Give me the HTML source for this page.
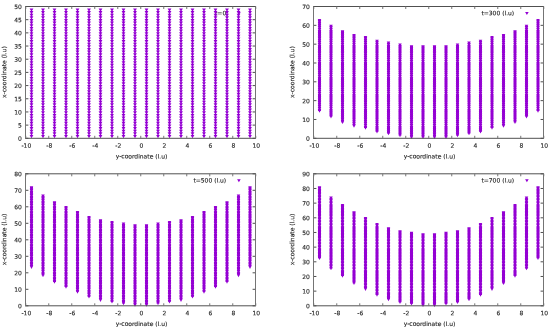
<!DOCTYPE html>
<html lang="en"><head><meta charset="utf-8"><title>Lattice profile plots</title>
<style>html,body{margin:0;padding:0;background:#fff;overflow:hidden}svg{display:block;will-change:transform}text{font-family:"DejaVu Sans", "Liberation Sans", sans-serif;font-size:6px;fill:#222;stroke:#222;stroke-width:0.12px}.lh{stroke:#505050;stroke-width:1;fill:none}.lv{stroke:#747474;stroke-width:1;fill:none}.pt{fill:#9400d3;stroke:none}</style></head><body>
<svg width="550" height="330" viewBox="0 0 550 330">
<rect width="550" height="330" fill="#fff"/>
<g>
<text transform="translate(226.2,15.2) rotate(0.1)" text-anchor="end">t=0</text>
<path class="pt" d="M29.6,134.96h3.8l-1.9,3.4zM29.6,132.33h3.8l-1.9,3.4zM29.6,129.69h3.8l-1.9,3.4zM29.6,127.06h3.8l-1.9,3.4zM29.6,124.42h3.8l-1.9,3.4zM29.6,121.78h3.8l-1.9,3.4zM29.6,119.15h3.8l-1.9,3.4zM29.6,116.51h3.8l-1.9,3.4zM29.6,113.88h3.8l-1.9,3.4zM29.6,111.24h3.8l-1.9,3.4zM29.6,108.6h3.8l-1.9,3.4zM29.6,105.97h3.8l-1.9,3.4zM29.6,103.33h3.8l-1.9,3.4zM29.6,100.7h3.8l-1.9,3.4zM29.6,98.06h3.8l-1.9,3.4zM29.6,95.42h3.8l-1.9,3.4zM29.6,92.79h3.8l-1.9,3.4zM29.6,90.15h3.8l-1.9,3.4zM29.6,87.52h3.8l-1.9,3.4zM29.6,84.88h3.8l-1.9,3.4zM29.6,82.24h3.8l-1.9,3.4zM29.6,79.61h3.8l-1.9,3.4zM29.6,76.97h3.8l-1.9,3.4zM29.6,74.34h3.8l-1.9,3.4zM29.6,71.7h3.8l-1.9,3.4zM29.6,69.06h3.8l-1.9,3.4zM29.6,66.43h3.8l-1.9,3.4zM29.6,63.79h3.8l-1.9,3.4zM29.6,61.16h3.8l-1.9,3.4zM29.6,58.52h3.8l-1.9,3.4zM29.6,55.88h3.8l-1.9,3.4zM29.6,53.25h3.8l-1.9,3.4zM29.6,50.61h3.8l-1.9,3.4zM29.6,47.98h3.8l-1.9,3.4zM29.6,45.34h3.8l-1.9,3.4zM29.6,42.7h3.8l-1.9,3.4zM29.6,40.07h3.8l-1.9,3.4zM29.6,37.43h3.8l-1.9,3.4zM29.6,34.8h3.8l-1.9,3.4zM29.6,32.16h3.8l-1.9,3.4zM29.6,29.52h3.8l-1.9,3.4zM29.6,26.89h3.8l-1.9,3.4zM29.6,24.25h3.8l-1.9,3.4zM29.6,21.62h3.8l-1.9,3.4zM29.6,18.98h3.8l-1.9,3.4zM29.6,16.34h3.8l-1.9,3.4zM29.6,13.71h3.8l-1.9,3.4zM29.6,11.07h3.8l-1.9,3.4zM29.6,8.44h3.8l-1.9,3.4zM41.1,134.96h3.8l-1.9,3.4zM41.1,132.33h3.8l-1.9,3.4zM41.1,129.69h3.8l-1.9,3.4zM41.1,127.06h3.8l-1.9,3.4zM41.1,124.42h3.8l-1.9,3.4zM41.1,121.78h3.8l-1.9,3.4zM41.1,119.15h3.8l-1.9,3.4zM41.1,116.51h3.8l-1.9,3.4zM41.1,113.88h3.8l-1.9,3.4zM41.1,111.24h3.8l-1.9,3.4zM41.1,108.6h3.8l-1.9,3.4zM41.1,105.97h3.8l-1.9,3.4zM41.1,103.33h3.8l-1.9,3.4zM41.1,100.7h3.8l-1.9,3.4zM41.1,98.06h3.8l-1.9,3.4zM41.1,95.42h3.8l-1.9,3.4zM41.1,92.79h3.8l-1.9,3.4zM41.1,90.15h3.8l-1.9,3.4zM41.1,87.52h3.8l-1.9,3.4zM41.1,84.88h3.8l-1.9,3.4zM41.1,82.24h3.8l-1.9,3.4zM41.1,79.61h3.8l-1.9,3.4zM41.1,76.97h3.8l-1.9,3.4zM41.1,74.34h3.8l-1.9,3.4zM41.1,71.7h3.8l-1.9,3.4zM41.1,69.06h3.8l-1.9,3.4zM41.1,66.43h3.8l-1.9,3.4zM41.1,63.79h3.8l-1.9,3.4zM41.1,61.16h3.8l-1.9,3.4zM41.1,58.52h3.8l-1.9,3.4zM41.1,55.88h3.8l-1.9,3.4zM41.1,53.25h3.8l-1.9,3.4zM41.1,50.61h3.8l-1.9,3.4zM41.1,47.98h3.8l-1.9,3.4zM41.1,45.34h3.8l-1.9,3.4zM41.1,42.7h3.8l-1.9,3.4zM41.1,40.07h3.8l-1.9,3.4zM41.1,37.43h3.8l-1.9,3.4zM41.1,34.8h3.8l-1.9,3.4zM41.1,32.16h3.8l-1.9,3.4zM41.1,29.52h3.8l-1.9,3.4zM41.1,26.89h3.8l-1.9,3.4zM41.1,24.25h3.8l-1.9,3.4zM41.1,21.62h3.8l-1.9,3.4zM41.1,18.98h3.8l-1.9,3.4zM41.1,16.34h3.8l-1.9,3.4zM41.1,13.71h3.8l-1.9,3.4zM41.1,11.07h3.8l-1.9,3.4zM41.1,8.44h3.8l-1.9,3.4zM52.6,134.96h3.8l-1.9,3.4zM52.6,132.33h3.8l-1.9,3.4zM52.6,129.69h3.8l-1.9,3.4zM52.6,127.06h3.8l-1.9,3.4zM52.6,124.42h3.8l-1.9,3.4zM52.6,121.78h3.8l-1.9,3.4zM52.6,119.15h3.8l-1.9,3.4zM52.6,116.51h3.8l-1.9,3.4zM52.6,113.88h3.8l-1.9,3.4zM52.6,111.24h3.8l-1.9,3.4zM52.6,108.6h3.8l-1.9,3.4zM52.6,105.97h3.8l-1.9,3.4zM52.6,103.33h3.8l-1.9,3.4zM52.6,100.7h3.8l-1.9,3.4zM52.6,98.06h3.8l-1.9,3.4zM52.6,95.42h3.8l-1.9,3.4zM52.6,92.79h3.8l-1.9,3.4zM52.6,90.15h3.8l-1.9,3.4zM52.6,87.52h3.8l-1.9,3.4zM52.6,84.88h3.8l-1.9,3.4zM52.6,82.24h3.8l-1.9,3.4zM52.6,79.61h3.8l-1.9,3.4zM52.6,76.97h3.8l-1.9,3.4zM52.6,74.34h3.8l-1.9,3.4zM52.6,71.7h3.8l-1.9,3.4zM52.6,69.06h3.8l-1.9,3.4zM52.6,66.43h3.8l-1.9,3.4zM52.6,63.79h3.8l-1.9,3.4zM52.6,61.16h3.8l-1.9,3.4zM52.6,58.52h3.8l-1.9,3.4zM52.6,55.88h3.8l-1.9,3.4zM52.6,53.25h3.8l-1.9,3.4zM52.6,50.61h3.8l-1.9,3.4zM52.6,47.98h3.8l-1.9,3.4zM52.6,45.34h3.8l-1.9,3.4zM52.6,42.7h3.8l-1.9,3.4zM52.6,40.07h3.8l-1.9,3.4zM52.6,37.43h3.8l-1.9,3.4zM52.6,34.8h3.8l-1.9,3.4zM52.6,32.16h3.8l-1.9,3.4zM52.6,29.52h3.8l-1.9,3.4zM52.6,26.89h3.8l-1.9,3.4zM52.6,24.25h3.8l-1.9,3.4zM52.6,21.62h3.8l-1.9,3.4zM52.6,18.98h3.8l-1.9,3.4zM52.6,16.34h3.8l-1.9,3.4zM52.6,13.71h3.8l-1.9,3.4zM52.6,11.07h3.8l-1.9,3.4zM52.6,8.44h3.8l-1.9,3.4zM64.1,134.96h3.8l-1.9,3.4zM64.1,132.33h3.8l-1.9,3.4zM64.1,129.69h3.8l-1.9,3.4zM64.1,127.06h3.8l-1.9,3.4zM64.1,124.42h3.8l-1.9,3.4zM64.1,121.78h3.8l-1.9,3.4zM64.1,119.15h3.8l-1.9,3.4zM64.1,116.51h3.8l-1.9,3.4zM64.1,113.88h3.8l-1.9,3.4zM64.1,111.24h3.8l-1.9,3.4zM64.1,108.6h3.8l-1.9,3.4zM64.1,105.97h3.8l-1.9,3.4zM64.1,103.33h3.8l-1.9,3.4zM64.1,100.7h3.8l-1.9,3.4zM64.1,98.06h3.8l-1.9,3.4zM64.1,95.42h3.8l-1.9,3.4zM64.1,92.79h3.8l-1.9,3.4zM64.1,90.15h3.8l-1.9,3.4zM64.1,87.52h3.8l-1.9,3.4zM64.1,84.88h3.8l-1.9,3.4zM64.1,82.24h3.8l-1.9,3.4zM64.1,79.61h3.8l-1.9,3.4zM64.1,76.97h3.8l-1.9,3.4zM64.1,74.34h3.8l-1.9,3.4zM64.1,71.7h3.8l-1.9,3.4zM64.1,69.06h3.8l-1.9,3.4zM64.1,66.43h3.8l-1.9,3.4zM64.1,63.79h3.8l-1.9,3.4zM64.1,61.16h3.8l-1.9,3.4zM64.1,58.52h3.8l-1.9,3.4zM64.1,55.88h3.8l-1.9,3.4zM64.1,53.25h3.8l-1.9,3.4zM64.1,50.61h3.8l-1.9,3.4zM64.1,47.98h3.8l-1.9,3.4zM64.1,45.34h3.8l-1.9,3.4zM64.1,42.7h3.8l-1.9,3.4zM64.1,40.07h3.8l-1.9,3.4zM64.1,37.43h3.8l-1.9,3.4zM64.1,34.8h3.8l-1.9,3.4zM64.1,32.16h3.8l-1.9,3.4zM64.1,29.52h3.8l-1.9,3.4zM64.1,26.89h3.8l-1.9,3.4zM64.1,24.25h3.8l-1.9,3.4zM64.1,21.62h3.8l-1.9,3.4zM64.1,18.98h3.8l-1.9,3.4zM64.1,16.34h3.8l-1.9,3.4zM64.1,13.71h3.8l-1.9,3.4zM64.1,11.07h3.8l-1.9,3.4zM64.1,8.44h3.8l-1.9,3.4zM75.6,134.96h3.8l-1.9,3.4zM75.6,132.33h3.8l-1.9,3.4zM75.6,129.69h3.8l-1.9,3.4zM75.6,127.06h3.8l-1.9,3.4zM75.6,124.42h3.8l-1.9,3.4zM75.6,121.78h3.8l-1.9,3.4zM75.6,119.15h3.8l-1.9,3.4zM75.6,116.51h3.8l-1.9,3.4zM75.6,113.88h3.8l-1.9,3.4zM75.6,111.24h3.8l-1.9,3.4zM75.6,108.6h3.8l-1.9,3.4zM75.6,105.97h3.8l-1.9,3.4zM75.6,103.33h3.8l-1.9,3.4zM75.6,100.7h3.8l-1.9,3.4zM75.6,98.06h3.8l-1.9,3.4zM75.6,95.42h3.8l-1.9,3.4zM75.6,92.79h3.8l-1.9,3.4zM75.6,90.15h3.8l-1.9,3.4zM75.6,87.52h3.8l-1.9,3.4zM75.6,84.88h3.8l-1.9,3.4zM75.6,82.24h3.8l-1.9,3.4zM75.6,79.61h3.8l-1.9,3.4zM75.6,76.97h3.8l-1.9,3.4zM75.6,74.34h3.8l-1.9,3.4zM75.6,71.7h3.8l-1.9,3.4zM75.6,69.06h3.8l-1.9,3.4zM75.6,66.43h3.8l-1.9,3.4zM75.6,63.79h3.8l-1.9,3.4zM75.6,61.16h3.8l-1.9,3.4zM75.6,58.52h3.8l-1.9,3.4zM75.6,55.88h3.8l-1.9,3.4zM75.6,53.25h3.8l-1.9,3.4zM75.6,50.61h3.8l-1.9,3.4zM75.6,47.98h3.8l-1.9,3.4zM75.6,45.34h3.8l-1.9,3.4zM75.6,42.7h3.8l-1.9,3.4zM75.6,40.07h3.8l-1.9,3.4zM75.6,37.43h3.8l-1.9,3.4zM75.6,34.8h3.8l-1.9,3.4zM75.6,32.16h3.8l-1.9,3.4zM75.6,29.52h3.8l-1.9,3.4zM75.6,26.89h3.8l-1.9,3.4zM75.6,24.25h3.8l-1.9,3.4zM75.6,21.62h3.8l-1.9,3.4zM75.6,18.98h3.8l-1.9,3.4zM75.6,16.34h3.8l-1.9,3.4zM75.6,13.71h3.8l-1.9,3.4zM75.6,11.07h3.8l-1.9,3.4zM75.6,8.44h3.8l-1.9,3.4zM87.1,134.96h3.8l-1.9,3.4zM87.1,132.33h3.8l-1.9,3.4zM87.1,129.69h3.8l-1.9,3.4zM87.1,127.06h3.8l-1.9,3.4zM87.1,124.42h3.8l-1.9,3.4zM87.1,121.78h3.8l-1.9,3.4zM87.1,119.15h3.8l-1.9,3.4zM87.1,116.51h3.8l-1.9,3.4zM87.1,113.88h3.8l-1.9,3.4zM87.1,111.24h3.8l-1.9,3.4zM87.1,108.6h3.8l-1.9,3.4zM87.1,105.97h3.8l-1.9,3.4zM87.1,103.33h3.8l-1.9,3.4zM87.1,100.7h3.8l-1.9,3.4zM87.1,98.06h3.8l-1.9,3.4zM87.1,95.42h3.8l-1.9,3.4zM87.1,92.79h3.8l-1.9,3.4zM87.1,90.15h3.8l-1.9,3.4zM87.1,87.52h3.8l-1.9,3.4zM87.1,84.88h3.8l-1.9,3.4zM87.1,82.24h3.8l-1.9,3.4zM87.1,79.61h3.8l-1.9,3.4zM87.1,76.97h3.8l-1.9,3.4zM87.1,74.34h3.8l-1.9,3.4zM87.1,71.7h3.8l-1.9,3.4zM87.1,69.06h3.8l-1.9,3.4zM87.1,66.43h3.8l-1.9,3.4zM87.1,63.79h3.8l-1.9,3.4zM87.1,61.16h3.8l-1.9,3.4zM87.1,58.52h3.8l-1.9,3.4zM87.1,55.88h3.8l-1.9,3.4zM87.1,53.25h3.8l-1.9,3.4zM87.1,50.61h3.8l-1.9,3.4zM87.1,47.98h3.8l-1.9,3.4zM87.1,45.34h3.8l-1.9,3.4zM87.1,42.7h3.8l-1.9,3.4zM87.1,40.07h3.8l-1.9,3.4zM87.1,37.43h3.8l-1.9,3.4zM87.1,34.8h3.8l-1.9,3.4zM87.1,32.16h3.8l-1.9,3.4zM87.1,29.52h3.8l-1.9,3.4zM87.1,26.89h3.8l-1.9,3.4zM87.1,24.25h3.8l-1.9,3.4zM87.1,21.62h3.8l-1.9,3.4zM87.1,18.98h3.8l-1.9,3.4zM87.1,16.34h3.8l-1.9,3.4zM87.1,13.71h3.8l-1.9,3.4zM87.1,11.07h3.8l-1.9,3.4zM87.1,8.44h3.8l-1.9,3.4zM98.6,134.96h3.8l-1.9,3.4zM98.6,132.33h3.8l-1.9,3.4zM98.6,129.69h3.8l-1.9,3.4zM98.6,127.06h3.8l-1.9,3.4zM98.6,124.42h3.8l-1.9,3.4zM98.6,121.78h3.8l-1.9,3.4zM98.6,119.15h3.8l-1.9,3.4zM98.6,116.51h3.8l-1.9,3.4zM98.6,113.88h3.8l-1.9,3.4zM98.6,111.24h3.8l-1.9,3.4zM98.6,108.6h3.8l-1.9,3.4zM98.6,105.97h3.8l-1.9,3.4zM98.6,103.33h3.8l-1.9,3.4zM98.6,100.7h3.8l-1.9,3.4zM98.6,98.06h3.8l-1.9,3.4zM98.6,95.42h3.8l-1.9,3.4zM98.6,92.79h3.8l-1.9,3.4zM98.6,90.15h3.8l-1.9,3.4zM98.6,87.52h3.8l-1.9,3.4zM98.6,84.88h3.8l-1.9,3.4zM98.6,82.24h3.8l-1.9,3.4zM98.6,79.61h3.8l-1.9,3.4zM98.6,76.97h3.8l-1.9,3.4zM98.6,74.34h3.8l-1.9,3.4zM98.6,71.7h3.8l-1.9,3.4zM98.6,69.06h3.8l-1.9,3.4zM98.6,66.43h3.8l-1.9,3.4zM98.6,63.79h3.8l-1.9,3.4zM98.6,61.16h3.8l-1.9,3.4zM98.6,58.52h3.8l-1.9,3.4zM98.6,55.88h3.8l-1.9,3.4zM98.6,53.25h3.8l-1.9,3.4zM98.6,50.61h3.8l-1.9,3.4zM98.6,47.98h3.8l-1.9,3.4zM98.6,45.34h3.8l-1.9,3.4zM98.6,42.7h3.8l-1.9,3.4zM98.6,40.07h3.8l-1.9,3.4zM98.6,37.43h3.8l-1.9,3.4zM98.6,34.8h3.8l-1.9,3.4zM98.6,32.16h3.8l-1.9,3.4zM98.6,29.52h3.8l-1.9,3.4zM98.6,26.89h3.8l-1.9,3.4zM98.6,24.25h3.8l-1.9,3.4zM98.6,21.62h3.8l-1.9,3.4zM98.6,18.98h3.8l-1.9,3.4zM98.6,16.34h3.8l-1.9,3.4zM98.6,13.71h3.8l-1.9,3.4zM98.6,11.07h3.8l-1.9,3.4zM98.6,8.44h3.8l-1.9,3.4zM110.1,134.96h3.8l-1.9,3.4zM110.1,132.33h3.8l-1.9,3.4zM110.1,129.69h3.8l-1.9,3.4zM110.1,127.06h3.8l-1.9,3.4zM110.1,124.42h3.8l-1.9,3.4zM110.1,121.78h3.8l-1.9,3.4zM110.1,119.15h3.8l-1.9,3.4zM110.1,116.51h3.8l-1.9,3.4zM110.1,113.88h3.8l-1.9,3.4zM110.1,111.24h3.8l-1.9,3.4zM110.1,108.6h3.8l-1.9,3.4zM110.1,105.97h3.8l-1.9,3.4zM110.1,103.33h3.8l-1.9,3.4zM110.1,100.7h3.8l-1.9,3.4zM110.1,98.06h3.8l-1.9,3.4zM110.1,95.42h3.8l-1.9,3.4zM110.1,92.79h3.8l-1.9,3.4zM110.1,90.15h3.8l-1.9,3.4zM110.1,87.52h3.8l-1.9,3.4zM110.1,84.88h3.8l-1.9,3.4zM110.1,82.24h3.8l-1.9,3.4zM110.1,79.61h3.8l-1.9,3.4zM110.1,76.97h3.8l-1.9,3.4zM110.1,74.34h3.8l-1.9,3.4zM110.1,71.7h3.8l-1.9,3.4zM110.1,69.06h3.8l-1.9,3.4zM110.1,66.43h3.8l-1.9,3.4zM110.1,63.79h3.8l-1.9,3.4zM110.1,61.16h3.8l-1.9,3.4zM110.1,58.52h3.8l-1.9,3.4zM110.1,55.88h3.8l-1.9,3.4zM110.1,53.25h3.8l-1.9,3.4zM110.1,50.61h3.8l-1.9,3.4zM110.1,47.98h3.8l-1.9,3.4zM110.1,45.34h3.8l-1.9,3.4zM110.1,42.7h3.8l-1.9,3.4zM110.1,40.07h3.8l-1.9,3.4zM110.1,37.43h3.8l-1.9,3.4zM110.1,34.8h3.8l-1.9,3.4zM110.1,32.16h3.8l-1.9,3.4zM110.1,29.52h3.8l-1.9,3.4zM110.1,26.89h3.8l-1.9,3.4zM110.1,24.25h3.8l-1.9,3.4zM110.1,21.62h3.8l-1.9,3.4zM110.1,18.98h3.8l-1.9,3.4zM110.1,16.34h3.8l-1.9,3.4zM110.1,13.71h3.8l-1.9,3.4zM110.1,11.07h3.8l-1.9,3.4zM110.1,8.44h3.8l-1.9,3.4zM121.6,134.96h3.8l-1.9,3.4zM121.6,132.33h3.8l-1.9,3.4zM121.6,129.69h3.8l-1.9,3.4zM121.6,127.06h3.8l-1.9,3.4zM121.6,124.42h3.8l-1.9,3.4zM121.6,121.78h3.8l-1.9,3.4zM121.6,119.15h3.8l-1.9,3.4zM121.6,116.51h3.8l-1.9,3.4zM121.6,113.88h3.8l-1.9,3.4zM121.6,111.24h3.8l-1.9,3.4zM121.6,108.6h3.8l-1.9,3.4zM121.6,105.97h3.8l-1.9,3.4zM121.6,103.33h3.8l-1.9,3.4zM121.6,100.7h3.8l-1.9,3.4zM121.6,98.06h3.8l-1.9,3.4zM121.6,95.42h3.8l-1.9,3.4zM121.6,92.79h3.8l-1.9,3.4zM121.6,90.15h3.8l-1.9,3.4zM121.6,87.52h3.8l-1.9,3.4zM121.6,84.88h3.8l-1.9,3.4zM121.6,82.24h3.8l-1.9,3.4zM121.6,79.61h3.8l-1.9,3.4zM121.6,76.97h3.8l-1.9,3.4zM121.6,74.34h3.8l-1.9,3.4zM121.6,71.7h3.8l-1.9,3.4zM121.6,69.06h3.8l-1.9,3.4zM121.6,66.43h3.8l-1.9,3.4zM121.6,63.79h3.8l-1.9,3.4zM121.6,61.16h3.8l-1.9,3.4zM121.6,58.52h3.8l-1.9,3.4zM121.6,55.88h3.8l-1.9,3.4zM121.6,53.25h3.8l-1.9,3.4zM121.6,50.61h3.8l-1.9,3.4zM121.6,47.98h3.8l-1.9,3.4zM121.6,45.34h3.8l-1.9,3.4zM121.6,42.7h3.8l-1.9,3.4zM121.6,40.07h3.8l-1.9,3.4zM121.6,37.43h3.8l-1.9,3.4zM121.6,34.8h3.8l-1.9,3.4zM121.6,32.16h3.8l-1.9,3.4zM121.6,29.52h3.8l-1.9,3.4zM121.6,26.89h3.8l-1.9,3.4zM121.6,24.25h3.8l-1.9,3.4zM121.6,21.62h3.8l-1.9,3.4zM121.6,18.98h3.8l-1.9,3.4zM121.6,16.34h3.8l-1.9,3.4zM121.6,13.71h3.8l-1.9,3.4zM121.6,11.07h3.8l-1.9,3.4zM121.6,8.44h3.8l-1.9,3.4zM133.1,134.96h3.8l-1.9,3.4zM133.1,132.33h3.8l-1.9,3.4zM133.1,129.69h3.8l-1.9,3.4zM133.1,127.06h3.8l-1.9,3.4zM133.1,124.42h3.8l-1.9,3.4zM133.1,121.78h3.8l-1.9,3.4zM133.1,119.15h3.8l-1.9,3.4zM133.1,116.51h3.8l-1.9,3.4zM133.1,113.88h3.8l-1.9,3.4zM133.1,111.24h3.8l-1.9,3.4zM133.1,108.6h3.8l-1.9,3.4zM133.1,105.97h3.8l-1.9,3.4zM133.1,103.33h3.8l-1.9,3.4zM133.1,100.7h3.8l-1.9,3.4zM133.1,98.06h3.8l-1.9,3.4zM133.1,95.42h3.8l-1.9,3.4zM133.1,92.79h3.8l-1.9,3.4zM133.1,90.15h3.8l-1.9,3.4zM133.1,87.52h3.8l-1.9,3.4zM133.1,84.88h3.8l-1.9,3.4zM133.1,82.24h3.8l-1.9,3.4zM133.1,79.61h3.8l-1.9,3.4zM133.1,76.97h3.8l-1.9,3.4zM133.1,74.34h3.8l-1.9,3.4zM133.1,71.7h3.8l-1.9,3.4zM133.1,69.06h3.8l-1.9,3.4zM133.1,66.43h3.8l-1.9,3.4zM133.1,63.79h3.8l-1.9,3.4zM133.1,61.16h3.8l-1.9,3.4zM133.1,58.52h3.8l-1.9,3.4zM133.1,55.88h3.8l-1.9,3.4zM133.1,53.25h3.8l-1.9,3.4zM133.1,50.61h3.8l-1.9,3.4zM133.1,47.98h3.8l-1.9,3.4zM133.1,45.34h3.8l-1.9,3.4zM133.1,42.7h3.8l-1.9,3.4zM133.1,40.07h3.8l-1.9,3.4zM133.1,37.43h3.8l-1.9,3.4zM133.1,34.8h3.8l-1.9,3.4zM133.1,32.16h3.8l-1.9,3.4zM133.1,29.52h3.8l-1.9,3.4zM133.1,26.89h3.8l-1.9,3.4zM133.1,24.25h3.8l-1.9,3.4zM133.1,21.62h3.8l-1.9,3.4zM133.1,18.98h3.8l-1.9,3.4zM133.1,16.34h3.8l-1.9,3.4zM133.1,13.71h3.8l-1.9,3.4zM133.1,11.07h3.8l-1.9,3.4zM133.1,8.44h3.8l-1.9,3.4zM144.6,134.96h3.8l-1.9,3.4zM144.6,132.33h3.8l-1.9,3.4zM144.6,129.69h3.8l-1.9,3.4zM144.6,127.06h3.8l-1.9,3.4zM144.6,124.42h3.8l-1.9,3.4zM144.6,121.78h3.8l-1.9,3.4zM144.6,119.15h3.8l-1.9,3.4zM144.6,116.51h3.8l-1.9,3.4zM144.6,113.88h3.8l-1.9,3.4zM144.6,111.24h3.8l-1.9,3.4zM144.6,108.6h3.8l-1.9,3.4zM144.6,105.97h3.8l-1.9,3.4zM144.6,103.33h3.8l-1.9,3.4zM144.6,100.7h3.8l-1.9,3.4zM144.6,98.06h3.8l-1.9,3.4zM144.6,95.42h3.8l-1.9,3.4zM144.6,92.79h3.8l-1.9,3.4zM144.6,90.15h3.8l-1.9,3.4zM144.6,87.52h3.8l-1.9,3.4zM144.6,84.88h3.8l-1.9,3.4zM144.6,82.24h3.8l-1.9,3.4zM144.6,79.61h3.8l-1.9,3.4zM144.6,76.97h3.8l-1.9,3.4zM144.6,74.34h3.8l-1.9,3.4zM144.6,71.7h3.8l-1.9,3.4zM144.6,69.06h3.8l-1.9,3.4zM144.6,66.43h3.8l-1.9,3.4zM144.6,63.79h3.8l-1.9,3.4zM144.6,61.16h3.8l-1.9,3.4zM144.6,58.52h3.8l-1.9,3.4zM144.6,55.88h3.8l-1.9,3.4zM144.6,53.25h3.8l-1.9,3.4zM144.6,50.61h3.8l-1.9,3.4zM144.6,47.98h3.8l-1.9,3.4zM144.6,45.34h3.8l-1.9,3.4zM144.6,42.7h3.8l-1.9,3.4zM144.6,40.07h3.8l-1.9,3.4zM144.6,37.43h3.8l-1.9,3.4zM144.6,34.8h3.8l-1.9,3.4zM144.6,32.16h3.8l-1.9,3.4zM144.6,29.52h3.8l-1.9,3.4zM144.6,26.89h3.8l-1.9,3.4zM144.6,24.25h3.8l-1.9,3.4zM144.6,21.62h3.8l-1.9,3.4zM144.6,18.98h3.8l-1.9,3.4zM144.6,16.34h3.8l-1.9,3.4zM144.6,13.71h3.8l-1.9,3.4zM144.6,11.07h3.8l-1.9,3.4zM144.6,8.44h3.8l-1.9,3.4zM156.1,134.96h3.8l-1.9,3.4zM156.1,132.33h3.8l-1.9,3.4zM156.1,129.69h3.8l-1.9,3.4zM156.1,127.06h3.8l-1.9,3.4zM156.1,124.42h3.8l-1.9,3.4zM156.1,121.78h3.8l-1.9,3.4zM156.1,119.15h3.8l-1.9,3.4zM156.1,116.51h3.8l-1.9,3.4zM156.1,113.88h3.8l-1.9,3.4zM156.1,111.24h3.8l-1.9,3.4zM156.1,108.6h3.8l-1.9,3.4zM156.1,105.97h3.8l-1.9,3.4zM156.1,103.33h3.8l-1.9,3.4zM156.1,100.7h3.8l-1.9,3.4zM156.1,98.06h3.8l-1.9,3.4zM156.1,95.42h3.8l-1.9,3.4zM156.1,92.79h3.8l-1.9,3.4zM156.1,90.15h3.8l-1.9,3.4zM156.1,87.52h3.8l-1.9,3.4zM156.1,84.88h3.8l-1.9,3.4zM156.1,82.24h3.8l-1.9,3.4zM156.1,79.61h3.8l-1.9,3.4zM156.1,76.97h3.8l-1.9,3.4zM156.1,74.34h3.8l-1.9,3.4zM156.1,71.7h3.8l-1.9,3.4zM156.1,69.06h3.8l-1.9,3.4zM156.1,66.43h3.8l-1.9,3.4zM156.1,63.79h3.8l-1.9,3.4zM156.1,61.16h3.8l-1.9,3.4zM156.1,58.52h3.8l-1.9,3.4zM156.1,55.88h3.8l-1.9,3.4zM156.1,53.25h3.8l-1.9,3.4zM156.1,50.61h3.8l-1.9,3.4zM156.1,47.98h3.8l-1.9,3.4zM156.1,45.34h3.8l-1.9,3.4zM156.1,42.7h3.8l-1.9,3.4zM156.1,40.07h3.8l-1.9,3.4zM156.1,37.43h3.8l-1.9,3.4zM156.1,34.8h3.8l-1.9,3.4zM156.1,32.16h3.8l-1.9,3.4zM156.1,29.52h3.8l-1.9,3.4zM156.1,26.89h3.8l-1.9,3.4zM156.1,24.25h3.8l-1.9,3.4zM156.1,21.62h3.8l-1.9,3.4zM156.1,18.98h3.8l-1.9,3.4zM156.1,16.34h3.8l-1.9,3.4zM156.1,13.71h3.8l-1.9,3.4zM156.1,11.07h3.8l-1.9,3.4zM156.1,8.44h3.8l-1.9,3.4zM167.6,134.96h3.8l-1.9,3.4zM167.6,132.33h3.8l-1.9,3.4zM167.6,129.69h3.8l-1.9,3.4zM167.6,127.06h3.8l-1.9,3.4zM167.6,124.42h3.8l-1.9,3.4zM167.6,121.78h3.8l-1.9,3.4zM167.6,119.15h3.8l-1.9,3.4zM167.6,116.51h3.8l-1.9,3.4zM167.6,113.88h3.8l-1.9,3.4zM167.6,111.24h3.8l-1.9,3.4zM167.6,108.6h3.8l-1.9,3.4zM167.6,105.97h3.8l-1.9,3.4zM167.6,103.33h3.8l-1.9,3.4zM167.6,100.7h3.8l-1.9,3.4zM167.6,98.06h3.8l-1.9,3.4zM167.6,95.42h3.8l-1.9,3.4zM167.6,92.79h3.8l-1.9,3.4zM167.6,90.15h3.8l-1.9,3.4zM167.6,87.52h3.8l-1.9,3.4zM167.6,84.88h3.8l-1.9,3.4zM167.6,82.24h3.8l-1.9,3.4zM167.6,79.61h3.8l-1.9,3.4zM167.6,76.97h3.8l-1.9,3.4zM167.6,74.34h3.8l-1.9,3.4zM167.6,71.7h3.8l-1.9,3.4zM167.6,69.06h3.8l-1.9,3.4zM167.6,66.43h3.8l-1.9,3.4zM167.6,63.79h3.8l-1.9,3.4zM167.6,61.16h3.8l-1.9,3.4zM167.6,58.52h3.8l-1.9,3.4zM167.6,55.88h3.8l-1.9,3.4zM167.6,53.25h3.8l-1.9,3.4zM167.6,50.61h3.8l-1.9,3.4zM167.6,47.98h3.8l-1.9,3.4zM167.6,45.34h3.8l-1.9,3.4zM167.6,42.7h3.8l-1.9,3.4zM167.6,40.07h3.8l-1.9,3.4zM167.6,37.43h3.8l-1.9,3.4zM167.6,34.8h3.8l-1.9,3.4zM167.6,32.16h3.8l-1.9,3.4zM167.6,29.52h3.8l-1.9,3.4zM167.6,26.89h3.8l-1.9,3.4zM167.6,24.25h3.8l-1.9,3.4zM167.6,21.62h3.8l-1.9,3.4zM167.6,18.98h3.8l-1.9,3.4zM167.6,16.34h3.8l-1.9,3.4zM167.6,13.71h3.8l-1.9,3.4zM167.6,11.07h3.8l-1.9,3.4zM167.6,8.44h3.8l-1.9,3.4zM179.1,134.96h3.8l-1.9,3.4zM179.1,132.33h3.8l-1.9,3.4zM179.1,129.69h3.8l-1.9,3.4zM179.1,127.06h3.8l-1.9,3.4zM179.1,124.42h3.8l-1.9,3.4zM179.1,121.78h3.8l-1.9,3.4zM179.1,119.15h3.8l-1.9,3.4zM179.1,116.51h3.8l-1.9,3.4zM179.1,113.88h3.8l-1.9,3.4zM179.1,111.24h3.8l-1.9,3.4zM179.1,108.6h3.8l-1.9,3.4zM179.1,105.97h3.8l-1.9,3.4zM179.1,103.33h3.8l-1.9,3.4zM179.1,100.7h3.8l-1.9,3.4zM179.1,98.06h3.8l-1.9,3.4zM179.1,95.42h3.8l-1.9,3.4zM179.1,92.79h3.8l-1.9,3.4zM179.1,90.15h3.8l-1.9,3.4zM179.1,87.52h3.8l-1.9,3.4zM179.1,84.88h3.8l-1.9,3.4zM179.1,82.24h3.8l-1.9,3.4zM179.1,79.61h3.8l-1.9,3.4zM179.1,76.97h3.8l-1.9,3.4zM179.1,74.34h3.8l-1.9,3.4zM179.1,71.7h3.8l-1.9,3.4zM179.1,69.06h3.8l-1.9,3.4zM179.1,66.43h3.8l-1.9,3.4zM179.1,63.79h3.8l-1.9,3.4zM179.1,61.16h3.8l-1.9,3.4zM179.1,58.52h3.8l-1.9,3.4zM179.1,55.88h3.8l-1.9,3.4zM179.1,53.25h3.8l-1.9,3.4zM179.1,50.61h3.8l-1.9,3.4zM179.1,47.98h3.8l-1.9,3.4zM179.1,45.34h3.8l-1.9,3.4zM179.1,42.7h3.8l-1.9,3.4zM179.1,40.07h3.8l-1.9,3.4zM179.1,37.43h3.8l-1.9,3.4zM179.1,34.8h3.8l-1.9,3.4zM179.1,32.16h3.8l-1.9,3.4zM179.1,29.52h3.8l-1.9,3.4zM179.1,26.89h3.8l-1.9,3.4zM179.1,24.25h3.8l-1.9,3.4zM179.1,21.62h3.8l-1.9,3.4zM179.1,18.98h3.8l-1.9,3.4zM179.1,16.34h3.8l-1.9,3.4zM179.1,13.71h3.8l-1.9,3.4zM179.1,11.07h3.8l-1.9,3.4zM179.1,8.44h3.8l-1.9,3.4zM190.6,134.96h3.8l-1.9,3.4zM190.6,132.33h3.8l-1.9,3.4zM190.6,129.69h3.8l-1.9,3.4zM190.6,127.06h3.8l-1.9,3.4zM190.6,124.42h3.8l-1.9,3.4zM190.6,121.78h3.8l-1.9,3.4zM190.6,119.15h3.8l-1.9,3.4zM190.6,116.51h3.8l-1.9,3.4zM190.6,113.88h3.8l-1.9,3.4zM190.6,111.24h3.8l-1.9,3.4zM190.6,108.6h3.8l-1.9,3.4zM190.6,105.97h3.8l-1.9,3.4zM190.6,103.33h3.8l-1.9,3.4zM190.6,100.7h3.8l-1.9,3.4zM190.6,98.06h3.8l-1.9,3.4zM190.6,95.42h3.8l-1.9,3.4zM190.6,92.79h3.8l-1.9,3.4zM190.6,90.15h3.8l-1.9,3.4zM190.6,87.52h3.8l-1.9,3.4zM190.6,84.88h3.8l-1.9,3.4zM190.6,82.24h3.8l-1.9,3.4zM190.6,79.61h3.8l-1.9,3.4zM190.6,76.97h3.8l-1.9,3.4zM190.6,74.34h3.8l-1.9,3.4zM190.6,71.7h3.8l-1.9,3.4zM190.6,69.06h3.8l-1.9,3.4zM190.6,66.43h3.8l-1.9,3.4zM190.6,63.79h3.8l-1.9,3.4zM190.6,61.16h3.8l-1.9,3.4zM190.6,58.52h3.8l-1.9,3.4zM190.6,55.88h3.8l-1.9,3.4zM190.6,53.25h3.8l-1.9,3.4zM190.6,50.61h3.8l-1.9,3.4zM190.6,47.98h3.8l-1.9,3.4zM190.6,45.34h3.8l-1.9,3.4zM190.6,42.7h3.8l-1.9,3.4zM190.6,40.07h3.8l-1.9,3.4zM190.6,37.43h3.8l-1.9,3.4zM190.6,34.8h3.8l-1.9,3.4zM190.6,32.16h3.8l-1.9,3.4zM190.6,29.52h3.8l-1.9,3.4zM190.6,26.89h3.8l-1.9,3.4zM190.6,24.25h3.8l-1.9,3.4zM190.6,21.62h3.8l-1.9,3.4zM190.6,18.98h3.8l-1.9,3.4zM190.6,16.34h3.8l-1.9,3.4zM190.6,13.71h3.8l-1.9,3.4zM190.6,11.07h3.8l-1.9,3.4zM190.6,8.44h3.8l-1.9,3.4zM202.1,134.96h3.8l-1.9,3.4zM202.1,132.33h3.8l-1.9,3.4zM202.1,129.69h3.8l-1.9,3.4zM202.1,127.06h3.8l-1.9,3.4zM202.1,124.42h3.8l-1.9,3.4zM202.1,121.78h3.8l-1.9,3.4zM202.1,119.15h3.8l-1.9,3.4zM202.1,116.51h3.8l-1.9,3.4zM202.1,113.88h3.8l-1.9,3.4zM202.1,111.24h3.8l-1.9,3.4zM202.1,108.6h3.8l-1.9,3.4zM202.1,105.97h3.8l-1.9,3.4zM202.1,103.33h3.8l-1.9,3.4zM202.1,100.7h3.8l-1.9,3.4zM202.1,98.06h3.8l-1.9,3.4zM202.1,95.42h3.8l-1.9,3.4zM202.1,92.79h3.8l-1.9,3.4zM202.1,90.15h3.8l-1.9,3.4zM202.1,87.52h3.8l-1.9,3.4zM202.1,84.88h3.8l-1.9,3.4zM202.1,82.24h3.8l-1.9,3.4zM202.1,79.61h3.8l-1.9,3.4zM202.1,76.97h3.8l-1.9,3.4zM202.1,74.34h3.8l-1.9,3.4zM202.1,71.7h3.8l-1.9,3.4zM202.1,69.06h3.8l-1.9,3.4zM202.1,66.43h3.8l-1.9,3.4zM202.1,63.79h3.8l-1.9,3.4zM202.1,61.16h3.8l-1.9,3.4zM202.1,58.52h3.8l-1.9,3.4zM202.1,55.88h3.8l-1.9,3.4zM202.1,53.25h3.8l-1.9,3.4zM202.1,50.61h3.8l-1.9,3.4zM202.1,47.98h3.8l-1.9,3.4zM202.1,45.34h3.8l-1.9,3.4zM202.1,42.7h3.8l-1.9,3.4zM202.1,40.07h3.8l-1.9,3.4zM202.1,37.43h3.8l-1.9,3.4zM202.1,34.8h3.8l-1.9,3.4zM202.1,32.16h3.8l-1.9,3.4zM202.1,29.52h3.8l-1.9,3.4zM202.1,26.89h3.8l-1.9,3.4zM202.1,24.25h3.8l-1.9,3.4zM202.1,21.62h3.8l-1.9,3.4zM202.1,18.98h3.8l-1.9,3.4zM202.1,16.34h3.8l-1.9,3.4zM202.1,13.71h3.8l-1.9,3.4zM202.1,11.07h3.8l-1.9,3.4zM202.1,8.44h3.8l-1.9,3.4zM213.6,134.96h3.8l-1.9,3.4zM213.6,132.33h3.8l-1.9,3.4zM213.6,129.69h3.8l-1.9,3.4zM213.6,127.06h3.8l-1.9,3.4zM213.6,124.42h3.8l-1.9,3.4zM213.6,121.78h3.8l-1.9,3.4zM213.6,119.15h3.8l-1.9,3.4zM213.6,116.51h3.8l-1.9,3.4zM213.6,113.88h3.8l-1.9,3.4zM213.6,111.24h3.8l-1.9,3.4zM213.6,108.6h3.8l-1.9,3.4zM213.6,105.97h3.8l-1.9,3.4zM213.6,103.33h3.8l-1.9,3.4zM213.6,100.7h3.8l-1.9,3.4zM213.6,98.06h3.8l-1.9,3.4zM213.6,95.42h3.8l-1.9,3.4zM213.6,92.79h3.8l-1.9,3.4zM213.6,90.15h3.8l-1.9,3.4zM213.6,87.52h3.8l-1.9,3.4zM213.6,84.88h3.8l-1.9,3.4zM213.6,82.24h3.8l-1.9,3.4zM213.6,79.61h3.8l-1.9,3.4zM213.6,76.97h3.8l-1.9,3.4zM213.6,74.34h3.8l-1.9,3.4zM213.6,71.7h3.8l-1.9,3.4zM213.6,69.06h3.8l-1.9,3.4zM213.6,66.43h3.8l-1.9,3.4zM213.6,63.79h3.8l-1.9,3.4zM213.6,61.16h3.8l-1.9,3.4zM213.6,58.52h3.8l-1.9,3.4zM213.6,55.88h3.8l-1.9,3.4zM213.6,53.25h3.8l-1.9,3.4zM213.6,50.61h3.8l-1.9,3.4zM213.6,47.98h3.8l-1.9,3.4zM213.6,45.34h3.8l-1.9,3.4zM213.6,42.7h3.8l-1.9,3.4zM213.6,40.07h3.8l-1.9,3.4zM213.6,37.43h3.8l-1.9,3.4zM213.6,34.8h3.8l-1.9,3.4zM213.6,32.16h3.8l-1.9,3.4zM213.6,29.52h3.8l-1.9,3.4zM213.6,26.89h3.8l-1.9,3.4zM213.6,24.25h3.8l-1.9,3.4zM213.6,21.62h3.8l-1.9,3.4zM213.6,18.98h3.8l-1.9,3.4zM213.6,16.34h3.8l-1.9,3.4zM213.6,13.71h3.8l-1.9,3.4zM213.6,11.07h3.8l-1.9,3.4zM213.6,8.44h3.8l-1.9,3.4zM225.1,134.96h3.8l-1.9,3.4zM225.1,132.33h3.8l-1.9,3.4zM225.1,129.69h3.8l-1.9,3.4zM225.1,127.06h3.8l-1.9,3.4zM225.1,124.42h3.8l-1.9,3.4zM225.1,121.78h3.8l-1.9,3.4zM225.1,119.15h3.8l-1.9,3.4zM225.1,116.51h3.8l-1.9,3.4zM225.1,113.88h3.8l-1.9,3.4zM225.1,111.24h3.8l-1.9,3.4zM225.1,108.6h3.8l-1.9,3.4zM225.1,105.97h3.8l-1.9,3.4zM225.1,103.33h3.8l-1.9,3.4zM225.1,100.7h3.8l-1.9,3.4zM225.1,98.06h3.8l-1.9,3.4zM225.1,95.42h3.8l-1.9,3.4zM225.1,92.79h3.8l-1.9,3.4zM225.1,90.15h3.8l-1.9,3.4zM225.1,87.52h3.8l-1.9,3.4zM225.1,84.88h3.8l-1.9,3.4zM225.1,82.24h3.8l-1.9,3.4zM225.1,79.61h3.8l-1.9,3.4zM225.1,76.97h3.8l-1.9,3.4zM225.1,74.34h3.8l-1.9,3.4zM225.1,71.7h3.8l-1.9,3.4zM225.1,69.06h3.8l-1.9,3.4zM225.1,66.43h3.8l-1.9,3.4zM225.1,63.79h3.8l-1.9,3.4zM225.1,61.16h3.8l-1.9,3.4zM225.1,58.52h3.8l-1.9,3.4zM225.1,55.88h3.8l-1.9,3.4zM225.1,53.25h3.8l-1.9,3.4zM225.1,50.61h3.8l-1.9,3.4zM225.1,47.98h3.8l-1.9,3.4zM225.1,45.34h3.8l-1.9,3.4zM225.1,42.7h3.8l-1.9,3.4zM225.1,40.07h3.8l-1.9,3.4zM225.1,37.43h3.8l-1.9,3.4zM225.1,34.8h3.8l-1.9,3.4zM225.1,32.16h3.8l-1.9,3.4zM225.1,29.52h3.8l-1.9,3.4zM225.1,26.89h3.8l-1.9,3.4zM225.1,24.25h3.8l-1.9,3.4zM225.1,21.62h3.8l-1.9,3.4zM225.1,18.98h3.8l-1.9,3.4zM225.1,16.34h3.8l-1.9,3.4zM225.1,13.71h3.8l-1.9,3.4zM225.1,11.07h3.8l-1.9,3.4zM225.1,8.44h3.8l-1.9,3.4zM236.6,134.96h3.8l-1.9,3.4zM236.6,132.33h3.8l-1.9,3.4zM236.6,129.69h3.8l-1.9,3.4zM236.6,127.06h3.8l-1.9,3.4zM236.6,124.42h3.8l-1.9,3.4zM236.6,121.78h3.8l-1.9,3.4zM236.6,119.15h3.8l-1.9,3.4zM236.6,116.51h3.8l-1.9,3.4zM236.6,113.88h3.8l-1.9,3.4zM236.6,111.24h3.8l-1.9,3.4zM236.6,108.6h3.8l-1.9,3.4zM236.6,105.97h3.8l-1.9,3.4zM236.6,103.33h3.8l-1.9,3.4zM236.6,100.7h3.8l-1.9,3.4zM236.6,98.06h3.8l-1.9,3.4zM236.6,95.42h3.8l-1.9,3.4zM236.6,92.79h3.8l-1.9,3.4zM236.6,90.15h3.8l-1.9,3.4zM236.6,87.52h3.8l-1.9,3.4zM236.6,84.88h3.8l-1.9,3.4zM236.6,82.24h3.8l-1.9,3.4zM236.6,79.61h3.8l-1.9,3.4zM236.6,76.97h3.8l-1.9,3.4zM236.6,74.34h3.8l-1.9,3.4zM236.6,71.7h3.8l-1.9,3.4zM236.6,69.06h3.8l-1.9,3.4zM236.6,66.43h3.8l-1.9,3.4zM236.6,63.79h3.8l-1.9,3.4zM236.6,61.16h3.8l-1.9,3.4zM236.6,58.52h3.8l-1.9,3.4zM236.6,55.88h3.8l-1.9,3.4zM236.6,53.25h3.8l-1.9,3.4zM236.6,50.61h3.8l-1.9,3.4zM236.6,47.98h3.8l-1.9,3.4zM236.6,45.34h3.8l-1.9,3.4zM236.6,42.7h3.8l-1.9,3.4zM236.6,40.07h3.8l-1.9,3.4zM236.6,37.43h3.8l-1.9,3.4zM236.6,34.8h3.8l-1.9,3.4zM236.6,32.16h3.8l-1.9,3.4zM236.6,29.52h3.8l-1.9,3.4zM236.6,26.89h3.8l-1.9,3.4zM236.6,24.25h3.8l-1.9,3.4zM236.6,21.62h3.8l-1.9,3.4zM236.6,18.98h3.8l-1.9,3.4zM236.6,16.34h3.8l-1.9,3.4zM236.6,13.71h3.8l-1.9,3.4zM236.6,11.07h3.8l-1.9,3.4zM236.6,8.44h3.8l-1.9,3.4zM248.1,134.96h3.8l-1.9,3.4zM248.1,132.33h3.8l-1.9,3.4zM248.1,129.69h3.8l-1.9,3.4zM248.1,127.06h3.8l-1.9,3.4zM248.1,124.42h3.8l-1.9,3.4zM248.1,121.78h3.8l-1.9,3.4zM248.1,119.15h3.8l-1.9,3.4zM248.1,116.51h3.8l-1.9,3.4zM248.1,113.88h3.8l-1.9,3.4zM248.1,111.24h3.8l-1.9,3.4zM248.1,108.6h3.8l-1.9,3.4zM248.1,105.97h3.8l-1.9,3.4zM248.1,103.33h3.8l-1.9,3.4zM248.1,100.7h3.8l-1.9,3.4zM248.1,98.06h3.8l-1.9,3.4zM248.1,95.42h3.8l-1.9,3.4zM248.1,92.79h3.8l-1.9,3.4zM248.1,90.15h3.8l-1.9,3.4zM248.1,87.52h3.8l-1.9,3.4zM248.1,84.88h3.8l-1.9,3.4zM248.1,82.24h3.8l-1.9,3.4zM248.1,79.61h3.8l-1.9,3.4zM248.1,76.97h3.8l-1.9,3.4zM248.1,74.34h3.8l-1.9,3.4zM248.1,71.7h3.8l-1.9,3.4zM248.1,69.06h3.8l-1.9,3.4zM248.1,66.43h3.8l-1.9,3.4zM248.1,63.79h3.8l-1.9,3.4zM248.1,61.16h3.8l-1.9,3.4zM248.1,58.52h3.8l-1.9,3.4zM248.1,55.88h3.8l-1.9,3.4zM248.1,53.25h3.8l-1.9,3.4zM248.1,50.61h3.8l-1.9,3.4zM248.1,47.98h3.8l-1.9,3.4zM248.1,45.34h3.8l-1.9,3.4zM248.1,42.7h3.8l-1.9,3.4zM248.1,40.07h3.8l-1.9,3.4zM248.1,37.43h3.8l-1.9,3.4zM248.1,34.8h3.8l-1.9,3.4zM248.1,32.16h3.8l-1.9,3.4zM248.1,29.52h3.8l-1.9,3.4zM248.1,26.89h3.8l-1.9,3.4zM248.1,24.25h3.8l-1.9,3.4zM248.1,21.62h3.8l-1.9,3.4zM248.1,18.98h3.8l-1.9,3.4zM248.1,16.34h3.8l-1.9,3.4zM248.1,13.71h3.8l-1.9,3.4zM248.1,11.07h3.8l-1.9,3.4zM248.1,8.44h3.8l-1.9,3.4zM237.1,11.95h3.6l-1.8,3z"/>
<path class="lh" d="M25,6.5H256M25,138.3H256M25.5,138.3h2.9M255.5,138.3h-2.9M25.5,125.12h2.9M255.5,125.12h-2.9M25.5,111.94h2.9M255.5,111.94h-2.9M25.5,98.76h2.9M255.5,98.76h-2.9M25.5,85.58h2.9M255.5,85.58h-2.9M25.5,72.4h2.9M255.5,72.4h-2.9M25.5,59.22h2.9M255.5,59.22h-2.9M25.5,46.04h2.9M255.5,46.04h-2.9M25.5,32.86h2.9M255.5,32.86h-2.9M25.5,19.68h2.9M255.5,19.68h-2.9M25.5,6.5h2.9M255.5,6.5h-2.9"/>
<path class="lv" d="M25.5,6.5V138.3M255.5,6.5V138.3M25.75,138.3v-2.5M25.75,6.5v2.5M48.75,138.3v-2.5M48.75,6.5v2.5M71.75,138.3v-2.5M71.75,6.5v2.5M94.75,138.3v-2.5M94.75,6.5v2.5M117.75,138.3v-2.5M117.75,6.5v2.5M140.75,138.3v-2.5M140.75,6.5v2.5M163.75,138.3v-2.5M163.75,6.5v2.5M186.75,138.3v-2.5M186.75,6.5v2.5M209.75,138.3v-2.5M209.75,6.5v2.5M232.75,138.3v-2.5M232.75,6.5v2.5M255.75,138.3v-2.5M255.75,6.5v2.5"/>
<text transform="translate(26.3,147.8) rotate(0.1)" text-anchor="middle">-10</text>
<text transform="translate(49.3,147.8) rotate(0.1)" text-anchor="middle">-8</text>
<text transform="translate(72.3,147.8) rotate(0.1)" text-anchor="middle">-6</text>
<text transform="translate(95.3,147.8) rotate(0.1)" text-anchor="middle">-4</text>
<text transform="translate(118.3,147.8) rotate(0.1)" text-anchor="middle">-2</text>
<text transform="translate(141.3,147.8) rotate(0.1)" text-anchor="middle">0</text>
<text transform="translate(164.3,147.8) rotate(0.1)" text-anchor="middle">2</text>
<text transform="translate(187.3,147.8) rotate(0.1)" text-anchor="middle">4</text>
<text transform="translate(210.3,147.8) rotate(0.1)" text-anchor="middle">6</text>
<text transform="translate(233.3,147.8) rotate(0.1)" text-anchor="middle">8</text>
<text transform="translate(256.3,147.8) rotate(0.1)" text-anchor="middle">10</text>
<text transform="translate(21.9,140.8) rotate(0.1)" text-anchor="end">0</text>
<text transform="translate(21.9,127.62) rotate(0.1)" text-anchor="end">5</text>
<text transform="translate(21.9,114.44) rotate(0.1)" text-anchor="end">10</text>
<text transform="translate(21.9,101.26) rotate(0.1)" text-anchor="end">15</text>
<text transform="translate(21.9,88.08) rotate(0.1)" text-anchor="end">20</text>
<text transform="translate(21.9,74.9) rotate(0.1)" text-anchor="end">25</text>
<text transform="translate(21.9,61.72) rotate(0.1)" text-anchor="end">30</text>
<text transform="translate(21.9,48.54) rotate(0.1)" text-anchor="end">35</text>
<text transform="translate(21.9,35.36) rotate(0.1)" text-anchor="end">40</text>
<text transform="translate(21.9,22.18) rotate(0.1)" text-anchor="end">45</text>
<text transform="translate(21.9,9) rotate(0.1)" text-anchor="end">50</text>
<text transform="translate(141.5,158.4) rotate(0.1)" text-anchor="middle">y-coordinate (l.u)</text>
<text transform="translate(6.2,72.1) rotate(-89.9)" text-anchor="middle">x-coordinate (l.u)</text>
</g>
<g>
<text transform="translate(514.2,15.2) rotate(0.1)" text-anchor="end">t=300 (l.u)</text>
<path class="pt" d="M317.72,109.36h3.56l-1.78,3.4zM317.72,107.47h3.56l-1.78,3.4zM317.72,105.59h3.56l-1.78,3.4zM317.72,103.71h3.56l-1.78,3.4zM317.72,101.83h3.56l-1.78,3.4zM317.72,99.94h3.56l-1.78,3.4zM317.72,98.06h3.56l-1.78,3.4zM317.72,96.18h3.56l-1.78,3.4zM317.72,94.29h3.56l-1.78,3.4zM317.72,92.41h3.56l-1.78,3.4zM317.72,90.53h3.56l-1.78,3.4zM317.72,88.65h3.56l-1.78,3.4zM317.72,86.76h3.56l-1.78,3.4zM317.72,84.88h3.56l-1.78,3.4zM317.72,83h3.56l-1.78,3.4zM317.72,81.11h3.56l-1.78,3.4zM317.72,79.23h3.56l-1.78,3.4zM317.72,77.35h3.56l-1.78,3.4zM317.72,75.47h3.56l-1.78,3.4zM317.72,73.58h3.56l-1.78,3.4zM317.72,71.7h3.56l-1.78,3.4zM317.72,69.82h3.56l-1.78,3.4zM317.72,67.93h3.56l-1.78,3.4zM317.72,66.05h3.56l-1.78,3.4zM317.72,64.17h3.56l-1.78,3.4zM317.72,62.29h3.56l-1.78,3.4zM317.72,60.4h3.56l-1.78,3.4zM317.72,58.52h3.56l-1.78,3.4zM317.72,56.64h3.56l-1.78,3.4zM317.72,54.75h3.56l-1.78,3.4zM317.72,52.87h3.56l-1.78,3.4zM317.72,50.99h3.56l-1.78,3.4zM317.72,49.11h3.56l-1.78,3.4zM317.72,47.22h3.56l-1.78,3.4zM317.72,45.34h3.56l-1.78,3.4zM317.72,43.46h3.56l-1.78,3.4zM317.72,41.57h3.56l-1.78,3.4zM317.72,39.69h3.56l-1.78,3.4zM317.72,37.81h3.56l-1.78,3.4zM317.72,35.93h3.56l-1.78,3.4zM317.72,34.04h3.56l-1.78,3.4zM317.72,32.16h3.56l-1.78,3.4zM317.72,30.28h3.56l-1.78,3.4zM317.72,28.39h3.56l-1.78,3.4zM317.72,26.51h3.56l-1.78,3.4zM317.72,24.63h3.56l-1.78,3.4zM317.72,22.75h3.56l-1.78,3.4zM317.72,20.86h3.56l-1.78,3.4zM317.72,18.98h3.56l-1.78,3.4zM329.22,115.01h3.56l-1.78,3.4zM329.22,113.12h3.56l-1.78,3.4zM329.22,111.24h3.56l-1.78,3.4zM329.22,109.36h3.56l-1.78,3.4zM329.22,107.47h3.56l-1.78,3.4zM329.22,105.59h3.56l-1.78,3.4zM329.22,103.71h3.56l-1.78,3.4zM329.22,101.83h3.56l-1.78,3.4zM329.22,99.94h3.56l-1.78,3.4zM329.22,98.06h3.56l-1.78,3.4zM329.22,96.18h3.56l-1.78,3.4zM329.22,94.29h3.56l-1.78,3.4zM329.22,92.41h3.56l-1.78,3.4zM329.22,90.53h3.56l-1.78,3.4zM329.22,88.65h3.56l-1.78,3.4zM329.22,86.76h3.56l-1.78,3.4zM329.22,84.88h3.56l-1.78,3.4zM329.22,83h3.56l-1.78,3.4zM329.22,81.11h3.56l-1.78,3.4zM329.22,79.23h3.56l-1.78,3.4zM329.22,77.35h3.56l-1.78,3.4zM329.22,75.47h3.56l-1.78,3.4zM329.22,73.58h3.56l-1.78,3.4zM329.22,71.7h3.56l-1.78,3.4zM329.22,69.82h3.56l-1.78,3.4zM329.22,67.93h3.56l-1.78,3.4zM329.22,66.05h3.56l-1.78,3.4zM329.22,64.17h3.56l-1.78,3.4zM329.22,62.29h3.56l-1.78,3.4zM329.22,60.4h3.56l-1.78,3.4zM329.22,58.52h3.56l-1.78,3.4zM329.22,56.64h3.56l-1.78,3.4zM329.22,54.75h3.56l-1.78,3.4zM329.22,52.87h3.56l-1.78,3.4zM329.22,50.99h3.56l-1.78,3.4zM329.22,49.11h3.56l-1.78,3.4zM329.22,47.22h3.56l-1.78,3.4zM329.22,45.34h3.56l-1.78,3.4zM329.22,43.46h3.56l-1.78,3.4zM329.22,41.57h3.56l-1.78,3.4zM329.22,39.69h3.56l-1.78,3.4zM329.22,37.81h3.56l-1.78,3.4zM329.22,35.93h3.56l-1.78,3.4zM329.22,34.04h3.56l-1.78,3.4zM329.22,32.16h3.56l-1.78,3.4zM329.22,30.28h3.56l-1.78,3.4zM329.22,28.39h3.56l-1.78,3.4zM329.22,26.51h3.56l-1.78,3.4zM329.22,24.63h3.56l-1.78,3.4zM340.72,120.65h3.56l-1.78,3.4zM340.72,118.77h3.56l-1.78,3.4zM340.72,116.89h3.56l-1.78,3.4zM340.72,115.01h3.56l-1.78,3.4zM340.72,113.12h3.56l-1.78,3.4zM340.72,111.24h3.56l-1.78,3.4zM340.72,109.36h3.56l-1.78,3.4zM340.72,107.47h3.56l-1.78,3.4zM340.72,105.59h3.56l-1.78,3.4zM340.72,103.71h3.56l-1.78,3.4zM340.72,101.83h3.56l-1.78,3.4zM340.72,99.94h3.56l-1.78,3.4zM340.72,98.06h3.56l-1.78,3.4zM340.72,96.18h3.56l-1.78,3.4zM340.72,94.29h3.56l-1.78,3.4zM340.72,92.41h3.56l-1.78,3.4zM340.72,90.53h3.56l-1.78,3.4zM340.72,88.65h3.56l-1.78,3.4zM340.72,86.76h3.56l-1.78,3.4zM340.72,84.88h3.56l-1.78,3.4zM340.72,83h3.56l-1.78,3.4zM340.72,81.11h3.56l-1.78,3.4zM340.72,79.23h3.56l-1.78,3.4zM340.72,77.35h3.56l-1.78,3.4zM340.72,75.47h3.56l-1.78,3.4zM340.72,73.58h3.56l-1.78,3.4zM340.72,71.7h3.56l-1.78,3.4zM340.72,69.82h3.56l-1.78,3.4zM340.72,67.93h3.56l-1.78,3.4zM340.72,66.05h3.56l-1.78,3.4zM340.72,64.17h3.56l-1.78,3.4zM340.72,62.29h3.56l-1.78,3.4zM340.72,60.4h3.56l-1.78,3.4zM340.72,58.52h3.56l-1.78,3.4zM340.72,56.64h3.56l-1.78,3.4zM340.72,54.75h3.56l-1.78,3.4zM340.72,52.87h3.56l-1.78,3.4zM340.72,50.99h3.56l-1.78,3.4zM340.72,49.11h3.56l-1.78,3.4zM340.72,47.22h3.56l-1.78,3.4zM340.72,45.34h3.56l-1.78,3.4zM340.72,43.46h3.56l-1.78,3.4zM340.72,41.57h3.56l-1.78,3.4zM340.72,39.69h3.56l-1.78,3.4zM340.72,37.81h3.56l-1.78,3.4zM340.72,35.93h3.56l-1.78,3.4zM340.72,34.04h3.56l-1.78,3.4zM340.72,32.16h3.56l-1.78,3.4zM340.72,30.28h3.56l-1.78,3.4zM352.22,124.42h3.56l-1.78,3.4zM352.22,122.54h3.56l-1.78,3.4zM352.22,120.65h3.56l-1.78,3.4zM352.22,118.77h3.56l-1.78,3.4zM352.22,116.89h3.56l-1.78,3.4zM352.22,115.01h3.56l-1.78,3.4zM352.22,113.12h3.56l-1.78,3.4zM352.22,111.24h3.56l-1.78,3.4zM352.22,109.36h3.56l-1.78,3.4zM352.22,107.47h3.56l-1.78,3.4zM352.22,105.59h3.56l-1.78,3.4zM352.22,103.71h3.56l-1.78,3.4zM352.22,101.83h3.56l-1.78,3.4zM352.22,99.94h3.56l-1.78,3.4zM352.22,98.06h3.56l-1.78,3.4zM352.22,96.18h3.56l-1.78,3.4zM352.22,94.29h3.56l-1.78,3.4zM352.22,92.41h3.56l-1.78,3.4zM352.22,90.53h3.56l-1.78,3.4zM352.22,88.65h3.56l-1.78,3.4zM352.22,86.76h3.56l-1.78,3.4zM352.22,84.88h3.56l-1.78,3.4zM352.22,83h3.56l-1.78,3.4zM352.22,81.11h3.56l-1.78,3.4zM352.22,79.23h3.56l-1.78,3.4zM352.22,77.35h3.56l-1.78,3.4zM352.22,75.47h3.56l-1.78,3.4zM352.22,73.58h3.56l-1.78,3.4zM352.22,71.7h3.56l-1.78,3.4zM352.22,69.82h3.56l-1.78,3.4zM352.22,67.93h3.56l-1.78,3.4zM352.22,66.05h3.56l-1.78,3.4zM352.22,64.17h3.56l-1.78,3.4zM352.22,62.29h3.56l-1.78,3.4zM352.22,60.4h3.56l-1.78,3.4zM352.22,58.52h3.56l-1.78,3.4zM352.22,56.64h3.56l-1.78,3.4zM352.22,54.75h3.56l-1.78,3.4zM352.22,52.87h3.56l-1.78,3.4zM352.22,50.99h3.56l-1.78,3.4zM352.22,49.11h3.56l-1.78,3.4zM352.22,47.22h3.56l-1.78,3.4zM352.22,45.34h3.56l-1.78,3.4zM352.22,43.46h3.56l-1.78,3.4zM352.22,41.57h3.56l-1.78,3.4zM352.22,39.69h3.56l-1.78,3.4zM352.22,37.81h3.56l-1.78,3.4zM352.22,35.93h3.56l-1.78,3.4zM352.22,34.04h3.56l-1.78,3.4zM363.72,126.3h3.56l-1.78,3.4zM363.72,124.42h3.56l-1.78,3.4zM363.72,122.54h3.56l-1.78,3.4zM363.72,120.65h3.56l-1.78,3.4zM363.72,118.77h3.56l-1.78,3.4zM363.72,116.89h3.56l-1.78,3.4zM363.72,115.01h3.56l-1.78,3.4zM363.72,113.12h3.56l-1.78,3.4zM363.72,111.24h3.56l-1.78,3.4zM363.72,109.36h3.56l-1.78,3.4zM363.72,107.47h3.56l-1.78,3.4zM363.72,105.59h3.56l-1.78,3.4zM363.72,103.71h3.56l-1.78,3.4zM363.72,101.83h3.56l-1.78,3.4zM363.72,99.94h3.56l-1.78,3.4zM363.72,98.06h3.56l-1.78,3.4zM363.72,96.18h3.56l-1.78,3.4zM363.72,94.29h3.56l-1.78,3.4zM363.72,92.41h3.56l-1.78,3.4zM363.72,90.53h3.56l-1.78,3.4zM363.72,88.65h3.56l-1.78,3.4zM363.72,86.76h3.56l-1.78,3.4zM363.72,84.88h3.56l-1.78,3.4zM363.72,83h3.56l-1.78,3.4zM363.72,81.11h3.56l-1.78,3.4zM363.72,79.23h3.56l-1.78,3.4zM363.72,77.35h3.56l-1.78,3.4zM363.72,75.47h3.56l-1.78,3.4zM363.72,73.58h3.56l-1.78,3.4zM363.72,71.7h3.56l-1.78,3.4zM363.72,69.82h3.56l-1.78,3.4zM363.72,67.93h3.56l-1.78,3.4zM363.72,66.05h3.56l-1.78,3.4zM363.72,64.17h3.56l-1.78,3.4zM363.72,62.29h3.56l-1.78,3.4zM363.72,60.4h3.56l-1.78,3.4zM363.72,58.52h3.56l-1.78,3.4zM363.72,56.64h3.56l-1.78,3.4zM363.72,54.75h3.56l-1.78,3.4zM363.72,52.87h3.56l-1.78,3.4zM363.72,50.99h3.56l-1.78,3.4zM363.72,49.11h3.56l-1.78,3.4zM363.72,47.22h3.56l-1.78,3.4zM363.72,45.34h3.56l-1.78,3.4zM363.72,43.46h3.56l-1.78,3.4zM363.72,41.57h3.56l-1.78,3.4zM363.72,39.69h3.56l-1.78,3.4zM363.72,37.81h3.56l-1.78,3.4zM363.72,35.93h3.56l-1.78,3.4zM375.22,130.07h3.56l-1.78,3.4zM375.22,128.19h3.56l-1.78,3.4zM375.22,126.3h3.56l-1.78,3.4zM375.22,124.42h3.56l-1.78,3.4zM375.22,122.54h3.56l-1.78,3.4zM375.22,120.65h3.56l-1.78,3.4zM375.22,118.77h3.56l-1.78,3.4zM375.22,116.89h3.56l-1.78,3.4zM375.22,115.01h3.56l-1.78,3.4zM375.22,113.12h3.56l-1.78,3.4zM375.22,111.24h3.56l-1.78,3.4zM375.22,109.36h3.56l-1.78,3.4zM375.22,107.47h3.56l-1.78,3.4zM375.22,105.59h3.56l-1.78,3.4zM375.22,103.71h3.56l-1.78,3.4zM375.22,101.83h3.56l-1.78,3.4zM375.22,99.94h3.56l-1.78,3.4zM375.22,98.06h3.56l-1.78,3.4zM375.22,96.18h3.56l-1.78,3.4zM375.22,94.29h3.56l-1.78,3.4zM375.22,92.41h3.56l-1.78,3.4zM375.22,90.53h3.56l-1.78,3.4zM375.22,88.65h3.56l-1.78,3.4zM375.22,86.76h3.56l-1.78,3.4zM375.22,84.88h3.56l-1.78,3.4zM375.22,83h3.56l-1.78,3.4zM375.22,81.11h3.56l-1.78,3.4zM375.22,79.23h3.56l-1.78,3.4zM375.22,77.35h3.56l-1.78,3.4zM375.22,75.47h3.56l-1.78,3.4zM375.22,73.58h3.56l-1.78,3.4zM375.22,71.7h3.56l-1.78,3.4zM375.22,69.82h3.56l-1.78,3.4zM375.22,67.93h3.56l-1.78,3.4zM375.22,66.05h3.56l-1.78,3.4zM375.22,64.17h3.56l-1.78,3.4zM375.22,62.29h3.56l-1.78,3.4zM375.22,60.4h3.56l-1.78,3.4zM375.22,58.52h3.56l-1.78,3.4zM375.22,56.64h3.56l-1.78,3.4zM375.22,54.75h3.56l-1.78,3.4zM375.22,52.87h3.56l-1.78,3.4zM375.22,50.99h3.56l-1.78,3.4zM375.22,49.11h3.56l-1.78,3.4zM375.22,47.22h3.56l-1.78,3.4zM375.22,45.34h3.56l-1.78,3.4zM375.22,43.46h3.56l-1.78,3.4zM375.22,41.57h3.56l-1.78,3.4zM375.22,39.69h3.56l-1.78,3.4zM386.72,131.95h3.56l-1.78,3.4zM386.72,130.07h3.56l-1.78,3.4zM386.72,128.19h3.56l-1.78,3.4zM386.72,126.3h3.56l-1.78,3.4zM386.72,124.42h3.56l-1.78,3.4zM386.72,122.54h3.56l-1.78,3.4zM386.72,120.65h3.56l-1.78,3.4zM386.72,118.77h3.56l-1.78,3.4zM386.72,116.89h3.56l-1.78,3.4zM386.72,115.01h3.56l-1.78,3.4zM386.72,113.12h3.56l-1.78,3.4zM386.72,111.24h3.56l-1.78,3.4zM386.72,109.36h3.56l-1.78,3.4zM386.72,107.47h3.56l-1.78,3.4zM386.72,105.59h3.56l-1.78,3.4zM386.72,103.71h3.56l-1.78,3.4zM386.72,101.83h3.56l-1.78,3.4zM386.72,99.94h3.56l-1.78,3.4zM386.72,98.06h3.56l-1.78,3.4zM386.72,96.18h3.56l-1.78,3.4zM386.72,94.29h3.56l-1.78,3.4zM386.72,92.41h3.56l-1.78,3.4zM386.72,90.53h3.56l-1.78,3.4zM386.72,88.65h3.56l-1.78,3.4zM386.72,86.76h3.56l-1.78,3.4zM386.72,84.88h3.56l-1.78,3.4zM386.72,83h3.56l-1.78,3.4zM386.72,81.11h3.56l-1.78,3.4zM386.72,79.23h3.56l-1.78,3.4zM386.72,77.35h3.56l-1.78,3.4zM386.72,75.47h3.56l-1.78,3.4zM386.72,73.58h3.56l-1.78,3.4zM386.72,71.7h3.56l-1.78,3.4zM386.72,69.82h3.56l-1.78,3.4zM386.72,67.93h3.56l-1.78,3.4zM386.72,66.05h3.56l-1.78,3.4zM386.72,64.17h3.56l-1.78,3.4zM386.72,62.29h3.56l-1.78,3.4zM386.72,60.4h3.56l-1.78,3.4zM386.72,58.52h3.56l-1.78,3.4zM386.72,56.64h3.56l-1.78,3.4zM386.72,54.75h3.56l-1.78,3.4zM386.72,52.87h3.56l-1.78,3.4zM386.72,50.99h3.56l-1.78,3.4zM386.72,49.11h3.56l-1.78,3.4zM386.72,47.22h3.56l-1.78,3.4zM386.72,45.34h3.56l-1.78,3.4zM386.72,43.46h3.56l-1.78,3.4zM386.72,41.57h3.56l-1.78,3.4zM398.22,133.83h3.56l-1.78,3.4zM398.22,131.95h3.56l-1.78,3.4zM398.22,130.07h3.56l-1.78,3.4zM398.22,128.19h3.56l-1.78,3.4zM398.22,126.3h3.56l-1.78,3.4zM398.22,124.42h3.56l-1.78,3.4zM398.22,122.54h3.56l-1.78,3.4zM398.22,120.65h3.56l-1.78,3.4zM398.22,118.77h3.56l-1.78,3.4zM398.22,116.89h3.56l-1.78,3.4zM398.22,115.01h3.56l-1.78,3.4zM398.22,113.12h3.56l-1.78,3.4zM398.22,111.24h3.56l-1.78,3.4zM398.22,109.36h3.56l-1.78,3.4zM398.22,107.47h3.56l-1.78,3.4zM398.22,105.59h3.56l-1.78,3.4zM398.22,103.71h3.56l-1.78,3.4zM398.22,101.83h3.56l-1.78,3.4zM398.22,99.94h3.56l-1.78,3.4zM398.22,98.06h3.56l-1.78,3.4zM398.22,96.18h3.56l-1.78,3.4zM398.22,94.29h3.56l-1.78,3.4zM398.22,92.41h3.56l-1.78,3.4zM398.22,90.53h3.56l-1.78,3.4zM398.22,88.65h3.56l-1.78,3.4zM398.22,86.76h3.56l-1.78,3.4zM398.22,84.88h3.56l-1.78,3.4zM398.22,83h3.56l-1.78,3.4zM398.22,81.11h3.56l-1.78,3.4zM398.22,79.23h3.56l-1.78,3.4zM398.22,77.35h3.56l-1.78,3.4zM398.22,75.47h3.56l-1.78,3.4zM398.22,73.58h3.56l-1.78,3.4zM398.22,71.7h3.56l-1.78,3.4zM398.22,69.82h3.56l-1.78,3.4zM398.22,67.93h3.56l-1.78,3.4zM398.22,66.05h3.56l-1.78,3.4zM398.22,64.17h3.56l-1.78,3.4zM398.22,62.29h3.56l-1.78,3.4zM398.22,60.4h3.56l-1.78,3.4zM398.22,58.52h3.56l-1.78,3.4zM398.22,56.64h3.56l-1.78,3.4zM398.22,54.75h3.56l-1.78,3.4zM398.22,52.87h3.56l-1.78,3.4zM398.22,50.99h3.56l-1.78,3.4zM398.22,49.11h3.56l-1.78,3.4zM398.22,47.22h3.56l-1.78,3.4zM398.22,45.34h3.56l-1.78,3.4zM398.22,43.46h3.56l-1.78,3.4zM409.72,135.72h3.56l-1.78,3.4zM409.72,133.83h3.56l-1.78,3.4zM409.72,131.95h3.56l-1.78,3.4zM409.72,130.07h3.56l-1.78,3.4zM409.72,128.19h3.56l-1.78,3.4zM409.72,126.3h3.56l-1.78,3.4zM409.72,124.42h3.56l-1.78,3.4zM409.72,122.54h3.56l-1.78,3.4zM409.72,120.65h3.56l-1.78,3.4zM409.72,118.77h3.56l-1.78,3.4zM409.72,116.89h3.56l-1.78,3.4zM409.72,115.01h3.56l-1.78,3.4zM409.72,113.12h3.56l-1.78,3.4zM409.72,111.24h3.56l-1.78,3.4zM409.72,109.36h3.56l-1.78,3.4zM409.72,107.47h3.56l-1.78,3.4zM409.72,105.59h3.56l-1.78,3.4zM409.72,103.71h3.56l-1.78,3.4zM409.72,101.83h3.56l-1.78,3.4zM409.72,99.94h3.56l-1.78,3.4zM409.72,98.06h3.56l-1.78,3.4zM409.72,96.18h3.56l-1.78,3.4zM409.72,94.29h3.56l-1.78,3.4zM409.72,92.41h3.56l-1.78,3.4zM409.72,90.53h3.56l-1.78,3.4zM409.72,88.65h3.56l-1.78,3.4zM409.72,86.76h3.56l-1.78,3.4zM409.72,84.88h3.56l-1.78,3.4zM409.72,83h3.56l-1.78,3.4zM409.72,81.11h3.56l-1.78,3.4zM409.72,79.23h3.56l-1.78,3.4zM409.72,77.35h3.56l-1.78,3.4zM409.72,75.47h3.56l-1.78,3.4zM409.72,73.58h3.56l-1.78,3.4zM409.72,71.7h3.56l-1.78,3.4zM409.72,69.82h3.56l-1.78,3.4zM409.72,67.93h3.56l-1.78,3.4zM409.72,66.05h3.56l-1.78,3.4zM409.72,64.17h3.56l-1.78,3.4zM409.72,62.29h3.56l-1.78,3.4zM409.72,60.4h3.56l-1.78,3.4zM409.72,58.52h3.56l-1.78,3.4zM409.72,56.64h3.56l-1.78,3.4zM409.72,54.75h3.56l-1.78,3.4zM409.72,52.87h3.56l-1.78,3.4zM409.72,50.99h3.56l-1.78,3.4zM409.72,49.11h3.56l-1.78,3.4zM409.72,47.22h3.56l-1.78,3.4zM409.72,45.34h3.56l-1.78,3.4zM421.22,135.72h3.56l-1.78,3.4zM421.22,133.83h3.56l-1.78,3.4zM421.22,131.95h3.56l-1.78,3.4zM421.22,130.07h3.56l-1.78,3.4zM421.22,128.19h3.56l-1.78,3.4zM421.22,126.3h3.56l-1.78,3.4zM421.22,124.42h3.56l-1.78,3.4zM421.22,122.54h3.56l-1.78,3.4zM421.22,120.65h3.56l-1.78,3.4zM421.22,118.77h3.56l-1.78,3.4zM421.22,116.89h3.56l-1.78,3.4zM421.22,115.01h3.56l-1.78,3.4zM421.22,113.12h3.56l-1.78,3.4zM421.22,111.24h3.56l-1.78,3.4zM421.22,109.36h3.56l-1.78,3.4zM421.22,107.47h3.56l-1.78,3.4zM421.22,105.59h3.56l-1.78,3.4zM421.22,103.71h3.56l-1.78,3.4zM421.22,101.83h3.56l-1.78,3.4zM421.22,99.94h3.56l-1.78,3.4zM421.22,98.06h3.56l-1.78,3.4zM421.22,96.18h3.56l-1.78,3.4zM421.22,94.29h3.56l-1.78,3.4zM421.22,92.41h3.56l-1.78,3.4zM421.22,90.53h3.56l-1.78,3.4zM421.22,88.65h3.56l-1.78,3.4zM421.22,86.76h3.56l-1.78,3.4zM421.22,84.88h3.56l-1.78,3.4zM421.22,83h3.56l-1.78,3.4zM421.22,81.11h3.56l-1.78,3.4zM421.22,79.23h3.56l-1.78,3.4zM421.22,77.35h3.56l-1.78,3.4zM421.22,75.47h3.56l-1.78,3.4zM421.22,73.58h3.56l-1.78,3.4zM421.22,71.7h3.56l-1.78,3.4zM421.22,69.82h3.56l-1.78,3.4zM421.22,67.93h3.56l-1.78,3.4zM421.22,66.05h3.56l-1.78,3.4zM421.22,64.17h3.56l-1.78,3.4zM421.22,62.29h3.56l-1.78,3.4zM421.22,60.4h3.56l-1.78,3.4zM421.22,58.52h3.56l-1.78,3.4zM421.22,56.64h3.56l-1.78,3.4zM421.22,54.75h3.56l-1.78,3.4zM421.22,52.87h3.56l-1.78,3.4zM421.22,50.99h3.56l-1.78,3.4zM421.22,49.11h3.56l-1.78,3.4zM421.22,47.22h3.56l-1.78,3.4zM421.22,45.34h3.56l-1.78,3.4zM432.72,135.72h3.56l-1.78,3.4zM432.72,133.83h3.56l-1.78,3.4zM432.72,131.95h3.56l-1.78,3.4zM432.72,130.07h3.56l-1.78,3.4zM432.72,128.19h3.56l-1.78,3.4zM432.72,126.3h3.56l-1.78,3.4zM432.72,124.42h3.56l-1.78,3.4zM432.72,122.54h3.56l-1.78,3.4zM432.72,120.65h3.56l-1.78,3.4zM432.72,118.77h3.56l-1.78,3.4zM432.72,116.89h3.56l-1.78,3.4zM432.72,115.01h3.56l-1.78,3.4zM432.72,113.12h3.56l-1.78,3.4zM432.72,111.24h3.56l-1.78,3.4zM432.72,109.36h3.56l-1.78,3.4zM432.72,107.47h3.56l-1.78,3.4zM432.72,105.59h3.56l-1.78,3.4zM432.72,103.71h3.56l-1.78,3.4zM432.72,101.83h3.56l-1.78,3.4zM432.72,99.94h3.56l-1.78,3.4zM432.72,98.06h3.56l-1.78,3.4zM432.72,96.18h3.56l-1.78,3.4zM432.72,94.29h3.56l-1.78,3.4zM432.72,92.41h3.56l-1.78,3.4zM432.72,90.53h3.56l-1.78,3.4zM432.72,88.65h3.56l-1.78,3.4zM432.72,86.76h3.56l-1.78,3.4zM432.72,84.88h3.56l-1.78,3.4zM432.72,83h3.56l-1.78,3.4zM432.72,81.11h3.56l-1.78,3.4zM432.72,79.23h3.56l-1.78,3.4zM432.72,77.35h3.56l-1.78,3.4zM432.72,75.47h3.56l-1.78,3.4zM432.72,73.58h3.56l-1.78,3.4zM432.72,71.7h3.56l-1.78,3.4zM432.72,69.82h3.56l-1.78,3.4zM432.72,67.93h3.56l-1.78,3.4zM432.72,66.05h3.56l-1.78,3.4zM432.72,64.17h3.56l-1.78,3.4zM432.72,62.29h3.56l-1.78,3.4zM432.72,60.4h3.56l-1.78,3.4zM432.72,58.52h3.56l-1.78,3.4zM432.72,56.64h3.56l-1.78,3.4zM432.72,54.75h3.56l-1.78,3.4zM432.72,52.87h3.56l-1.78,3.4zM432.72,50.99h3.56l-1.78,3.4zM432.72,49.11h3.56l-1.78,3.4zM432.72,47.22h3.56l-1.78,3.4zM432.72,45.34h3.56l-1.78,3.4zM444.22,135.72h3.56l-1.78,3.4zM444.22,133.83h3.56l-1.78,3.4zM444.22,131.95h3.56l-1.78,3.4zM444.22,130.07h3.56l-1.78,3.4zM444.22,128.19h3.56l-1.78,3.4zM444.22,126.3h3.56l-1.78,3.4zM444.22,124.42h3.56l-1.78,3.4zM444.22,122.54h3.56l-1.78,3.4zM444.22,120.65h3.56l-1.78,3.4zM444.22,118.77h3.56l-1.78,3.4zM444.22,116.89h3.56l-1.78,3.4zM444.22,115.01h3.56l-1.78,3.4zM444.22,113.12h3.56l-1.78,3.4zM444.22,111.24h3.56l-1.78,3.4zM444.22,109.36h3.56l-1.78,3.4zM444.22,107.47h3.56l-1.78,3.4zM444.22,105.59h3.56l-1.78,3.4zM444.22,103.71h3.56l-1.78,3.4zM444.22,101.83h3.56l-1.78,3.4zM444.22,99.94h3.56l-1.78,3.4zM444.22,98.06h3.56l-1.78,3.4zM444.22,96.18h3.56l-1.78,3.4zM444.22,94.29h3.56l-1.78,3.4zM444.22,92.41h3.56l-1.78,3.4zM444.22,90.53h3.56l-1.78,3.4zM444.22,88.65h3.56l-1.78,3.4zM444.22,86.76h3.56l-1.78,3.4zM444.22,84.88h3.56l-1.78,3.4zM444.22,83h3.56l-1.78,3.4zM444.22,81.11h3.56l-1.78,3.4zM444.22,79.23h3.56l-1.78,3.4zM444.22,77.35h3.56l-1.78,3.4zM444.22,75.47h3.56l-1.78,3.4zM444.22,73.58h3.56l-1.78,3.4zM444.22,71.7h3.56l-1.78,3.4zM444.22,69.82h3.56l-1.78,3.4zM444.22,67.93h3.56l-1.78,3.4zM444.22,66.05h3.56l-1.78,3.4zM444.22,64.17h3.56l-1.78,3.4zM444.22,62.29h3.56l-1.78,3.4zM444.22,60.4h3.56l-1.78,3.4zM444.22,58.52h3.56l-1.78,3.4zM444.22,56.64h3.56l-1.78,3.4zM444.22,54.75h3.56l-1.78,3.4zM444.22,52.87h3.56l-1.78,3.4zM444.22,50.99h3.56l-1.78,3.4zM444.22,49.11h3.56l-1.78,3.4zM444.22,47.22h3.56l-1.78,3.4zM444.22,45.34h3.56l-1.78,3.4zM455.72,133.83h3.56l-1.78,3.4zM455.72,131.95h3.56l-1.78,3.4zM455.72,130.07h3.56l-1.78,3.4zM455.72,128.19h3.56l-1.78,3.4zM455.72,126.3h3.56l-1.78,3.4zM455.72,124.42h3.56l-1.78,3.4zM455.72,122.54h3.56l-1.78,3.4zM455.72,120.65h3.56l-1.78,3.4zM455.72,118.77h3.56l-1.78,3.4zM455.72,116.89h3.56l-1.78,3.4zM455.72,115.01h3.56l-1.78,3.4zM455.72,113.12h3.56l-1.78,3.4zM455.72,111.24h3.56l-1.78,3.4zM455.72,109.36h3.56l-1.78,3.4zM455.72,107.47h3.56l-1.78,3.4zM455.72,105.59h3.56l-1.78,3.4zM455.72,103.71h3.56l-1.78,3.4zM455.72,101.83h3.56l-1.78,3.4zM455.72,99.94h3.56l-1.78,3.4zM455.72,98.06h3.56l-1.78,3.4zM455.72,96.18h3.56l-1.78,3.4zM455.72,94.29h3.56l-1.78,3.4zM455.72,92.41h3.56l-1.78,3.4zM455.72,90.53h3.56l-1.78,3.4zM455.72,88.65h3.56l-1.78,3.4zM455.72,86.76h3.56l-1.78,3.4zM455.72,84.88h3.56l-1.78,3.4zM455.72,83h3.56l-1.78,3.4zM455.72,81.11h3.56l-1.78,3.4zM455.72,79.23h3.56l-1.78,3.4zM455.72,77.35h3.56l-1.78,3.4zM455.72,75.47h3.56l-1.78,3.4zM455.72,73.58h3.56l-1.78,3.4zM455.72,71.7h3.56l-1.78,3.4zM455.72,69.82h3.56l-1.78,3.4zM455.72,67.93h3.56l-1.78,3.4zM455.72,66.05h3.56l-1.78,3.4zM455.72,64.17h3.56l-1.78,3.4zM455.72,62.29h3.56l-1.78,3.4zM455.72,60.4h3.56l-1.78,3.4zM455.72,58.52h3.56l-1.78,3.4zM455.72,56.64h3.56l-1.78,3.4zM455.72,54.75h3.56l-1.78,3.4zM455.72,52.87h3.56l-1.78,3.4zM455.72,50.99h3.56l-1.78,3.4zM455.72,49.11h3.56l-1.78,3.4zM455.72,47.22h3.56l-1.78,3.4zM455.72,45.34h3.56l-1.78,3.4zM455.72,43.46h3.56l-1.78,3.4zM467.22,131.95h3.56l-1.78,3.4zM467.22,130.07h3.56l-1.78,3.4zM467.22,128.19h3.56l-1.78,3.4zM467.22,126.3h3.56l-1.78,3.4zM467.22,124.42h3.56l-1.78,3.4zM467.22,122.54h3.56l-1.78,3.4zM467.22,120.65h3.56l-1.78,3.4zM467.22,118.77h3.56l-1.78,3.4zM467.22,116.89h3.56l-1.78,3.4zM467.22,115.01h3.56l-1.78,3.4zM467.22,113.12h3.56l-1.78,3.4zM467.22,111.24h3.56l-1.78,3.4zM467.22,109.36h3.56l-1.78,3.4zM467.22,107.47h3.56l-1.78,3.4zM467.22,105.59h3.56l-1.78,3.4zM467.22,103.71h3.56l-1.78,3.4zM467.22,101.83h3.56l-1.78,3.4zM467.22,99.94h3.56l-1.78,3.4zM467.22,98.06h3.56l-1.78,3.4zM467.22,96.18h3.56l-1.78,3.4zM467.22,94.29h3.56l-1.78,3.4zM467.22,92.41h3.56l-1.78,3.4zM467.22,90.53h3.56l-1.78,3.4zM467.22,88.65h3.56l-1.78,3.4zM467.22,86.76h3.56l-1.78,3.4zM467.22,84.88h3.56l-1.78,3.4zM467.22,83h3.56l-1.78,3.4zM467.22,81.11h3.56l-1.78,3.4zM467.22,79.23h3.56l-1.78,3.4zM467.22,77.35h3.56l-1.78,3.4zM467.22,75.47h3.56l-1.78,3.4zM467.22,73.58h3.56l-1.78,3.4zM467.22,71.7h3.56l-1.78,3.4zM467.22,69.82h3.56l-1.78,3.4zM467.22,67.93h3.56l-1.78,3.4zM467.22,66.05h3.56l-1.78,3.4zM467.22,64.17h3.56l-1.78,3.4zM467.22,62.29h3.56l-1.78,3.4zM467.22,60.4h3.56l-1.78,3.4zM467.22,58.52h3.56l-1.78,3.4zM467.22,56.64h3.56l-1.78,3.4zM467.22,54.75h3.56l-1.78,3.4zM467.22,52.87h3.56l-1.78,3.4zM467.22,50.99h3.56l-1.78,3.4zM467.22,49.11h3.56l-1.78,3.4zM467.22,47.22h3.56l-1.78,3.4zM467.22,45.34h3.56l-1.78,3.4zM467.22,43.46h3.56l-1.78,3.4zM467.22,41.57h3.56l-1.78,3.4zM478.72,130.07h3.56l-1.78,3.4zM478.72,128.19h3.56l-1.78,3.4zM478.72,126.3h3.56l-1.78,3.4zM478.72,124.42h3.56l-1.78,3.4zM478.72,122.54h3.56l-1.78,3.4zM478.72,120.65h3.56l-1.78,3.4zM478.72,118.77h3.56l-1.78,3.4zM478.72,116.89h3.56l-1.78,3.4zM478.72,115.01h3.56l-1.78,3.4zM478.72,113.12h3.56l-1.78,3.4zM478.72,111.24h3.56l-1.78,3.4zM478.72,109.36h3.56l-1.78,3.4zM478.72,107.47h3.56l-1.78,3.4zM478.72,105.59h3.56l-1.78,3.4zM478.72,103.71h3.56l-1.78,3.4zM478.72,101.83h3.56l-1.78,3.4zM478.72,99.94h3.56l-1.78,3.4zM478.72,98.06h3.56l-1.78,3.4zM478.72,96.18h3.56l-1.78,3.4zM478.72,94.29h3.56l-1.78,3.4zM478.72,92.41h3.56l-1.78,3.4zM478.72,90.53h3.56l-1.78,3.4zM478.72,88.65h3.56l-1.78,3.4zM478.72,86.76h3.56l-1.78,3.4zM478.72,84.88h3.56l-1.78,3.4zM478.72,83h3.56l-1.78,3.4zM478.72,81.11h3.56l-1.78,3.4zM478.72,79.23h3.56l-1.78,3.4zM478.72,77.35h3.56l-1.78,3.4zM478.72,75.47h3.56l-1.78,3.4zM478.72,73.58h3.56l-1.78,3.4zM478.72,71.7h3.56l-1.78,3.4zM478.72,69.82h3.56l-1.78,3.4zM478.72,67.93h3.56l-1.78,3.4zM478.72,66.05h3.56l-1.78,3.4zM478.72,64.17h3.56l-1.78,3.4zM478.72,62.29h3.56l-1.78,3.4zM478.72,60.4h3.56l-1.78,3.4zM478.72,58.52h3.56l-1.78,3.4zM478.72,56.64h3.56l-1.78,3.4zM478.72,54.75h3.56l-1.78,3.4zM478.72,52.87h3.56l-1.78,3.4zM478.72,50.99h3.56l-1.78,3.4zM478.72,49.11h3.56l-1.78,3.4zM478.72,47.22h3.56l-1.78,3.4zM478.72,45.34h3.56l-1.78,3.4zM478.72,43.46h3.56l-1.78,3.4zM478.72,41.57h3.56l-1.78,3.4zM478.72,39.69h3.56l-1.78,3.4zM490.22,126.3h3.56l-1.78,3.4zM490.22,124.42h3.56l-1.78,3.4zM490.22,122.54h3.56l-1.78,3.4zM490.22,120.65h3.56l-1.78,3.4zM490.22,118.77h3.56l-1.78,3.4zM490.22,116.89h3.56l-1.78,3.4zM490.22,115.01h3.56l-1.78,3.4zM490.22,113.12h3.56l-1.78,3.4zM490.22,111.24h3.56l-1.78,3.4zM490.22,109.36h3.56l-1.78,3.4zM490.22,107.47h3.56l-1.78,3.4zM490.22,105.59h3.56l-1.78,3.4zM490.22,103.71h3.56l-1.78,3.4zM490.22,101.83h3.56l-1.78,3.4zM490.22,99.94h3.56l-1.78,3.4zM490.22,98.06h3.56l-1.78,3.4zM490.22,96.18h3.56l-1.78,3.4zM490.22,94.29h3.56l-1.78,3.4zM490.22,92.41h3.56l-1.78,3.4zM490.22,90.53h3.56l-1.78,3.4zM490.22,88.65h3.56l-1.78,3.4zM490.22,86.76h3.56l-1.78,3.4zM490.22,84.88h3.56l-1.78,3.4zM490.22,83h3.56l-1.78,3.4zM490.22,81.11h3.56l-1.78,3.4zM490.22,79.23h3.56l-1.78,3.4zM490.22,77.35h3.56l-1.78,3.4zM490.22,75.47h3.56l-1.78,3.4zM490.22,73.58h3.56l-1.78,3.4zM490.22,71.7h3.56l-1.78,3.4zM490.22,69.82h3.56l-1.78,3.4zM490.22,67.93h3.56l-1.78,3.4zM490.22,66.05h3.56l-1.78,3.4zM490.22,64.17h3.56l-1.78,3.4zM490.22,62.29h3.56l-1.78,3.4zM490.22,60.4h3.56l-1.78,3.4zM490.22,58.52h3.56l-1.78,3.4zM490.22,56.64h3.56l-1.78,3.4zM490.22,54.75h3.56l-1.78,3.4zM490.22,52.87h3.56l-1.78,3.4zM490.22,50.99h3.56l-1.78,3.4zM490.22,49.11h3.56l-1.78,3.4zM490.22,47.22h3.56l-1.78,3.4zM490.22,45.34h3.56l-1.78,3.4zM490.22,43.46h3.56l-1.78,3.4zM490.22,41.57h3.56l-1.78,3.4zM490.22,39.69h3.56l-1.78,3.4zM490.22,37.81h3.56l-1.78,3.4zM490.22,35.93h3.56l-1.78,3.4zM501.72,124.42h3.56l-1.78,3.4zM501.72,122.54h3.56l-1.78,3.4zM501.72,120.65h3.56l-1.78,3.4zM501.72,118.77h3.56l-1.78,3.4zM501.72,116.89h3.56l-1.78,3.4zM501.72,115.01h3.56l-1.78,3.4zM501.72,113.12h3.56l-1.78,3.4zM501.72,111.24h3.56l-1.78,3.4zM501.72,109.36h3.56l-1.78,3.4zM501.72,107.47h3.56l-1.78,3.4zM501.72,105.59h3.56l-1.78,3.4zM501.72,103.71h3.56l-1.78,3.4zM501.72,101.83h3.56l-1.78,3.4zM501.72,99.94h3.56l-1.78,3.4zM501.72,98.06h3.56l-1.78,3.4zM501.72,96.18h3.56l-1.78,3.4zM501.72,94.29h3.56l-1.78,3.4zM501.72,92.41h3.56l-1.78,3.4zM501.72,90.53h3.56l-1.78,3.4zM501.72,88.65h3.56l-1.78,3.4zM501.72,86.76h3.56l-1.78,3.4zM501.72,84.88h3.56l-1.78,3.4zM501.72,83h3.56l-1.78,3.4zM501.72,81.11h3.56l-1.78,3.4zM501.72,79.23h3.56l-1.78,3.4zM501.72,77.35h3.56l-1.78,3.4zM501.72,75.47h3.56l-1.78,3.4zM501.72,73.58h3.56l-1.78,3.4zM501.72,71.7h3.56l-1.78,3.4zM501.72,69.82h3.56l-1.78,3.4zM501.72,67.93h3.56l-1.78,3.4zM501.72,66.05h3.56l-1.78,3.4zM501.72,64.17h3.56l-1.78,3.4zM501.72,62.29h3.56l-1.78,3.4zM501.72,60.4h3.56l-1.78,3.4zM501.72,58.52h3.56l-1.78,3.4zM501.72,56.64h3.56l-1.78,3.4zM501.72,54.75h3.56l-1.78,3.4zM501.72,52.87h3.56l-1.78,3.4zM501.72,50.99h3.56l-1.78,3.4zM501.72,49.11h3.56l-1.78,3.4zM501.72,47.22h3.56l-1.78,3.4zM501.72,45.34h3.56l-1.78,3.4zM501.72,43.46h3.56l-1.78,3.4zM501.72,41.57h3.56l-1.78,3.4zM501.72,39.69h3.56l-1.78,3.4zM501.72,37.81h3.56l-1.78,3.4zM501.72,35.93h3.56l-1.78,3.4zM501.72,34.04h3.56l-1.78,3.4zM513.22,120.65h3.56l-1.78,3.4zM513.22,118.77h3.56l-1.78,3.4zM513.22,116.89h3.56l-1.78,3.4zM513.22,115.01h3.56l-1.78,3.4zM513.22,113.12h3.56l-1.78,3.4zM513.22,111.24h3.56l-1.78,3.4zM513.22,109.36h3.56l-1.78,3.4zM513.22,107.47h3.56l-1.78,3.4zM513.22,105.59h3.56l-1.78,3.4zM513.22,103.71h3.56l-1.78,3.4zM513.22,101.83h3.56l-1.78,3.4zM513.22,99.94h3.56l-1.78,3.4zM513.22,98.06h3.56l-1.78,3.4zM513.22,96.18h3.56l-1.78,3.4zM513.22,94.29h3.56l-1.78,3.4zM513.22,92.41h3.56l-1.78,3.4zM513.22,90.53h3.56l-1.78,3.4zM513.22,88.65h3.56l-1.78,3.4zM513.22,86.76h3.56l-1.78,3.4zM513.22,84.88h3.56l-1.78,3.4zM513.22,83h3.56l-1.78,3.4zM513.22,81.11h3.56l-1.78,3.4zM513.22,79.23h3.56l-1.78,3.4zM513.22,77.35h3.56l-1.78,3.4zM513.22,75.47h3.56l-1.78,3.4zM513.22,73.58h3.56l-1.78,3.4zM513.22,71.7h3.56l-1.78,3.4zM513.22,69.82h3.56l-1.78,3.4zM513.22,67.93h3.56l-1.78,3.4zM513.22,66.05h3.56l-1.78,3.4zM513.22,64.17h3.56l-1.78,3.4zM513.22,62.29h3.56l-1.78,3.4zM513.22,60.4h3.56l-1.78,3.4zM513.22,58.52h3.56l-1.78,3.4zM513.22,56.64h3.56l-1.78,3.4zM513.22,54.75h3.56l-1.78,3.4zM513.22,52.87h3.56l-1.78,3.4zM513.22,50.99h3.56l-1.78,3.4zM513.22,49.11h3.56l-1.78,3.4zM513.22,47.22h3.56l-1.78,3.4zM513.22,45.34h3.56l-1.78,3.4zM513.22,43.46h3.56l-1.78,3.4zM513.22,41.57h3.56l-1.78,3.4zM513.22,39.69h3.56l-1.78,3.4zM513.22,37.81h3.56l-1.78,3.4zM513.22,35.93h3.56l-1.78,3.4zM513.22,34.04h3.56l-1.78,3.4zM513.22,32.16h3.56l-1.78,3.4zM513.22,30.28h3.56l-1.78,3.4zM524.72,115.01h3.56l-1.78,3.4zM524.72,113.12h3.56l-1.78,3.4zM524.72,111.24h3.56l-1.78,3.4zM524.72,109.36h3.56l-1.78,3.4zM524.72,107.47h3.56l-1.78,3.4zM524.72,105.59h3.56l-1.78,3.4zM524.72,103.71h3.56l-1.78,3.4zM524.72,101.83h3.56l-1.78,3.4zM524.72,99.94h3.56l-1.78,3.4zM524.72,98.06h3.56l-1.78,3.4zM524.72,96.18h3.56l-1.78,3.4zM524.72,94.29h3.56l-1.78,3.4zM524.72,92.41h3.56l-1.78,3.4zM524.72,90.53h3.56l-1.78,3.4zM524.72,88.65h3.56l-1.78,3.4zM524.72,86.76h3.56l-1.78,3.4zM524.72,84.88h3.56l-1.78,3.4zM524.72,83h3.56l-1.78,3.4zM524.72,81.11h3.56l-1.78,3.4zM524.72,79.23h3.56l-1.78,3.4zM524.72,77.35h3.56l-1.78,3.4zM524.72,75.47h3.56l-1.78,3.4zM524.72,73.58h3.56l-1.78,3.4zM524.72,71.7h3.56l-1.78,3.4zM524.72,69.82h3.56l-1.78,3.4zM524.72,67.93h3.56l-1.78,3.4zM524.72,66.05h3.56l-1.78,3.4zM524.72,64.17h3.56l-1.78,3.4zM524.72,62.29h3.56l-1.78,3.4zM524.72,60.4h3.56l-1.78,3.4zM524.72,58.52h3.56l-1.78,3.4zM524.72,56.64h3.56l-1.78,3.4zM524.72,54.75h3.56l-1.78,3.4zM524.72,52.87h3.56l-1.78,3.4zM524.72,50.99h3.56l-1.78,3.4zM524.72,49.11h3.56l-1.78,3.4zM524.72,47.22h3.56l-1.78,3.4zM524.72,45.34h3.56l-1.78,3.4zM524.72,43.46h3.56l-1.78,3.4zM524.72,41.57h3.56l-1.78,3.4zM524.72,39.69h3.56l-1.78,3.4zM524.72,37.81h3.56l-1.78,3.4zM524.72,35.93h3.56l-1.78,3.4zM524.72,34.04h3.56l-1.78,3.4zM524.72,32.16h3.56l-1.78,3.4zM524.72,30.28h3.56l-1.78,3.4zM524.72,28.39h3.56l-1.78,3.4zM524.72,26.51h3.56l-1.78,3.4zM524.72,24.63h3.56l-1.78,3.4zM536.22,109.36h3.56l-1.78,3.4zM536.22,107.47h3.56l-1.78,3.4zM536.22,105.59h3.56l-1.78,3.4zM536.22,103.71h3.56l-1.78,3.4zM536.22,101.83h3.56l-1.78,3.4zM536.22,99.94h3.56l-1.78,3.4zM536.22,98.06h3.56l-1.78,3.4zM536.22,96.18h3.56l-1.78,3.4zM536.22,94.29h3.56l-1.78,3.4zM536.22,92.41h3.56l-1.78,3.4zM536.22,90.53h3.56l-1.78,3.4zM536.22,88.65h3.56l-1.78,3.4zM536.22,86.76h3.56l-1.78,3.4zM536.22,84.88h3.56l-1.78,3.4zM536.22,83h3.56l-1.78,3.4zM536.22,81.11h3.56l-1.78,3.4zM536.22,79.23h3.56l-1.78,3.4zM536.22,77.35h3.56l-1.78,3.4zM536.22,75.47h3.56l-1.78,3.4zM536.22,73.58h3.56l-1.78,3.4zM536.22,71.7h3.56l-1.78,3.4zM536.22,69.82h3.56l-1.78,3.4zM536.22,67.93h3.56l-1.78,3.4zM536.22,66.05h3.56l-1.78,3.4zM536.22,64.17h3.56l-1.78,3.4zM536.22,62.29h3.56l-1.78,3.4zM536.22,60.4h3.56l-1.78,3.4zM536.22,58.52h3.56l-1.78,3.4zM536.22,56.64h3.56l-1.78,3.4zM536.22,54.75h3.56l-1.78,3.4zM536.22,52.87h3.56l-1.78,3.4zM536.22,50.99h3.56l-1.78,3.4zM536.22,49.11h3.56l-1.78,3.4zM536.22,47.22h3.56l-1.78,3.4zM536.22,45.34h3.56l-1.78,3.4zM536.22,43.46h3.56l-1.78,3.4zM536.22,41.57h3.56l-1.78,3.4zM536.22,39.69h3.56l-1.78,3.4zM536.22,37.81h3.56l-1.78,3.4zM536.22,35.93h3.56l-1.78,3.4zM536.22,34.04h3.56l-1.78,3.4zM536.22,32.16h3.56l-1.78,3.4zM536.22,30.28h3.56l-1.78,3.4zM536.22,28.39h3.56l-1.78,3.4zM536.22,26.51h3.56l-1.78,3.4zM536.22,24.63h3.56l-1.78,3.4zM536.22,22.75h3.56l-1.78,3.4zM536.22,20.86h3.56l-1.78,3.4zM536.22,18.98h3.56l-1.78,3.4zM318,18.98h3v91.98h-3zM329.5,24.63h3v91.98h-3zM341,30.28h3v91.98h-3zM352.5,34.04h3v91.98h-3zM364,35.93h3v91.98h-3zM375.5,39.69h3v91.98h-3zM387,41.57h3v91.98h-3zM398.5,43.46h3v91.98h-3zM410,45.34h3v91.98h-3zM421.5,45.34h3v91.98h-3zM433,45.34h3v91.98h-3zM444.5,45.34h3v91.98h-3zM456,43.46h3v91.98h-3zM467.5,41.57h3v91.98h-3zM479,39.69h3v91.98h-3zM490.5,35.93h3v91.98h-3zM502,34.04h3v91.98h-3zM513.5,30.28h3v91.98h-3zM525,24.63h3v91.98h-3zM536.5,18.98h3v91.98h-3zM525.1,11.95h3.6l-1.8,3z"/>
<path class="lh" d="M313,6.5H544M313,138.3H544M313.5,138.3h2.9M543.5,138.3h-2.9M313.5,119.47h2.9M543.5,119.47h-2.9M313.5,100.64h2.9M543.5,100.64h-2.9M313.5,81.81h2.9M543.5,81.81h-2.9M313.5,62.99h2.9M543.5,62.99h-2.9M313.5,44.16h2.9M543.5,44.16h-2.9M313.5,25.33h2.9M543.5,25.33h-2.9M313.5,6.5h2.9M543.5,6.5h-2.9"/>
<path class="lv" d="M313.5,6.5V138.3M543.5,6.5V138.3M313.75,138.3v-2.5M313.75,6.5v2.5M336.75,138.3v-2.5M336.75,6.5v2.5M359.75,138.3v-2.5M359.75,6.5v2.5M382.75,138.3v-2.5M382.75,6.5v2.5M405.75,138.3v-2.5M405.75,6.5v2.5M428.75,138.3v-2.5M428.75,6.5v2.5M451.75,138.3v-2.5M451.75,6.5v2.5M474.75,138.3v-2.5M474.75,6.5v2.5M497.75,138.3v-2.5M497.75,6.5v2.5M520.75,138.3v-2.5M520.75,6.5v2.5M543.75,138.3v-2.5M543.75,6.5v2.5"/>
<text transform="translate(314.3,147.8) rotate(0.1)" text-anchor="middle">-10</text>
<text transform="translate(337.3,147.8) rotate(0.1)" text-anchor="middle">-8</text>
<text transform="translate(360.3,147.8) rotate(0.1)" text-anchor="middle">-6</text>
<text transform="translate(383.3,147.8) rotate(0.1)" text-anchor="middle">-4</text>
<text transform="translate(406.3,147.8) rotate(0.1)" text-anchor="middle">-2</text>
<text transform="translate(429.3,147.8) rotate(0.1)" text-anchor="middle">0</text>
<text transform="translate(452.3,147.8) rotate(0.1)" text-anchor="middle">2</text>
<text transform="translate(475.3,147.8) rotate(0.1)" text-anchor="middle">4</text>
<text transform="translate(498.3,147.8) rotate(0.1)" text-anchor="middle">6</text>
<text transform="translate(521.3,147.8) rotate(0.1)" text-anchor="middle">8</text>
<text transform="translate(544.3,147.8) rotate(0.1)" text-anchor="middle">10</text>
<text transform="translate(309.9,140.8) rotate(0.1)" text-anchor="end">0</text>
<text transform="translate(309.9,121.97) rotate(0.1)" text-anchor="end">10</text>
<text transform="translate(309.9,103.14) rotate(0.1)" text-anchor="end">20</text>
<text transform="translate(309.9,84.31) rotate(0.1)" text-anchor="end">30</text>
<text transform="translate(309.9,65.49) rotate(0.1)" text-anchor="end">40</text>
<text transform="translate(309.9,46.66) rotate(0.1)" text-anchor="end">50</text>
<text transform="translate(309.9,27.83) rotate(0.1)" text-anchor="end">60</text>
<text transform="translate(309.9,9) rotate(0.1)" text-anchor="end">70</text>
<text transform="translate(429.5,158.4) rotate(0.1)" text-anchor="middle">y-coordinate (l.u)</text>
<text transform="translate(294.2,72.1) rotate(-89.9)" text-anchor="middle">x-coordinate (l.u)</text>
</g>
<g>
<text transform="translate(226.2,182.5) rotate(0.1)" text-anchor="end">t=500 (l.u)</text>
<path class="pt" d="M29.72,265.5h3.56l-1.78,3.4zM29.72,263.85h3.56l-1.78,3.4zM29.72,262.2h3.56l-1.78,3.4zM29.72,260.55h3.56l-1.78,3.4zM29.72,258.9h3.56l-1.78,3.4zM29.72,257.25h3.56l-1.78,3.4zM29.72,255.6h3.56l-1.78,3.4zM29.72,253.95h3.56l-1.78,3.4zM29.72,252.3h3.56l-1.78,3.4zM29.72,250.65h3.56l-1.78,3.4zM29.72,249h3.56l-1.78,3.4zM29.72,247.35h3.56l-1.78,3.4zM29.72,245.7h3.56l-1.78,3.4zM29.72,244.05h3.56l-1.78,3.4zM29.72,242.4h3.56l-1.78,3.4zM29.72,240.75h3.56l-1.78,3.4zM29.72,239.1h3.56l-1.78,3.4zM29.72,237.45h3.56l-1.78,3.4zM29.72,235.8h3.56l-1.78,3.4zM29.72,234.15h3.56l-1.78,3.4zM29.72,232.5h3.56l-1.78,3.4zM29.72,230.85h3.56l-1.78,3.4zM29.72,229.2h3.56l-1.78,3.4zM29.72,227.55h3.56l-1.78,3.4zM29.72,225.9h3.56l-1.78,3.4zM29.72,224.25h3.56l-1.78,3.4zM29.72,222.6h3.56l-1.78,3.4zM29.72,220.95h3.56l-1.78,3.4zM29.72,219.3h3.56l-1.78,3.4zM29.72,217.65h3.56l-1.78,3.4zM29.72,216h3.56l-1.78,3.4zM29.72,214.35h3.56l-1.78,3.4zM29.72,212.7h3.56l-1.78,3.4zM29.72,211.05h3.56l-1.78,3.4zM29.72,209.4h3.56l-1.78,3.4zM29.72,207.75h3.56l-1.78,3.4zM29.72,206.1h3.56l-1.78,3.4zM29.72,204.45h3.56l-1.78,3.4zM29.72,202.8h3.56l-1.78,3.4zM29.72,201.15h3.56l-1.78,3.4zM29.72,199.5h3.56l-1.78,3.4zM29.72,197.85h3.56l-1.78,3.4zM29.72,196.2h3.56l-1.78,3.4zM29.72,194.55h3.56l-1.78,3.4zM29.72,192.9h3.56l-1.78,3.4zM29.72,191.25h3.56l-1.78,3.4zM29.72,189.6h3.56l-1.78,3.4zM29.72,187.95h3.56l-1.78,3.4zM29.72,186.3h3.56l-1.78,3.4zM41.22,273.75h3.56l-1.78,3.4zM41.22,272.1h3.56l-1.78,3.4zM41.22,270.45h3.56l-1.78,3.4zM41.22,268.8h3.56l-1.78,3.4zM41.22,267.15h3.56l-1.78,3.4zM41.22,265.5h3.56l-1.78,3.4zM41.22,263.85h3.56l-1.78,3.4zM41.22,262.2h3.56l-1.78,3.4zM41.22,260.55h3.56l-1.78,3.4zM41.22,258.9h3.56l-1.78,3.4zM41.22,257.25h3.56l-1.78,3.4zM41.22,255.6h3.56l-1.78,3.4zM41.22,253.95h3.56l-1.78,3.4zM41.22,252.3h3.56l-1.78,3.4zM41.22,250.65h3.56l-1.78,3.4zM41.22,249h3.56l-1.78,3.4zM41.22,247.35h3.56l-1.78,3.4zM41.22,245.7h3.56l-1.78,3.4zM41.22,244.05h3.56l-1.78,3.4zM41.22,242.4h3.56l-1.78,3.4zM41.22,240.75h3.56l-1.78,3.4zM41.22,239.1h3.56l-1.78,3.4zM41.22,237.45h3.56l-1.78,3.4zM41.22,235.8h3.56l-1.78,3.4zM41.22,234.15h3.56l-1.78,3.4zM41.22,232.5h3.56l-1.78,3.4zM41.22,230.85h3.56l-1.78,3.4zM41.22,229.2h3.56l-1.78,3.4zM41.22,227.55h3.56l-1.78,3.4zM41.22,225.9h3.56l-1.78,3.4zM41.22,224.25h3.56l-1.78,3.4zM41.22,222.6h3.56l-1.78,3.4zM41.22,220.95h3.56l-1.78,3.4zM41.22,219.3h3.56l-1.78,3.4zM41.22,217.65h3.56l-1.78,3.4zM41.22,216h3.56l-1.78,3.4zM41.22,214.35h3.56l-1.78,3.4zM41.22,212.7h3.56l-1.78,3.4zM41.22,211.05h3.56l-1.78,3.4zM41.22,209.4h3.56l-1.78,3.4zM41.22,207.75h3.56l-1.78,3.4zM41.22,206.1h3.56l-1.78,3.4zM41.22,204.45h3.56l-1.78,3.4zM41.22,202.8h3.56l-1.78,3.4zM41.22,201.15h3.56l-1.78,3.4zM41.22,199.5h3.56l-1.78,3.4zM41.22,197.85h3.56l-1.78,3.4zM41.22,196.2h3.56l-1.78,3.4zM41.22,194.55h3.56l-1.78,3.4zM52.72,280.35h3.56l-1.78,3.4zM52.72,278.7h3.56l-1.78,3.4zM52.72,277.05h3.56l-1.78,3.4zM52.72,275.4h3.56l-1.78,3.4zM52.72,273.75h3.56l-1.78,3.4zM52.72,272.1h3.56l-1.78,3.4zM52.72,270.45h3.56l-1.78,3.4zM52.72,268.8h3.56l-1.78,3.4zM52.72,267.15h3.56l-1.78,3.4zM52.72,265.5h3.56l-1.78,3.4zM52.72,263.85h3.56l-1.78,3.4zM52.72,262.2h3.56l-1.78,3.4zM52.72,260.55h3.56l-1.78,3.4zM52.72,258.9h3.56l-1.78,3.4zM52.72,257.25h3.56l-1.78,3.4zM52.72,255.6h3.56l-1.78,3.4zM52.72,253.95h3.56l-1.78,3.4zM52.72,252.3h3.56l-1.78,3.4zM52.72,250.65h3.56l-1.78,3.4zM52.72,249h3.56l-1.78,3.4zM52.72,247.35h3.56l-1.78,3.4zM52.72,245.7h3.56l-1.78,3.4zM52.72,244.05h3.56l-1.78,3.4zM52.72,242.4h3.56l-1.78,3.4zM52.72,240.75h3.56l-1.78,3.4zM52.72,239.1h3.56l-1.78,3.4zM52.72,237.45h3.56l-1.78,3.4zM52.72,235.8h3.56l-1.78,3.4zM52.72,234.15h3.56l-1.78,3.4zM52.72,232.5h3.56l-1.78,3.4zM52.72,230.85h3.56l-1.78,3.4zM52.72,229.2h3.56l-1.78,3.4zM52.72,227.55h3.56l-1.78,3.4zM52.72,225.9h3.56l-1.78,3.4zM52.72,224.25h3.56l-1.78,3.4zM52.72,222.6h3.56l-1.78,3.4zM52.72,220.95h3.56l-1.78,3.4zM52.72,219.3h3.56l-1.78,3.4zM52.72,217.65h3.56l-1.78,3.4zM52.72,216h3.56l-1.78,3.4zM52.72,214.35h3.56l-1.78,3.4zM52.72,212.7h3.56l-1.78,3.4zM52.72,211.05h3.56l-1.78,3.4zM52.72,209.4h3.56l-1.78,3.4zM52.72,207.75h3.56l-1.78,3.4zM52.72,206.1h3.56l-1.78,3.4zM52.72,204.45h3.56l-1.78,3.4zM52.72,202.8h3.56l-1.78,3.4zM52.72,201.15h3.56l-1.78,3.4zM64.22,285.3h3.56l-1.78,3.4zM64.22,283.65h3.56l-1.78,3.4zM64.22,282h3.56l-1.78,3.4zM64.22,280.35h3.56l-1.78,3.4zM64.22,278.7h3.56l-1.78,3.4zM64.22,277.05h3.56l-1.78,3.4zM64.22,275.4h3.56l-1.78,3.4zM64.22,273.75h3.56l-1.78,3.4zM64.22,272.1h3.56l-1.78,3.4zM64.22,270.45h3.56l-1.78,3.4zM64.22,268.8h3.56l-1.78,3.4zM64.22,267.15h3.56l-1.78,3.4zM64.22,265.5h3.56l-1.78,3.4zM64.22,263.85h3.56l-1.78,3.4zM64.22,262.2h3.56l-1.78,3.4zM64.22,260.55h3.56l-1.78,3.4zM64.22,258.9h3.56l-1.78,3.4zM64.22,257.25h3.56l-1.78,3.4zM64.22,255.6h3.56l-1.78,3.4zM64.22,253.95h3.56l-1.78,3.4zM64.22,252.3h3.56l-1.78,3.4zM64.22,250.65h3.56l-1.78,3.4zM64.22,249h3.56l-1.78,3.4zM64.22,247.35h3.56l-1.78,3.4zM64.22,245.7h3.56l-1.78,3.4zM64.22,244.05h3.56l-1.78,3.4zM64.22,242.4h3.56l-1.78,3.4zM64.22,240.75h3.56l-1.78,3.4zM64.22,239.1h3.56l-1.78,3.4zM64.22,237.45h3.56l-1.78,3.4zM64.22,235.8h3.56l-1.78,3.4zM64.22,234.15h3.56l-1.78,3.4zM64.22,232.5h3.56l-1.78,3.4zM64.22,230.85h3.56l-1.78,3.4zM64.22,229.2h3.56l-1.78,3.4zM64.22,227.55h3.56l-1.78,3.4zM64.22,225.9h3.56l-1.78,3.4zM64.22,224.25h3.56l-1.78,3.4zM64.22,222.6h3.56l-1.78,3.4zM64.22,220.95h3.56l-1.78,3.4zM64.22,219.3h3.56l-1.78,3.4zM64.22,217.65h3.56l-1.78,3.4zM64.22,216h3.56l-1.78,3.4zM64.22,214.35h3.56l-1.78,3.4zM64.22,212.7h3.56l-1.78,3.4zM64.22,211.05h3.56l-1.78,3.4zM64.22,209.4h3.56l-1.78,3.4zM64.22,207.75h3.56l-1.78,3.4zM64.22,206.1h3.56l-1.78,3.4zM75.72,290.25h3.56l-1.78,3.4zM75.72,288.6h3.56l-1.78,3.4zM75.72,286.95h3.56l-1.78,3.4zM75.72,285.3h3.56l-1.78,3.4zM75.72,283.65h3.56l-1.78,3.4zM75.72,282h3.56l-1.78,3.4zM75.72,280.35h3.56l-1.78,3.4zM75.72,278.7h3.56l-1.78,3.4zM75.72,277.05h3.56l-1.78,3.4zM75.72,275.4h3.56l-1.78,3.4zM75.72,273.75h3.56l-1.78,3.4zM75.72,272.1h3.56l-1.78,3.4zM75.72,270.45h3.56l-1.78,3.4zM75.72,268.8h3.56l-1.78,3.4zM75.72,267.15h3.56l-1.78,3.4zM75.72,265.5h3.56l-1.78,3.4zM75.72,263.85h3.56l-1.78,3.4zM75.72,262.2h3.56l-1.78,3.4zM75.72,260.55h3.56l-1.78,3.4zM75.72,258.9h3.56l-1.78,3.4zM75.72,257.25h3.56l-1.78,3.4zM75.72,255.6h3.56l-1.78,3.4zM75.72,253.95h3.56l-1.78,3.4zM75.72,252.3h3.56l-1.78,3.4zM75.72,250.65h3.56l-1.78,3.4zM75.72,249h3.56l-1.78,3.4zM75.72,247.35h3.56l-1.78,3.4zM75.72,245.7h3.56l-1.78,3.4zM75.72,244.05h3.56l-1.78,3.4zM75.72,242.4h3.56l-1.78,3.4zM75.72,240.75h3.56l-1.78,3.4zM75.72,239.1h3.56l-1.78,3.4zM75.72,237.45h3.56l-1.78,3.4zM75.72,235.8h3.56l-1.78,3.4zM75.72,234.15h3.56l-1.78,3.4zM75.72,232.5h3.56l-1.78,3.4zM75.72,230.85h3.56l-1.78,3.4zM75.72,229.2h3.56l-1.78,3.4zM75.72,227.55h3.56l-1.78,3.4zM75.72,225.9h3.56l-1.78,3.4zM75.72,224.25h3.56l-1.78,3.4zM75.72,222.6h3.56l-1.78,3.4zM75.72,220.95h3.56l-1.78,3.4zM75.72,219.3h3.56l-1.78,3.4zM75.72,217.65h3.56l-1.78,3.4zM75.72,216h3.56l-1.78,3.4zM75.72,214.35h3.56l-1.78,3.4zM75.72,212.7h3.56l-1.78,3.4zM75.72,211.05h3.56l-1.78,3.4zM87.22,295.2h3.56l-1.78,3.4zM87.22,293.55h3.56l-1.78,3.4zM87.22,291.9h3.56l-1.78,3.4zM87.22,290.25h3.56l-1.78,3.4zM87.22,288.6h3.56l-1.78,3.4zM87.22,286.95h3.56l-1.78,3.4zM87.22,285.3h3.56l-1.78,3.4zM87.22,283.65h3.56l-1.78,3.4zM87.22,282h3.56l-1.78,3.4zM87.22,280.35h3.56l-1.78,3.4zM87.22,278.7h3.56l-1.78,3.4zM87.22,277.05h3.56l-1.78,3.4zM87.22,275.4h3.56l-1.78,3.4zM87.22,273.75h3.56l-1.78,3.4zM87.22,272.1h3.56l-1.78,3.4zM87.22,270.45h3.56l-1.78,3.4zM87.22,268.8h3.56l-1.78,3.4zM87.22,267.15h3.56l-1.78,3.4zM87.22,265.5h3.56l-1.78,3.4zM87.22,263.85h3.56l-1.78,3.4zM87.22,262.2h3.56l-1.78,3.4zM87.22,260.55h3.56l-1.78,3.4zM87.22,258.9h3.56l-1.78,3.4zM87.22,257.25h3.56l-1.78,3.4zM87.22,255.6h3.56l-1.78,3.4zM87.22,253.95h3.56l-1.78,3.4zM87.22,252.3h3.56l-1.78,3.4zM87.22,250.65h3.56l-1.78,3.4zM87.22,249h3.56l-1.78,3.4zM87.22,247.35h3.56l-1.78,3.4zM87.22,245.7h3.56l-1.78,3.4zM87.22,244.05h3.56l-1.78,3.4zM87.22,242.4h3.56l-1.78,3.4zM87.22,240.75h3.56l-1.78,3.4zM87.22,239.1h3.56l-1.78,3.4zM87.22,237.45h3.56l-1.78,3.4zM87.22,235.8h3.56l-1.78,3.4zM87.22,234.15h3.56l-1.78,3.4zM87.22,232.5h3.56l-1.78,3.4zM87.22,230.85h3.56l-1.78,3.4zM87.22,229.2h3.56l-1.78,3.4zM87.22,227.55h3.56l-1.78,3.4zM87.22,225.9h3.56l-1.78,3.4zM87.22,224.25h3.56l-1.78,3.4zM87.22,222.6h3.56l-1.78,3.4zM87.22,220.95h3.56l-1.78,3.4zM87.22,219.3h3.56l-1.78,3.4zM87.22,217.65h3.56l-1.78,3.4zM87.22,216h3.56l-1.78,3.4zM98.72,298.5h3.56l-1.78,3.4zM98.72,296.85h3.56l-1.78,3.4zM98.72,295.2h3.56l-1.78,3.4zM98.72,293.55h3.56l-1.78,3.4zM98.72,291.9h3.56l-1.78,3.4zM98.72,290.25h3.56l-1.78,3.4zM98.72,288.6h3.56l-1.78,3.4zM98.72,286.95h3.56l-1.78,3.4zM98.72,285.3h3.56l-1.78,3.4zM98.72,283.65h3.56l-1.78,3.4zM98.72,282h3.56l-1.78,3.4zM98.72,280.35h3.56l-1.78,3.4zM98.72,278.7h3.56l-1.78,3.4zM98.72,277.05h3.56l-1.78,3.4zM98.72,275.4h3.56l-1.78,3.4zM98.72,273.75h3.56l-1.78,3.4zM98.72,272.1h3.56l-1.78,3.4zM98.72,270.45h3.56l-1.78,3.4zM98.72,268.8h3.56l-1.78,3.4zM98.72,267.15h3.56l-1.78,3.4zM98.72,265.5h3.56l-1.78,3.4zM98.72,263.85h3.56l-1.78,3.4zM98.72,262.2h3.56l-1.78,3.4zM98.72,260.55h3.56l-1.78,3.4zM98.72,258.9h3.56l-1.78,3.4zM98.72,257.25h3.56l-1.78,3.4zM98.72,255.6h3.56l-1.78,3.4zM98.72,253.95h3.56l-1.78,3.4zM98.72,252.3h3.56l-1.78,3.4zM98.72,250.65h3.56l-1.78,3.4zM98.72,249h3.56l-1.78,3.4zM98.72,247.35h3.56l-1.78,3.4zM98.72,245.7h3.56l-1.78,3.4zM98.72,244.05h3.56l-1.78,3.4zM98.72,242.4h3.56l-1.78,3.4zM98.72,240.75h3.56l-1.78,3.4zM98.72,239.1h3.56l-1.78,3.4zM98.72,237.45h3.56l-1.78,3.4zM98.72,235.8h3.56l-1.78,3.4zM98.72,234.15h3.56l-1.78,3.4zM98.72,232.5h3.56l-1.78,3.4zM98.72,230.85h3.56l-1.78,3.4zM98.72,229.2h3.56l-1.78,3.4zM98.72,227.55h3.56l-1.78,3.4zM98.72,225.9h3.56l-1.78,3.4zM98.72,224.25h3.56l-1.78,3.4zM98.72,222.6h3.56l-1.78,3.4zM98.72,220.95h3.56l-1.78,3.4zM98.72,219.3h3.56l-1.78,3.4zM110.22,300.15h3.56l-1.78,3.4zM110.22,298.5h3.56l-1.78,3.4zM110.22,296.85h3.56l-1.78,3.4zM110.22,295.2h3.56l-1.78,3.4zM110.22,293.55h3.56l-1.78,3.4zM110.22,291.9h3.56l-1.78,3.4zM110.22,290.25h3.56l-1.78,3.4zM110.22,288.6h3.56l-1.78,3.4zM110.22,286.95h3.56l-1.78,3.4zM110.22,285.3h3.56l-1.78,3.4zM110.22,283.65h3.56l-1.78,3.4zM110.22,282h3.56l-1.78,3.4zM110.22,280.35h3.56l-1.78,3.4zM110.22,278.7h3.56l-1.78,3.4zM110.22,277.05h3.56l-1.78,3.4zM110.22,275.4h3.56l-1.78,3.4zM110.22,273.75h3.56l-1.78,3.4zM110.22,272.1h3.56l-1.78,3.4zM110.22,270.45h3.56l-1.78,3.4zM110.22,268.8h3.56l-1.78,3.4zM110.22,267.15h3.56l-1.78,3.4zM110.22,265.5h3.56l-1.78,3.4zM110.22,263.85h3.56l-1.78,3.4zM110.22,262.2h3.56l-1.78,3.4zM110.22,260.55h3.56l-1.78,3.4zM110.22,258.9h3.56l-1.78,3.4zM110.22,257.25h3.56l-1.78,3.4zM110.22,255.6h3.56l-1.78,3.4zM110.22,253.95h3.56l-1.78,3.4zM110.22,252.3h3.56l-1.78,3.4zM110.22,250.65h3.56l-1.78,3.4zM110.22,249h3.56l-1.78,3.4zM110.22,247.35h3.56l-1.78,3.4zM110.22,245.7h3.56l-1.78,3.4zM110.22,244.05h3.56l-1.78,3.4zM110.22,242.4h3.56l-1.78,3.4zM110.22,240.75h3.56l-1.78,3.4zM110.22,239.1h3.56l-1.78,3.4zM110.22,237.45h3.56l-1.78,3.4zM110.22,235.8h3.56l-1.78,3.4zM110.22,234.15h3.56l-1.78,3.4zM110.22,232.5h3.56l-1.78,3.4zM110.22,230.85h3.56l-1.78,3.4zM110.22,229.2h3.56l-1.78,3.4zM110.22,227.55h3.56l-1.78,3.4zM110.22,225.9h3.56l-1.78,3.4zM110.22,224.25h3.56l-1.78,3.4zM110.22,222.6h3.56l-1.78,3.4zM110.22,220.95h3.56l-1.78,3.4zM121.72,301.8h3.56l-1.78,3.4zM121.72,300.15h3.56l-1.78,3.4zM121.72,298.5h3.56l-1.78,3.4zM121.72,296.85h3.56l-1.78,3.4zM121.72,295.2h3.56l-1.78,3.4zM121.72,293.55h3.56l-1.78,3.4zM121.72,291.9h3.56l-1.78,3.4zM121.72,290.25h3.56l-1.78,3.4zM121.72,288.6h3.56l-1.78,3.4zM121.72,286.95h3.56l-1.78,3.4zM121.72,285.3h3.56l-1.78,3.4zM121.72,283.65h3.56l-1.78,3.4zM121.72,282h3.56l-1.78,3.4zM121.72,280.35h3.56l-1.78,3.4zM121.72,278.7h3.56l-1.78,3.4zM121.72,277.05h3.56l-1.78,3.4zM121.72,275.4h3.56l-1.78,3.4zM121.72,273.75h3.56l-1.78,3.4zM121.72,272.1h3.56l-1.78,3.4zM121.72,270.45h3.56l-1.78,3.4zM121.72,268.8h3.56l-1.78,3.4zM121.72,267.15h3.56l-1.78,3.4zM121.72,265.5h3.56l-1.78,3.4zM121.72,263.85h3.56l-1.78,3.4zM121.72,262.2h3.56l-1.78,3.4zM121.72,260.55h3.56l-1.78,3.4zM121.72,258.9h3.56l-1.78,3.4zM121.72,257.25h3.56l-1.78,3.4zM121.72,255.6h3.56l-1.78,3.4zM121.72,253.95h3.56l-1.78,3.4zM121.72,252.3h3.56l-1.78,3.4zM121.72,250.65h3.56l-1.78,3.4zM121.72,249h3.56l-1.78,3.4zM121.72,247.35h3.56l-1.78,3.4zM121.72,245.7h3.56l-1.78,3.4zM121.72,244.05h3.56l-1.78,3.4zM121.72,242.4h3.56l-1.78,3.4zM121.72,240.75h3.56l-1.78,3.4zM121.72,239.1h3.56l-1.78,3.4zM121.72,237.45h3.56l-1.78,3.4zM121.72,235.8h3.56l-1.78,3.4zM121.72,234.15h3.56l-1.78,3.4zM121.72,232.5h3.56l-1.78,3.4zM121.72,230.85h3.56l-1.78,3.4zM121.72,229.2h3.56l-1.78,3.4zM121.72,227.55h3.56l-1.78,3.4zM121.72,225.9h3.56l-1.78,3.4zM121.72,224.25h3.56l-1.78,3.4zM121.72,222.6h3.56l-1.78,3.4zM133.22,303.45h3.56l-1.78,3.4zM133.22,301.8h3.56l-1.78,3.4zM133.22,300.15h3.56l-1.78,3.4zM133.22,298.5h3.56l-1.78,3.4zM133.22,296.85h3.56l-1.78,3.4zM133.22,295.2h3.56l-1.78,3.4zM133.22,293.55h3.56l-1.78,3.4zM133.22,291.9h3.56l-1.78,3.4zM133.22,290.25h3.56l-1.78,3.4zM133.22,288.6h3.56l-1.78,3.4zM133.22,286.95h3.56l-1.78,3.4zM133.22,285.3h3.56l-1.78,3.4zM133.22,283.65h3.56l-1.78,3.4zM133.22,282h3.56l-1.78,3.4zM133.22,280.35h3.56l-1.78,3.4zM133.22,278.7h3.56l-1.78,3.4zM133.22,277.05h3.56l-1.78,3.4zM133.22,275.4h3.56l-1.78,3.4zM133.22,273.75h3.56l-1.78,3.4zM133.22,272.1h3.56l-1.78,3.4zM133.22,270.45h3.56l-1.78,3.4zM133.22,268.8h3.56l-1.78,3.4zM133.22,267.15h3.56l-1.78,3.4zM133.22,265.5h3.56l-1.78,3.4zM133.22,263.85h3.56l-1.78,3.4zM133.22,262.2h3.56l-1.78,3.4zM133.22,260.55h3.56l-1.78,3.4zM133.22,258.9h3.56l-1.78,3.4zM133.22,257.25h3.56l-1.78,3.4zM133.22,255.6h3.56l-1.78,3.4zM133.22,253.95h3.56l-1.78,3.4zM133.22,252.3h3.56l-1.78,3.4zM133.22,250.65h3.56l-1.78,3.4zM133.22,249h3.56l-1.78,3.4zM133.22,247.35h3.56l-1.78,3.4zM133.22,245.7h3.56l-1.78,3.4zM133.22,244.05h3.56l-1.78,3.4zM133.22,242.4h3.56l-1.78,3.4zM133.22,240.75h3.56l-1.78,3.4zM133.22,239.1h3.56l-1.78,3.4zM133.22,237.45h3.56l-1.78,3.4zM133.22,235.8h3.56l-1.78,3.4zM133.22,234.15h3.56l-1.78,3.4zM133.22,232.5h3.56l-1.78,3.4zM133.22,230.85h3.56l-1.78,3.4zM133.22,229.2h3.56l-1.78,3.4zM133.22,227.55h3.56l-1.78,3.4zM133.22,225.9h3.56l-1.78,3.4zM133.22,224.25h3.56l-1.78,3.4zM144.72,303.45h3.56l-1.78,3.4zM144.72,301.8h3.56l-1.78,3.4zM144.72,300.15h3.56l-1.78,3.4zM144.72,298.5h3.56l-1.78,3.4zM144.72,296.85h3.56l-1.78,3.4zM144.72,295.2h3.56l-1.78,3.4zM144.72,293.55h3.56l-1.78,3.4zM144.72,291.9h3.56l-1.78,3.4zM144.72,290.25h3.56l-1.78,3.4zM144.72,288.6h3.56l-1.78,3.4zM144.72,286.95h3.56l-1.78,3.4zM144.72,285.3h3.56l-1.78,3.4zM144.72,283.65h3.56l-1.78,3.4zM144.72,282h3.56l-1.78,3.4zM144.72,280.35h3.56l-1.78,3.4zM144.72,278.7h3.56l-1.78,3.4zM144.72,277.05h3.56l-1.78,3.4zM144.72,275.4h3.56l-1.78,3.4zM144.72,273.75h3.56l-1.78,3.4zM144.72,272.1h3.56l-1.78,3.4zM144.72,270.45h3.56l-1.78,3.4zM144.72,268.8h3.56l-1.78,3.4zM144.72,267.15h3.56l-1.78,3.4zM144.72,265.5h3.56l-1.78,3.4zM144.72,263.85h3.56l-1.78,3.4zM144.72,262.2h3.56l-1.78,3.4zM144.72,260.55h3.56l-1.78,3.4zM144.72,258.9h3.56l-1.78,3.4zM144.72,257.25h3.56l-1.78,3.4zM144.72,255.6h3.56l-1.78,3.4zM144.72,253.95h3.56l-1.78,3.4zM144.72,252.3h3.56l-1.78,3.4zM144.72,250.65h3.56l-1.78,3.4zM144.72,249h3.56l-1.78,3.4zM144.72,247.35h3.56l-1.78,3.4zM144.72,245.7h3.56l-1.78,3.4zM144.72,244.05h3.56l-1.78,3.4zM144.72,242.4h3.56l-1.78,3.4zM144.72,240.75h3.56l-1.78,3.4zM144.72,239.1h3.56l-1.78,3.4zM144.72,237.45h3.56l-1.78,3.4zM144.72,235.8h3.56l-1.78,3.4zM144.72,234.15h3.56l-1.78,3.4zM144.72,232.5h3.56l-1.78,3.4zM144.72,230.85h3.56l-1.78,3.4zM144.72,229.2h3.56l-1.78,3.4zM144.72,227.55h3.56l-1.78,3.4zM144.72,225.9h3.56l-1.78,3.4zM144.72,224.25h3.56l-1.78,3.4zM156.22,301.8h3.56l-1.78,3.4zM156.22,300.15h3.56l-1.78,3.4zM156.22,298.5h3.56l-1.78,3.4zM156.22,296.85h3.56l-1.78,3.4zM156.22,295.2h3.56l-1.78,3.4zM156.22,293.55h3.56l-1.78,3.4zM156.22,291.9h3.56l-1.78,3.4zM156.22,290.25h3.56l-1.78,3.4zM156.22,288.6h3.56l-1.78,3.4zM156.22,286.95h3.56l-1.78,3.4zM156.22,285.3h3.56l-1.78,3.4zM156.22,283.65h3.56l-1.78,3.4zM156.22,282h3.56l-1.78,3.4zM156.22,280.35h3.56l-1.78,3.4zM156.22,278.7h3.56l-1.78,3.4zM156.22,277.05h3.56l-1.78,3.4zM156.22,275.4h3.56l-1.78,3.4zM156.22,273.75h3.56l-1.78,3.4zM156.22,272.1h3.56l-1.78,3.4zM156.22,270.45h3.56l-1.78,3.4zM156.22,268.8h3.56l-1.78,3.4zM156.22,267.15h3.56l-1.78,3.4zM156.22,265.5h3.56l-1.78,3.4zM156.22,263.85h3.56l-1.78,3.4zM156.22,262.2h3.56l-1.78,3.4zM156.22,260.55h3.56l-1.78,3.4zM156.22,258.9h3.56l-1.78,3.4zM156.22,257.25h3.56l-1.78,3.4zM156.22,255.6h3.56l-1.78,3.4zM156.22,253.95h3.56l-1.78,3.4zM156.22,252.3h3.56l-1.78,3.4zM156.22,250.65h3.56l-1.78,3.4zM156.22,249h3.56l-1.78,3.4zM156.22,247.35h3.56l-1.78,3.4zM156.22,245.7h3.56l-1.78,3.4zM156.22,244.05h3.56l-1.78,3.4zM156.22,242.4h3.56l-1.78,3.4zM156.22,240.75h3.56l-1.78,3.4zM156.22,239.1h3.56l-1.78,3.4zM156.22,237.45h3.56l-1.78,3.4zM156.22,235.8h3.56l-1.78,3.4zM156.22,234.15h3.56l-1.78,3.4zM156.22,232.5h3.56l-1.78,3.4zM156.22,230.85h3.56l-1.78,3.4zM156.22,229.2h3.56l-1.78,3.4zM156.22,227.55h3.56l-1.78,3.4zM156.22,225.9h3.56l-1.78,3.4zM156.22,224.25h3.56l-1.78,3.4zM156.22,222.6h3.56l-1.78,3.4zM167.72,300.15h3.56l-1.78,3.4zM167.72,298.5h3.56l-1.78,3.4zM167.72,296.85h3.56l-1.78,3.4zM167.72,295.2h3.56l-1.78,3.4zM167.72,293.55h3.56l-1.78,3.4zM167.72,291.9h3.56l-1.78,3.4zM167.72,290.25h3.56l-1.78,3.4zM167.72,288.6h3.56l-1.78,3.4zM167.72,286.95h3.56l-1.78,3.4zM167.72,285.3h3.56l-1.78,3.4zM167.72,283.65h3.56l-1.78,3.4zM167.72,282h3.56l-1.78,3.4zM167.72,280.35h3.56l-1.78,3.4zM167.72,278.7h3.56l-1.78,3.4zM167.72,277.05h3.56l-1.78,3.4zM167.72,275.4h3.56l-1.78,3.4zM167.72,273.75h3.56l-1.78,3.4zM167.72,272.1h3.56l-1.78,3.4zM167.72,270.45h3.56l-1.78,3.4zM167.72,268.8h3.56l-1.78,3.4zM167.72,267.15h3.56l-1.78,3.4zM167.72,265.5h3.56l-1.78,3.4zM167.72,263.85h3.56l-1.78,3.4zM167.72,262.2h3.56l-1.78,3.4zM167.72,260.55h3.56l-1.78,3.4zM167.72,258.9h3.56l-1.78,3.4zM167.72,257.25h3.56l-1.78,3.4zM167.72,255.6h3.56l-1.78,3.4zM167.72,253.95h3.56l-1.78,3.4zM167.72,252.3h3.56l-1.78,3.4zM167.72,250.65h3.56l-1.78,3.4zM167.72,249h3.56l-1.78,3.4zM167.72,247.35h3.56l-1.78,3.4zM167.72,245.7h3.56l-1.78,3.4zM167.72,244.05h3.56l-1.78,3.4zM167.72,242.4h3.56l-1.78,3.4zM167.72,240.75h3.56l-1.78,3.4zM167.72,239.1h3.56l-1.78,3.4zM167.72,237.45h3.56l-1.78,3.4zM167.72,235.8h3.56l-1.78,3.4zM167.72,234.15h3.56l-1.78,3.4zM167.72,232.5h3.56l-1.78,3.4zM167.72,230.85h3.56l-1.78,3.4zM167.72,229.2h3.56l-1.78,3.4zM167.72,227.55h3.56l-1.78,3.4zM167.72,225.9h3.56l-1.78,3.4zM167.72,224.25h3.56l-1.78,3.4zM167.72,222.6h3.56l-1.78,3.4zM167.72,220.95h3.56l-1.78,3.4zM179.22,298.5h3.56l-1.78,3.4zM179.22,296.85h3.56l-1.78,3.4zM179.22,295.2h3.56l-1.78,3.4zM179.22,293.55h3.56l-1.78,3.4zM179.22,291.9h3.56l-1.78,3.4zM179.22,290.25h3.56l-1.78,3.4zM179.22,288.6h3.56l-1.78,3.4zM179.22,286.95h3.56l-1.78,3.4zM179.22,285.3h3.56l-1.78,3.4zM179.22,283.65h3.56l-1.78,3.4zM179.22,282h3.56l-1.78,3.4zM179.22,280.35h3.56l-1.78,3.4zM179.22,278.7h3.56l-1.78,3.4zM179.22,277.05h3.56l-1.78,3.4zM179.22,275.4h3.56l-1.78,3.4zM179.22,273.75h3.56l-1.78,3.4zM179.22,272.1h3.56l-1.78,3.4zM179.22,270.45h3.56l-1.78,3.4zM179.22,268.8h3.56l-1.78,3.4zM179.22,267.15h3.56l-1.78,3.4zM179.22,265.5h3.56l-1.78,3.4zM179.22,263.85h3.56l-1.78,3.4zM179.22,262.2h3.56l-1.78,3.4zM179.22,260.55h3.56l-1.78,3.4zM179.22,258.9h3.56l-1.78,3.4zM179.22,257.25h3.56l-1.78,3.4zM179.22,255.6h3.56l-1.78,3.4zM179.22,253.95h3.56l-1.78,3.4zM179.22,252.3h3.56l-1.78,3.4zM179.22,250.65h3.56l-1.78,3.4zM179.22,249h3.56l-1.78,3.4zM179.22,247.35h3.56l-1.78,3.4zM179.22,245.7h3.56l-1.78,3.4zM179.22,244.05h3.56l-1.78,3.4zM179.22,242.4h3.56l-1.78,3.4zM179.22,240.75h3.56l-1.78,3.4zM179.22,239.1h3.56l-1.78,3.4zM179.22,237.45h3.56l-1.78,3.4zM179.22,235.8h3.56l-1.78,3.4zM179.22,234.15h3.56l-1.78,3.4zM179.22,232.5h3.56l-1.78,3.4zM179.22,230.85h3.56l-1.78,3.4zM179.22,229.2h3.56l-1.78,3.4zM179.22,227.55h3.56l-1.78,3.4zM179.22,225.9h3.56l-1.78,3.4zM179.22,224.25h3.56l-1.78,3.4zM179.22,222.6h3.56l-1.78,3.4zM179.22,220.95h3.56l-1.78,3.4zM179.22,219.3h3.56l-1.78,3.4zM190.72,295.2h3.56l-1.78,3.4zM190.72,293.55h3.56l-1.78,3.4zM190.72,291.9h3.56l-1.78,3.4zM190.72,290.25h3.56l-1.78,3.4zM190.72,288.6h3.56l-1.78,3.4zM190.72,286.95h3.56l-1.78,3.4zM190.72,285.3h3.56l-1.78,3.4zM190.72,283.65h3.56l-1.78,3.4zM190.72,282h3.56l-1.78,3.4zM190.72,280.35h3.56l-1.78,3.4zM190.72,278.7h3.56l-1.78,3.4zM190.72,277.05h3.56l-1.78,3.4zM190.72,275.4h3.56l-1.78,3.4zM190.72,273.75h3.56l-1.78,3.4zM190.72,272.1h3.56l-1.78,3.4zM190.72,270.45h3.56l-1.78,3.4zM190.72,268.8h3.56l-1.78,3.4zM190.72,267.15h3.56l-1.78,3.4zM190.72,265.5h3.56l-1.78,3.4zM190.72,263.85h3.56l-1.78,3.4zM190.72,262.2h3.56l-1.78,3.4zM190.72,260.55h3.56l-1.78,3.4zM190.72,258.9h3.56l-1.78,3.4zM190.72,257.25h3.56l-1.78,3.4zM190.72,255.6h3.56l-1.78,3.4zM190.72,253.95h3.56l-1.78,3.4zM190.72,252.3h3.56l-1.78,3.4zM190.72,250.65h3.56l-1.78,3.4zM190.72,249h3.56l-1.78,3.4zM190.72,247.35h3.56l-1.78,3.4zM190.72,245.7h3.56l-1.78,3.4zM190.72,244.05h3.56l-1.78,3.4zM190.72,242.4h3.56l-1.78,3.4zM190.72,240.75h3.56l-1.78,3.4zM190.72,239.1h3.56l-1.78,3.4zM190.72,237.45h3.56l-1.78,3.4zM190.72,235.8h3.56l-1.78,3.4zM190.72,234.15h3.56l-1.78,3.4zM190.72,232.5h3.56l-1.78,3.4zM190.72,230.85h3.56l-1.78,3.4zM190.72,229.2h3.56l-1.78,3.4zM190.72,227.55h3.56l-1.78,3.4zM190.72,225.9h3.56l-1.78,3.4zM190.72,224.25h3.56l-1.78,3.4zM190.72,222.6h3.56l-1.78,3.4zM190.72,220.95h3.56l-1.78,3.4zM190.72,219.3h3.56l-1.78,3.4zM190.72,217.65h3.56l-1.78,3.4zM190.72,216h3.56l-1.78,3.4zM202.22,290.25h3.56l-1.78,3.4zM202.22,288.6h3.56l-1.78,3.4zM202.22,286.95h3.56l-1.78,3.4zM202.22,285.3h3.56l-1.78,3.4zM202.22,283.65h3.56l-1.78,3.4zM202.22,282h3.56l-1.78,3.4zM202.22,280.35h3.56l-1.78,3.4zM202.22,278.7h3.56l-1.78,3.4zM202.22,277.05h3.56l-1.78,3.4zM202.22,275.4h3.56l-1.78,3.4zM202.22,273.75h3.56l-1.78,3.4zM202.22,272.1h3.56l-1.78,3.4zM202.22,270.45h3.56l-1.78,3.4zM202.22,268.8h3.56l-1.78,3.4zM202.22,267.15h3.56l-1.78,3.4zM202.22,265.5h3.56l-1.78,3.4zM202.22,263.85h3.56l-1.78,3.4zM202.22,262.2h3.56l-1.78,3.4zM202.22,260.55h3.56l-1.78,3.4zM202.22,258.9h3.56l-1.78,3.4zM202.22,257.25h3.56l-1.78,3.4zM202.22,255.6h3.56l-1.78,3.4zM202.22,253.95h3.56l-1.78,3.4zM202.22,252.3h3.56l-1.78,3.4zM202.22,250.65h3.56l-1.78,3.4zM202.22,249h3.56l-1.78,3.4zM202.22,247.35h3.56l-1.78,3.4zM202.22,245.7h3.56l-1.78,3.4zM202.22,244.05h3.56l-1.78,3.4zM202.22,242.4h3.56l-1.78,3.4zM202.22,240.75h3.56l-1.78,3.4zM202.22,239.1h3.56l-1.78,3.4zM202.22,237.45h3.56l-1.78,3.4zM202.22,235.8h3.56l-1.78,3.4zM202.22,234.15h3.56l-1.78,3.4zM202.22,232.5h3.56l-1.78,3.4zM202.22,230.85h3.56l-1.78,3.4zM202.22,229.2h3.56l-1.78,3.4zM202.22,227.55h3.56l-1.78,3.4zM202.22,225.9h3.56l-1.78,3.4zM202.22,224.25h3.56l-1.78,3.4zM202.22,222.6h3.56l-1.78,3.4zM202.22,220.95h3.56l-1.78,3.4zM202.22,219.3h3.56l-1.78,3.4zM202.22,217.65h3.56l-1.78,3.4zM202.22,216h3.56l-1.78,3.4zM202.22,214.35h3.56l-1.78,3.4zM202.22,212.7h3.56l-1.78,3.4zM202.22,211.05h3.56l-1.78,3.4zM213.72,285.3h3.56l-1.78,3.4zM213.72,283.65h3.56l-1.78,3.4zM213.72,282h3.56l-1.78,3.4zM213.72,280.35h3.56l-1.78,3.4zM213.72,278.7h3.56l-1.78,3.4zM213.72,277.05h3.56l-1.78,3.4zM213.72,275.4h3.56l-1.78,3.4zM213.72,273.75h3.56l-1.78,3.4zM213.72,272.1h3.56l-1.78,3.4zM213.72,270.45h3.56l-1.78,3.4zM213.72,268.8h3.56l-1.78,3.4zM213.72,267.15h3.56l-1.78,3.4zM213.72,265.5h3.56l-1.78,3.4zM213.72,263.85h3.56l-1.78,3.4zM213.72,262.2h3.56l-1.78,3.4zM213.72,260.55h3.56l-1.78,3.4zM213.72,258.9h3.56l-1.78,3.4zM213.72,257.25h3.56l-1.78,3.4zM213.72,255.6h3.56l-1.78,3.4zM213.72,253.95h3.56l-1.78,3.4zM213.72,252.3h3.56l-1.78,3.4zM213.72,250.65h3.56l-1.78,3.4zM213.72,249h3.56l-1.78,3.4zM213.72,247.35h3.56l-1.78,3.4zM213.72,245.7h3.56l-1.78,3.4zM213.72,244.05h3.56l-1.78,3.4zM213.72,242.4h3.56l-1.78,3.4zM213.72,240.75h3.56l-1.78,3.4zM213.72,239.1h3.56l-1.78,3.4zM213.72,237.45h3.56l-1.78,3.4zM213.72,235.8h3.56l-1.78,3.4zM213.72,234.15h3.56l-1.78,3.4zM213.72,232.5h3.56l-1.78,3.4zM213.72,230.85h3.56l-1.78,3.4zM213.72,229.2h3.56l-1.78,3.4zM213.72,227.55h3.56l-1.78,3.4zM213.72,225.9h3.56l-1.78,3.4zM213.72,224.25h3.56l-1.78,3.4zM213.72,222.6h3.56l-1.78,3.4zM213.72,220.95h3.56l-1.78,3.4zM213.72,219.3h3.56l-1.78,3.4zM213.72,217.65h3.56l-1.78,3.4zM213.72,216h3.56l-1.78,3.4zM213.72,214.35h3.56l-1.78,3.4zM213.72,212.7h3.56l-1.78,3.4zM213.72,211.05h3.56l-1.78,3.4zM213.72,209.4h3.56l-1.78,3.4zM213.72,207.75h3.56l-1.78,3.4zM213.72,206.1h3.56l-1.78,3.4zM225.22,280.35h3.56l-1.78,3.4zM225.22,278.7h3.56l-1.78,3.4zM225.22,277.05h3.56l-1.78,3.4zM225.22,275.4h3.56l-1.78,3.4zM225.22,273.75h3.56l-1.78,3.4zM225.22,272.1h3.56l-1.78,3.4zM225.22,270.45h3.56l-1.78,3.4zM225.22,268.8h3.56l-1.78,3.4zM225.22,267.15h3.56l-1.78,3.4zM225.22,265.5h3.56l-1.78,3.4zM225.22,263.85h3.56l-1.78,3.4zM225.22,262.2h3.56l-1.78,3.4zM225.22,260.55h3.56l-1.78,3.4zM225.22,258.9h3.56l-1.78,3.4zM225.22,257.25h3.56l-1.78,3.4zM225.22,255.6h3.56l-1.78,3.4zM225.22,253.95h3.56l-1.78,3.4zM225.22,252.3h3.56l-1.78,3.4zM225.22,250.65h3.56l-1.78,3.4zM225.22,249h3.56l-1.78,3.4zM225.22,247.35h3.56l-1.78,3.4zM225.22,245.7h3.56l-1.78,3.4zM225.22,244.05h3.56l-1.78,3.4zM225.22,242.4h3.56l-1.78,3.4zM225.22,240.75h3.56l-1.78,3.4zM225.22,239.1h3.56l-1.78,3.4zM225.22,237.45h3.56l-1.78,3.4zM225.22,235.8h3.56l-1.78,3.4zM225.22,234.15h3.56l-1.78,3.4zM225.22,232.5h3.56l-1.78,3.4zM225.22,230.85h3.56l-1.78,3.4zM225.22,229.2h3.56l-1.78,3.4zM225.22,227.55h3.56l-1.78,3.4zM225.22,225.9h3.56l-1.78,3.4zM225.22,224.25h3.56l-1.78,3.4zM225.22,222.6h3.56l-1.78,3.4zM225.22,220.95h3.56l-1.78,3.4zM225.22,219.3h3.56l-1.78,3.4zM225.22,217.65h3.56l-1.78,3.4zM225.22,216h3.56l-1.78,3.4zM225.22,214.35h3.56l-1.78,3.4zM225.22,212.7h3.56l-1.78,3.4zM225.22,211.05h3.56l-1.78,3.4zM225.22,209.4h3.56l-1.78,3.4zM225.22,207.75h3.56l-1.78,3.4zM225.22,206.1h3.56l-1.78,3.4zM225.22,204.45h3.56l-1.78,3.4zM225.22,202.8h3.56l-1.78,3.4zM225.22,201.15h3.56l-1.78,3.4zM236.72,273.75h3.56l-1.78,3.4zM236.72,272.1h3.56l-1.78,3.4zM236.72,270.45h3.56l-1.78,3.4zM236.72,268.8h3.56l-1.78,3.4zM236.72,267.15h3.56l-1.78,3.4zM236.72,265.5h3.56l-1.78,3.4zM236.72,263.85h3.56l-1.78,3.4zM236.72,262.2h3.56l-1.78,3.4zM236.72,260.55h3.56l-1.78,3.4zM236.72,258.9h3.56l-1.78,3.4zM236.72,257.25h3.56l-1.78,3.4zM236.72,255.6h3.56l-1.78,3.4zM236.72,253.95h3.56l-1.78,3.4zM236.72,252.3h3.56l-1.78,3.4zM236.72,250.65h3.56l-1.78,3.4zM236.72,249h3.56l-1.78,3.4zM236.72,247.35h3.56l-1.78,3.4zM236.72,245.7h3.56l-1.78,3.4zM236.72,244.05h3.56l-1.78,3.4zM236.72,242.4h3.56l-1.78,3.4zM236.72,240.75h3.56l-1.78,3.4zM236.72,239.1h3.56l-1.78,3.4zM236.72,237.45h3.56l-1.78,3.4zM236.72,235.8h3.56l-1.78,3.4zM236.72,234.15h3.56l-1.78,3.4zM236.72,232.5h3.56l-1.78,3.4zM236.72,230.85h3.56l-1.78,3.4zM236.72,229.2h3.56l-1.78,3.4zM236.72,227.55h3.56l-1.78,3.4zM236.72,225.9h3.56l-1.78,3.4zM236.72,224.25h3.56l-1.78,3.4zM236.72,222.6h3.56l-1.78,3.4zM236.72,220.95h3.56l-1.78,3.4zM236.72,219.3h3.56l-1.78,3.4zM236.72,217.65h3.56l-1.78,3.4zM236.72,216h3.56l-1.78,3.4zM236.72,214.35h3.56l-1.78,3.4zM236.72,212.7h3.56l-1.78,3.4zM236.72,211.05h3.56l-1.78,3.4zM236.72,209.4h3.56l-1.78,3.4zM236.72,207.75h3.56l-1.78,3.4zM236.72,206.1h3.56l-1.78,3.4zM236.72,204.45h3.56l-1.78,3.4zM236.72,202.8h3.56l-1.78,3.4zM236.72,201.15h3.56l-1.78,3.4zM236.72,199.5h3.56l-1.78,3.4zM236.72,197.85h3.56l-1.78,3.4zM236.72,196.2h3.56l-1.78,3.4zM236.72,194.55h3.56l-1.78,3.4zM248.22,265.5h3.56l-1.78,3.4zM248.22,263.85h3.56l-1.78,3.4zM248.22,262.2h3.56l-1.78,3.4zM248.22,260.55h3.56l-1.78,3.4zM248.22,258.9h3.56l-1.78,3.4zM248.22,257.25h3.56l-1.78,3.4zM248.22,255.6h3.56l-1.78,3.4zM248.22,253.95h3.56l-1.78,3.4zM248.22,252.3h3.56l-1.78,3.4zM248.22,250.65h3.56l-1.78,3.4zM248.22,249h3.56l-1.78,3.4zM248.22,247.35h3.56l-1.78,3.4zM248.22,245.7h3.56l-1.78,3.4zM248.22,244.05h3.56l-1.78,3.4zM248.22,242.4h3.56l-1.78,3.4zM248.22,240.75h3.56l-1.78,3.4zM248.22,239.1h3.56l-1.78,3.4zM248.22,237.45h3.56l-1.78,3.4zM248.22,235.8h3.56l-1.78,3.4zM248.22,234.15h3.56l-1.78,3.4zM248.22,232.5h3.56l-1.78,3.4zM248.22,230.85h3.56l-1.78,3.4zM248.22,229.2h3.56l-1.78,3.4zM248.22,227.55h3.56l-1.78,3.4zM248.22,225.9h3.56l-1.78,3.4zM248.22,224.25h3.56l-1.78,3.4zM248.22,222.6h3.56l-1.78,3.4zM248.22,220.95h3.56l-1.78,3.4zM248.22,219.3h3.56l-1.78,3.4zM248.22,217.65h3.56l-1.78,3.4zM248.22,216h3.56l-1.78,3.4zM248.22,214.35h3.56l-1.78,3.4zM248.22,212.7h3.56l-1.78,3.4zM248.22,211.05h3.56l-1.78,3.4zM248.22,209.4h3.56l-1.78,3.4zM248.22,207.75h3.56l-1.78,3.4zM248.22,206.1h3.56l-1.78,3.4zM248.22,204.45h3.56l-1.78,3.4zM248.22,202.8h3.56l-1.78,3.4zM248.22,201.15h3.56l-1.78,3.4zM248.22,199.5h3.56l-1.78,3.4zM248.22,197.85h3.56l-1.78,3.4zM248.22,196.2h3.56l-1.78,3.4zM248.22,194.55h3.56l-1.78,3.4zM248.22,192.9h3.56l-1.78,3.4zM248.22,191.25h3.56l-1.78,3.4zM248.22,189.6h3.56l-1.78,3.4zM248.22,187.95h3.56l-1.78,3.4zM248.22,186.3h3.56l-1.78,3.4zM30,186.3h3v80.8h-3zM41.5,194.55h3v80.8h-3zM53,201.15h3v80.8h-3zM64.5,206.1h3v80.8h-3zM76,211.05h3v80.8h-3zM87.5,216h3v80.8h-3zM99,219.3h3v80.8h-3zM110.5,220.95h3v80.8h-3zM122,222.6h3v80.8h-3zM133.5,224.25h3v80.8h-3zM145,224.25h3v80.8h-3zM156.5,222.6h3v80.8h-3zM168,220.95h3v80.8h-3zM179.5,219.3h3v80.8h-3zM191,216h3v80.8h-3zM202.5,211.05h3v80.8h-3zM214,206.1h3v80.8h-3zM225.5,201.15h3v80.8h-3zM237,194.55h3v80.8h-3zM248.5,186.3h3v80.8h-3zM237.1,179.25h3.6l-1.8,3z"/>
<path class="lh" d="M25,173.8H256M25,305.8H256M25.5,305.8h2.9M255.5,305.8h-2.9M25.5,289.3h2.9M255.5,289.3h-2.9M25.5,272.8h2.9M255.5,272.8h-2.9M25.5,256.3h2.9M255.5,256.3h-2.9M25.5,239.8h2.9M255.5,239.8h-2.9M25.5,223.3h2.9M255.5,223.3h-2.9M25.5,206.8h2.9M255.5,206.8h-2.9M25.5,190.3h2.9M255.5,190.3h-2.9M25.5,173.8h2.9M255.5,173.8h-2.9"/>
<path class="lv" d="M25.5,173.8V305.8M255.5,173.8V305.8M25.75,305.8v-2.5M25.75,173.8v2.5M48.75,305.8v-2.5M48.75,173.8v2.5M71.75,305.8v-2.5M71.75,173.8v2.5M94.75,305.8v-2.5M94.75,173.8v2.5M117.75,305.8v-2.5M117.75,173.8v2.5M140.75,305.8v-2.5M140.75,173.8v2.5M163.75,305.8v-2.5M163.75,173.8v2.5M186.75,305.8v-2.5M186.75,173.8v2.5M209.75,305.8v-2.5M209.75,173.8v2.5M232.75,305.8v-2.5M232.75,173.8v2.5M255.75,305.8v-2.5M255.75,173.8v2.5"/>
<text transform="translate(26.3,315.3) rotate(0.1)" text-anchor="middle">-10</text>
<text transform="translate(49.3,315.3) rotate(0.1)" text-anchor="middle">-8</text>
<text transform="translate(72.3,315.3) rotate(0.1)" text-anchor="middle">-6</text>
<text transform="translate(95.3,315.3) rotate(0.1)" text-anchor="middle">-4</text>
<text transform="translate(118.3,315.3) rotate(0.1)" text-anchor="middle">-2</text>
<text transform="translate(141.3,315.3) rotate(0.1)" text-anchor="middle">0</text>
<text transform="translate(164.3,315.3) rotate(0.1)" text-anchor="middle">2</text>
<text transform="translate(187.3,315.3) rotate(0.1)" text-anchor="middle">4</text>
<text transform="translate(210.3,315.3) rotate(0.1)" text-anchor="middle">6</text>
<text transform="translate(233.3,315.3) rotate(0.1)" text-anchor="middle">8</text>
<text transform="translate(256.3,315.3) rotate(0.1)" text-anchor="middle">10</text>
<text transform="translate(21.9,308.3) rotate(0.1)" text-anchor="end">0</text>
<text transform="translate(21.9,291.8) rotate(0.1)" text-anchor="end">10</text>
<text transform="translate(21.9,275.3) rotate(0.1)" text-anchor="end">20</text>
<text transform="translate(21.9,258.8) rotate(0.1)" text-anchor="end">30</text>
<text transform="translate(21.9,242.3) rotate(0.1)" text-anchor="end">40</text>
<text transform="translate(21.9,225.8) rotate(0.1)" text-anchor="end">50</text>
<text transform="translate(21.9,209.3) rotate(0.1)" text-anchor="end">60</text>
<text transform="translate(21.9,192.8) rotate(0.1)" text-anchor="end">70</text>
<text transform="translate(21.9,176.3) rotate(0.1)" text-anchor="end">80</text>
<text transform="translate(141.5,325.9) rotate(0.1)" text-anchor="middle">y-coordinate (l.u)</text>
<text transform="translate(6.2,239.5) rotate(-89.9)" text-anchor="middle">x-coordinate (l.u)</text>
</g>
<g>
<text transform="translate(514.2,182.5) rotate(0.1)" text-anchor="end">t=700 (l.u)</text>
<path class="pt" d="M317.72,256.7h3.56l-1.78,3.4zM317.72,255.23h3.56l-1.78,3.4zM317.72,253.77h3.56l-1.78,3.4zM317.72,252.3h3.56l-1.78,3.4zM317.72,250.83h3.56l-1.78,3.4zM317.72,249.37h3.56l-1.78,3.4zM317.72,247.9h3.56l-1.78,3.4zM317.72,246.43h3.56l-1.78,3.4zM317.72,244.97h3.56l-1.78,3.4zM317.72,243.5h3.56l-1.78,3.4zM317.72,242.03h3.56l-1.78,3.4zM317.72,240.57h3.56l-1.78,3.4zM317.72,239.1h3.56l-1.78,3.4zM317.72,237.63h3.56l-1.78,3.4zM317.72,236.17h3.56l-1.78,3.4zM317.72,234.7h3.56l-1.78,3.4zM317.72,233.23h3.56l-1.78,3.4zM317.72,231.77h3.56l-1.78,3.4zM317.72,230.3h3.56l-1.78,3.4zM317.72,228.83h3.56l-1.78,3.4zM317.72,227.37h3.56l-1.78,3.4zM317.72,225.9h3.56l-1.78,3.4zM317.72,224.43h3.56l-1.78,3.4zM317.72,222.97h3.56l-1.78,3.4zM317.72,221.5h3.56l-1.78,3.4zM317.72,220.03h3.56l-1.78,3.4zM317.72,218.57h3.56l-1.78,3.4zM317.72,217.1h3.56l-1.78,3.4zM317.72,215.63h3.56l-1.78,3.4zM317.72,214.17h3.56l-1.78,3.4zM317.72,212.7h3.56l-1.78,3.4zM317.72,211.23h3.56l-1.78,3.4zM317.72,209.77h3.56l-1.78,3.4zM317.72,208.3h3.56l-1.78,3.4zM317.72,206.83h3.56l-1.78,3.4zM317.72,205.37h3.56l-1.78,3.4zM317.72,203.9h3.56l-1.78,3.4zM317.72,202.43h3.56l-1.78,3.4zM317.72,200.97h3.56l-1.78,3.4zM317.72,199.5h3.56l-1.78,3.4zM317.72,198.03h3.56l-1.78,3.4zM317.72,196.57h3.56l-1.78,3.4zM317.72,195.1h3.56l-1.78,3.4zM317.72,193.63h3.56l-1.78,3.4zM317.72,192.17h3.56l-1.78,3.4zM317.72,190.7h3.56l-1.78,3.4zM317.72,189.23h3.56l-1.78,3.4zM317.72,187.77h3.56l-1.78,3.4zM317.72,186.3h3.56l-1.78,3.4zM329.22,266.97h3.56l-1.78,3.4zM329.22,265.5h3.56l-1.78,3.4zM329.22,264.03h3.56l-1.78,3.4zM329.22,262.57h3.56l-1.78,3.4zM329.22,261.1h3.56l-1.78,3.4zM329.22,259.63h3.56l-1.78,3.4zM329.22,258.17h3.56l-1.78,3.4zM329.22,256.7h3.56l-1.78,3.4zM329.22,255.23h3.56l-1.78,3.4zM329.22,253.77h3.56l-1.78,3.4zM329.22,252.3h3.56l-1.78,3.4zM329.22,250.83h3.56l-1.78,3.4zM329.22,249.37h3.56l-1.78,3.4zM329.22,247.9h3.56l-1.78,3.4zM329.22,246.43h3.56l-1.78,3.4zM329.22,244.97h3.56l-1.78,3.4zM329.22,243.5h3.56l-1.78,3.4zM329.22,242.03h3.56l-1.78,3.4zM329.22,240.57h3.56l-1.78,3.4zM329.22,239.1h3.56l-1.78,3.4zM329.22,237.63h3.56l-1.78,3.4zM329.22,236.17h3.56l-1.78,3.4zM329.22,234.7h3.56l-1.78,3.4zM329.22,233.23h3.56l-1.78,3.4zM329.22,231.77h3.56l-1.78,3.4zM329.22,230.3h3.56l-1.78,3.4zM329.22,228.83h3.56l-1.78,3.4zM329.22,227.37h3.56l-1.78,3.4zM329.22,225.9h3.56l-1.78,3.4zM329.22,224.43h3.56l-1.78,3.4zM329.22,222.97h3.56l-1.78,3.4zM329.22,221.5h3.56l-1.78,3.4zM329.22,220.03h3.56l-1.78,3.4zM329.22,218.57h3.56l-1.78,3.4zM329.22,217.1h3.56l-1.78,3.4zM329.22,215.63h3.56l-1.78,3.4zM329.22,214.17h3.56l-1.78,3.4zM329.22,212.7h3.56l-1.78,3.4zM329.22,211.23h3.56l-1.78,3.4zM329.22,209.77h3.56l-1.78,3.4zM329.22,208.3h3.56l-1.78,3.4zM329.22,206.83h3.56l-1.78,3.4zM329.22,205.37h3.56l-1.78,3.4zM329.22,203.9h3.56l-1.78,3.4zM329.22,202.43h3.56l-1.78,3.4zM329.22,200.97h3.56l-1.78,3.4zM329.22,199.5h3.56l-1.78,3.4zM329.22,198.03h3.56l-1.78,3.4zM329.22,196.57h3.56l-1.78,3.4zM340.72,274.3h3.56l-1.78,3.4zM340.72,272.83h3.56l-1.78,3.4zM340.72,271.37h3.56l-1.78,3.4zM340.72,269.9h3.56l-1.78,3.4zM340.72,268.43h3.56l-1.78,3.4zM340.72,266.97h3.56l-1.78,3.4zM340.72,265.5h3.56l-1.78,3.4zM340.72,264.03h3.56l-1.78,3.4zM340.72,262.57h3.56l-1.78,3.4zM340.72,261.1h3.56l-1.78,3.4zM340.72,259.63h3.56l-1.78,3.4zM340.72,258.17h3.56l-1.78,3.4zM340.72,256.7h3.56l-1.78,3.4zM340.72,255.23h3.56l-1.78,3.4zM340.72,253.77h3.56l-1.78,3.4zM340.72,252.3h3.56l-1.78,3.4zM340.72,250.83h3.56l-1.78,3.4zM340.72,249.37h3.56l-1.78,3.4zM340.72,247.9h3.56l-1.78,3.4zM340.72,246.43h3.56l-1.78,3.4zM340.72,244.97h3.56l-1.78,3.4zM340.72,243.5h3.56l-1.78,3.4zM340.72,242.03h3.56l-1.78,3.4zM340.72,240.57h3.56l-1.78,3.4zM340.72,239.1h3.56l-1.78,3.4zM340.72,237.63h3.56l-1.78,3.4zM340.72,236.17h3.56l-1.78,3.4zM340.72,234.7h3.56l-1.78,3.4zM340.72,233.23h3.56l-1.78,3.4zM340.72,231.77h3.56l-1.78,3.4zM340.72,230.3h3.56l-1.78,3.4zM340.72,228.83h3.56l-1.78,3.4zM340.72,227.37h3.56l-1.78,3.4zM340.72,225.9h3.56l-1.78,3.4zM340.72,224.43h3.56l-1.78,3.4zM340.72,222.97h3.56l-1.78,3.4zM340.72,221.5h3.56l-1.78,3.4zM340.72,220.03h3.56l-1.78,3.4zM340.72,218.57h3.56l-1.78,3.4zM340.72,217.1h3.56l-1.78,3.4zM340.72,215.63h3.56l-1.78,3.4zM340.72,214.17h3.56l-1.78,3.4zM340.72,212.7h3.56l-1.78,3.4zM340.72,211.23h3.56l-1.78,3.4zM340.72,209.77h3.56l-1.78,3.4zM340.72,208.3h3.56l-1.78,3.4zM340.72,206.83h3.56l-1.78,3.4zM340.72,205.37h3.56l-1.78,3.4zM340.72,203.9h3.56l-1.78,3.4zM352.22,281.63h3.56l-1.78,3.4zM352.22,280.17h3.56l-1.78,3.4zM352.22,278.7h3.56l-1.78,3.4zM352.22,277.23h3.56l-1.78,3.4zM352.22,275.77h3.56l-1.78,3.4zM352.22,274.3h3.56l-1.78,3.4zM352.22,272.83h3.56l-1.78,3.4zM352.22,271.37h3.56l-1.78,3.4zM352.22,269.9h3.56l-1.78,3.4zM352.22,268.43h3.56l-1.78,3.4zM352.22,266.97h3.56l-1.78,3.4zM352.22,265.5h3.56l-1.78,3.4zM352.22,264.03h3.56l-1.78,3.4zM352.22,262.57h3.56l-1.78,3.4zM352.22,261.1h3.56l-1.78,3.4zM352.22,259.63h3.56l-1.78,3.4zM352.22,258.17h3.56l-1.78,3.4zM352.22,256.7h3.56l-1.78,3.4zM352.22,255.23h3.56l-1.78,3.4zM352.22,253.77h3.56l-1.78,3.4zM352.22,252.3h3.56l-1.78,3.4zM352.22,250.83h3.56l-1.78,3.4zM352.22,249.37h3.56l-1.78,3.4zM352.22,247.9h3.56l-1.78,3.4zM352.22,246.43h3.56l-1.78,3.4zM352.22,244.97h3.56l-1.78,3.4zM352.22,243.5h3.56l-1.78,3.4zM352.22,242.03h3.56l-1.78,3.4zM352.22,240.57h3.56l-1.78,3.4zM352.22,239.1h3.56l-1.78,3.4zM352.22,237.63h3.56l-1.78,3.4zM352.22,236.17h3.56l-1.78,3.4zM352.22,234.7h3.56l-1.78,3.4zM352.22,233.23h3.56l-1.78,3.4zM352.22,231.77h3.56l-1.78,3.4zM352.22,230.3h3.56l-1.78,3.4zM352.22,228.83h3.56l-1.78,3.4zM352.22,227.37h3.56l-1.78,3.4zM352.22,225.9h3.56l-1.78,3.4zM352.22,224.43h3.56l-1.78,3.4zM352.22,222.97h3.56l-1.78,3.4zM352.22,221.5h3.56l-1.78,3.4zM352.22,220.03h3.56l-1.78,3.4zM352.22,218.57h3.56l-1.78,3.4zM352.22,217.1h3.56l-1.78,3.4zM352.22,215.63h3.56l-1.78,3.4zM352.22,214.17h3.56l-1.78,3.4zM352.22,212.7h3.56l-1.78,3.4zM352.22,211.23h3.56l-1.78,3.4zM363.72,287.5h3.56l-1.78,3.4zM363.72,286.03h3.56l-1.78,3.4zM363.72,284.57h3.56l-1.78,3.4zM363.72,283.1h3.56l-1.78,3.4zM363.72,281.63h3.56l-1.78,3.4zM363.72,280.17h3.56l-1.78,3.4zM363.72,278.7h3.56l-1.78,3.4zM363.72,277.23h3.56l-1.78,3.4zM363.72,275.77h3.56l-1.78,3.4zM363.72,274.3h3.56l-1.78,3.4zM363.72,272.83h3.56l-1.78,3.4zM363.72,271.37h3.56l-1.78,3.4zM363.72,269.9h3.56l-1.78,3.4zM363.72,268.43h3.56l-1.78,3.4zM363.72,266.97h3.56l-1.78,3.4zM363.72,265.5h3.56l-1.78,3.4zM363.72,264.03h3.56l-1.78,3.4zM363.72,262.57h3.56l-1.78,3.4zM363.72,261.1h3.56l-1.78,3.4zM363.72,259.63h3.56l-1.78,3.4zM363.72,258.17h3.56l-1.78,3.4zM363.72,256.7h3.56l-1.78,3.4zM363.72,255.23h3.56l-1.78,3.4zM363.72,253.77h3.56l-1.78,3.4zM363.72,252.3h3.56l-1.78,3.4zM363.72,250.83h3.56l-1.78,3.4zM363.72,249.37h3.56l-1.78,3.4zM363.72,247.9h3.56l-1.78,3.4zM363.72,246.43h3.56l-1.78,3.4zM363.72,244.97h3.56l-1.78,3.4zM363.72,243.5h3.56l-1.78,3.4zM363.72,242.03h3.56l-1.78,3.4zM363.72,240.57h3.56l-1.78,3.4zM363.72,239.1h3.56l-1.78,3.4zM363.72,237.63h3.56l-1.78,3.4zM363.72,236.17h3.56l-1.78,3.4zM363.72,234.7h3.56l-1.78,3.4zM363.72,233.23h3.56l-1.78,3.4zM363.72,231.77h3.56l-1.78,3.4zM363.72,230.3h3.56l-1.78,3.4zM363.72,228.83h3.56l-1.78,3.4zM363.72,227.37h3.56l-1.78,3.4zM363.72,225.9h3.56l-1.78,3.4zM363.72,224.43h3.56l-1.78,3.4zM363.72,222.97h3.56l-1.78,3.4zM363.72,221.5h3.56l-1.78,3.4zM363.72,220.03h3.56l-1.78,3.4zM363.72,218.57h3.56l-1.78,3.4zM363.72,217.1h3.56l-1.78,3.4zM375.22,293.37h3.56l-1.78,3.4zM375.22,291.9h3.56l-1.78,3.4zM375.22,290.43h3.56l-1.78,3.4zM375.22,288.97h3.56l-1.78,3.4zM375.22,287.5h3.56l-1.78,3.4zM375.22,286.03h3.56l-1.78,3.4zM375.22,284.57h3.56l-1.78,3.4zM375.22,283.1h3.56l-1.78,3.4zM375.22,281.63h3.56l-1.78,3.4zM375.22,280.17h3.56l-1.78,3.4zM375.22,278.7h3.56l-1.78,3.4zM375.22,277.23h3.56l-1.78,3.4zM375.22,275.77h3.56l-1.78,3.4zM375.22,274.3h3.56l-1.78,3.4zM375.22,272.83h3.56l-1.78,3.4zM375.22,271.37h3.56l-1.78,3.4zM375.22,269.9h3.56l-1.78,3.4zM375.22,268.43h3.56l-1.78,3.4zM375.22,266.97h3.56l-1.78,3.4zM375.22,265.5h3.56l-1.78,3.4zM375.22,264.03h3.56l-1.78,3.4zM375.22,262.57h3.56l-1.78,3.4zM375.22,261.1h3.56l-1.78,3.4zM375.22,259.63h3.56l-1.78,3.4zM375.22,258.17h3.56l-1.78,3.4zM375.22,256.7h3.56l-1.78,3.4zM375.22,255.23h3.56l-1.78,3.4zM375.22,253.77h3.56l-1.78,3.4zM375.22,252.3h3.56l-1.78,3.4zM375.22,250.83h3.56l-1.78,3.4zM375.22,249.37h3.56l-1.78,3.4zM375.22,247.9h3.56l-1.78,3.4zM375.22,246.43h3.56l-1.78,3.4zM375.22,244.97h3.56l-1.78,3.4zM375.22,243.5h3.56l-1.78,3.4zM375.22,242.03h3.56l-1.78,3.4zM375.22,240.57h3.56l-1.78,3.4zM375.22,239.1h3.56l-1.78,3.4zM375.22,237.63h3.56l-1.78,3.4zM375.22,236.17h3.56l-1.78,3.4zM375.22,234.7h3.56l-1.78,3.4zM375.22,233.23h3.56l-1.78,3.4zM375.22,231.77h3.56l-1.78,3.4zM375.22,230.3h3.56l-1.78,3.4zM375.22,228.83h3.56l-1.78,3.4zM375.22,227.37h3.56l-1.78,3.4zM375.22,225.9h3.56l-1.78,3.4zM375.22,224.43h3.56l-1.78,3.4zM375.22,222.97h3.56l-1.78,3.4zM386.72,297.77h3.56l-1.78,3.4zM386.72,296.3h3.56l-1.78,3.4zM386.72,294.83h3.56l-1.78,3.4zM386.72,293.37h3.56l-1.78,3.4zM386.72,291.9h3.56l-1.78,3.4zM386.72,290.43h3.56l-1.78,3.4zM386.72,288.97h3.56l-1.78,3.4zM386.72,287.5h3.56l-1.78,3.4zM386.72,286.03h3.56l-1.78,3.4zM386.72,284.57h3.56l-1.78,3.4zM386.72,283.1h3.56l-1.78,3.4zM386.72,281.63h3.56l-1.78,3.4zM386.72,280.17h3.56l-1.78,3.4zM386.72,278.7h3.56l-1.78,3.4zM386.72,277.23h3.56l-1.78,3.4zM386.72,275.77h3.56l-1.78,3.4zM386.72,274.3h3.56l-1.78,3.4zM386.72,272.83h3.56l-1.78,3.4zM386.72,271.37h3.56l-1.78,3.4zM386.72,269.9h3.56l-1.78,3.4zM386.72,268.43h3.56l-1.78,3.4zM386.72,266.97h3.56l-1.78,3.4zM386.72,265.5h3.56l-1.78,3.4zM386.72,264.03h3.56l-1.78,3.4zM386.72,262.57h3.56l-1.78,3.4zM386.72,261.1h3.56l-1.78,3.4zM386.72,259.63h3.56l-1.78,3.4zM386.72,258.17h3.56l-1.78,3.4zM386.72,256.7h3.56l-1.78,3.4zM386.72,255.23h3.56l-1.78,3.4zM386.72,253.77h3.56l-1.78,3.4zM386.72,252.3h3.56l-1.78,3.4zM386.72,250.83h3.56l-1.78,3.4zM386.72,249.37h3.56l-1.78,3.4zM386.72,247.9h3.56l-1.78,3.4zM386.72,246.43h3.56l-1.78,3.4zM386.72,244.97h3.56l-1.78,3.4zM386.72,243.5h3.56l-1.78,3.4zM386.72,242.03h3.56l-1.78,3.4zM386.72,240.57h3.56l-1.78,3.4zM386.72,239.1h3.56l-1.78,3.4zM386.72,237.63h3.56l-1.78,3.4zM386.72,236.17h3.56l-1.78,3.4zM386.72,234.7h3.56l-1.78,3.4zM386.72,233.23h3.56l-1.78,3.4zM386.72,231.77h3.56l-1.78,3.4zM386.72,230.3h3.56l-1.78,3.4zM386.72,228.83h3.56l-1.78,3.4zM386.72,227.37h3.56l-1.78,3.4zM398.22,300.7h3.56l-1.78,3.4zM398.22,299.23h3.56l-1.78,3.4zM398.22,297.77h3.56l-1.78,3.4zM398.22,296.3h3.56l-1.78,3.4zM398.22,294.83h3.56l-1.78,3.4zM398.22,293.37h3.56l-1.78,3.4zM398.22,291.9h3.56l-1.78,3.4zM398.22,290.43h3.56l-1.78,3.4zM398.22,288.97h3.56l-1.78,3.4zM398.22,287.5h3.56l-1.78,3.4zM398.22,286.03h3.56l-1.78,3.4zM398.22,284.57h3.56l-1.78,3.4zM398.22,283.1h3.56l-1.78,3.4zM398.22,281.63h3.56l-1.78,3.4zM398.22,280.17h3.56l-1.78,3.4zM398.22,278.7h3.56l-1.78,3.4zM398.22,277.23h3.56l-1.78,3.4zM398.22,275.77h3.56l-1.78,3.4zM398.22,274.3h3.56l-1.78,3.4zM398.22,272.83h3.56l-1.78,3.4zM398.22,271.37h3.56l-1.78,3.4zM398.22,269.9h3.56l-1.78,3.4zM398.22,268.43h3.56l-1.78,3.4zM398.22,266.97h3.56l-1.78,3.4zM398.22,265.5h3.56l-1.78,3.4zM398.22,264.03h3.56l-1.78,3.4zM398.22,262.57h3.56l-1.78,3.4zM398.22,261.1h3.56l-1.78,3.4zM398.22,259.63h3.56l-1.78,3.4zM398.22,258.17h3.56l-1.78,3.4zM398.22,256.7h3.56l-1.78,3.4zM398.22,255.23h3.56l-1.78,3.4zM398.22,253.77h3.56l-1.78,3.4zM398.22,252.3h3.56l-1.78,3.4zM398.22,250.83h3.56l-1.78,3.4zM398.22,249.37h3.56l-1.78,3.4zM398.22,247.9h3.56l-1.78,3.4zM398.22,246.43h3.56l-1.78,3.4zM398.22,244.97h3.56l-1.78,3.4zM398.22,243.5h3.56l-1.78,3.4zM398.22,242.03h3.56l-1.78,3.4zM398.22,240.57h3.56l-1.78,3.4zM398.22,239.1h3.56l-1.78,3.4zM398.22,237.63h3.56l-1.78,3.4zM398.22,236.17h3.56l-1.78,3.4zM398.22,234.7h3.56l-1.78,3.4zM398.22,233.23h3.56l-1.78,3.4zM398.22,231.77h3.56l-1.78,3.4zM398.22,230.3h3.56l-1.78,3.4zM409.72,302.17h3.56l-1.78,3.4zM409.72,300.7h3.56l-1.78,3.4zM409.72,299.23h3.56l-1.78,3.4zM409.72,297.77h3.56l-1.78,3.4zM409.72,296.3h3.56l-1.78,3.4zM409.72,294.83h3.56l-1.78,3.4zM409.72,293.37h3.56l-1.78,3.4zM409.72,291.9h3.56l-1.78,3.4zM409.72,290.43h3.56l-1.78,3.4zM409.72,288.97h3.56l-1.78,3.4zM409.72,287.5h3.56l-1.78,3.4zM409.72,286.03h3.56l-1.78,3.4zM409.72,284.57h3.56l-1.78,3.4zM409.72,283.1h3.56l-1.78,3.4zM409.72,281.63h3.56l-1.78,3.4zM409.72,280.17h3.56l-1.78,3.4zM409.72,278.7h3.56l-1.78,3.4zM409.72,277.23h3.56l-1.78,3.4zM409.72,275.77h3.56l-1.78,3.4zM409.72,274.3h3.56l-1.78,3.4zM409.72,272.83h3.56l-1.78,3.4zM409.72,271.37h3.56l-1.78,3.4zM409.72,269.9h3.56l-1.78,3.4zM409.72,268.43h3.56l-1.78,3.4zM409.72,266.97h3.56l-1.78,3.4zM409.72,265.5h3.56l-1.78,3.4zM409.72,264.03h3.56l-1.78,3.4zM409.72,262.57h3.56l-1.78,3.4zM409.72,261.1h3.56l-1.78,3.4zM409.72,259.63h3.56l-1.78,3.4zM409.72,258.17h3.56l-1.78,3.4zM409.72,256.7h3.56l-1.78,3.4zM409.72,255.23h3.56l-1.78,3.4zM409.72,253.77h3.56l-1.78,3.4zM409.72,252.3h3.56l-1.78,3.4zM409.72,250.83h3.56l-1.78,3.4zM409.72,249.37h3.56l-1.78,3.4zM409.72,247.9h3.56l-1.78,3.4zM409.72,246.43h3.56l-1.78,3.4zM409.72,244.97h3.56l-1.78,3.4zM409.72,243.5h3.56l-1.78,3.4zM409.72,242.03h3.56l-1.78,3.4zM409.72,240.57h3.56l-1.78,3.4zM409.72,239.1h3.56l-1.78,3.4zM409.72,237.63h3.56l-1.78,3.4zM409.72,236.17h3.56l-1.78,3.4zM409.72,234.7h3.56l-1.78,3.4zM409.72,233.23h3.56l-1.78,3.4zM409.72,231.77h3.56l-1.78,3.4zM421.22,303.63h3.56l-1.78,3.4zM421.22,302.17h3.56l-1.78,3.4zM421.22,300.7h3.56l-1.78,3.4zM421.22,299.23h3.56l-1.78,3.4zM421.22,297.77h3.56l-1.78,3.4zM421.22,296.3h3.56l-1.78,3.4zM421.22,294.83h3.56l-1.78,3.4zM421.22,293.37h3.56l-1.78,3.4zM421.22,291.9h3.56l-1.78,3.4zM421.22,290.43h3.56l-1.78,3.4zM421.22,288.97h3.56l-1.78,3.4zM421.22,287.5h3.56l-1.78,3.4zM421.22,286.03h3.56l-1.78,3.4zM421.22,284.57h3.56l-1.78,3.4zM421.22,283.1h3.56l-1.78,3.4zM421.22,281.63h3.56l-1.78,3.4zM421.22,280.17h3.56l-1.78,3.4zM421.22,278.7h3.56l-1.78,3.4zM421.22,277.23h3.56l-1.78,3.4zM421.22,275.77h3.56l-1.78,3.4zM421.22,274.3h3.56l-1.78,3.4zM421.22,272.83h3.56l-1.78,3.4zM421.22,271.37h3.56l-1.78,3.4zM421.22,269.9h3.56l-1.78,3.4zM421.22,268.43h3.56l-1.78,3.4zM421.22,266.97h3.56l-1.78,3.4zM421.22,265.5h3.56l-1.78,3.4zM421.22,264.03h3.56l-1.78,3.4zM421.22,262.57h3.56l-1.78,3.4zM421.22,261.1h3.56l-1.78,3.4zM421.22,259.63h3.56l-1.78,3.4zM421.22,258.17h3.56l-1.78,3.4zM421.22,256.7h3.56l-1.78,3.4zM421.22,255.23h3.56l-1.78,3.4zM421.22,253.77h3.56l-1.78,3.4zM421.22,252.3h3.56l-1.78,3.4zM421.22,250.83h3.56l-1.78,3.4zM421.22,249.37h3.56l-1.78,3.4zM421.22,247.9h3.56l-1.78,3.4zM421.22,246.43h3.56l-1.78,3.4zM421.22,244.97h3.56l-1.78,3.4zM421.22,243.5h3.56l-1.78,3.4zM421.22,242.03h3.56l-1.78,3.4zM421.22,240.57h3.56l-1.78,3.4zM421.22,239.1h3.56l-1.78,3.4zM421.22,237.63h3.56l-1.78,3.4zM421.22,236.17h3.56l-1.78,3.4zM421.22,234.7h3.56l-1.78,3.4zM421.22,233.23h3.56l-1.78,3.4zM432.72,303.63h3.56l-1.78,3.4zM432.72,302.17h3.56l-1.78,3.4zM432.72,300.7h3.56l-1.78,3.4zM432.72,299.23h3.56l-1.78,3.4zM432.72,297.77h3.56l-1.78,3.4zM432.72,296.3h3.56l-1.78,3.4zM432.72,294.83h3.56l-1.78,3.4zM432.72,293.37h3.56l-1.78,3.4zM432.72,291.9h3.56l-1.78,3.4zM432.72,290.43h3.56l-1.78,3.4zM432.72,288.97h3.56l-1.78,3.4zM432.72,287.5h3.56l-1.78,3.4zM432.72,286.03h3.56l-1.78,3.4zM432.72,284.57h3.56l-1.78,3.4zM432.72,283.1h3.56l-1.78,3.4zM432.72,281.63h3.56l-1.78,3.4zM432.72,280.17h3.56l-1.78,3.4zM432.72,278.7h3.56l-1.78,3.4zM432.72,277.23h3.56l-1.78,3.4zM432.72,275.77h3.56l-1.78,3.4zM432.72,274.3h3.56l-1.78,3.4zM432.72,272.83h3.56l-1.78,3.4zM432.72,271.37h3.56l-1.78,3.4zM432.72,269.9h3.56l-1.78,3.4zM432.72,268.43h3.56l-1.78,3.4zM432.72,266.97h3.56l-1.78,3.4zM432.72,265.5h3.56l-1.78,3.4zM432.72,264.03h3.56l-1.78,3.4zM432.72,262.57h3.56l-1.78,3.4zM432.72,261.1h3.56l-1.78,3.4zM432.72,259.63h3.56l-1.78,3.4zM432.72,258.17h3.56l-1.78,3.4zM432.72,256.7h3.56l-1.78,3.4zM432.72,255.23h3.56l-1.78,3.4zM432.72,253.77h3.56l-1.78,3.4zM432.72,252.3h3.56l-1.78,3.4zM432.72,250.83h3.56l-1.78,3.4zM432.72,249.37h3.56l-1.78,3.4zM432.72,247.9h3.56l-1.78,3.4zM432.72,246.43h3.56l-1.78,3.4zM432.72,244.97h3.56l-1.78,3.4zM432.72,243.5h3.56l-1.78,3.4zM432.72,242.03h3.56l-1.78,3.4zM432.72,240.57h3.56l-1.78,3.4zM432.72,239.1h3.56l-1.78,3.4zM432.72,237.63h3.56l-1.78,3.4zM432.72,236.17h3.56l-1.78,3.4zM432.72,234.7h3.56l-1.78,3.4zM432.72,233.23h3.56l-1.78,3.4zM444.22,302.17h3.56l-1.78,3.4zM444.22,300.7h3.56l-1.78,3.4zM444.22,299.23h3.56l-1.78,3.4zM444.22,297.77h3.56l-1.78,3.4zM444.22,296.3h3.56l-1.78,3.4zM444.22,294.83h3.56l-1.78,3.4zM444.22,293.37h3.56l-1.78,3.4zM444.22,291.9h3.56l-1.78,3.4zM444.22,290.43h3.56l-1.78,3.4zM444.22,288.97h3.56l-1.78,3.4zM444.22,287.5h3.56l-1.78,3.4zM444.22,286.03h3.56l-1.78,3.4zM444.22,284.57h3.56l-1.78,3.4zM444.22,283.1h3.56l-1.78,3.4zM444.22,281.63h3.56l-1.78,3.4zM444.22,280.17h3.56l-1.78,3.4zM444.22,278.7h3.56l-1.78,3.4zM444.22,277.23h3.56l-1.78,3.4zM444.22,275.77h3.56l-1.78,3.4zM444.22,274.3h3.56l-1.78,3.4zM444.22,272.83h3.56l-1.78,3.4zM444.22,271.37h3.56l-1.78,3.4zM444.22,269.9h3.56l-1.78,3.4zM444.22,268.43h3.56l-1.78,3.4zM444.22,266.97h3.56l-1.78,3.4zM444.22,265.5h3.56l-1.78,3.4zM444.22,264.03h3.56l-1.78,3.4zM444.22,262.57h3.56l-1.78,3.4zM444.22,261.1h3.56l-1.78,3.4zM444.22,259.63h3.56l-1.78,3.4zM444.22,258.17h3.56l-1.78,3.4zM444.22,256.7h3.56l-1.78,3.4zM444.22,255.23h3.56l-1.78,3.4zM444.22,253.77h3.56l-1.78,3.4zM444.22,252.3h3.56l-1.78,3.4zM444.22,250.83h3.56l-1.78,3.4zM444.22,249.37h3.56l-1.78,3.4zM444.22,247.9h3.56l-1.78,3.4zM444.22,246.43h3.56l-1.78,3.4zM444.22,244.97h3.56l-1.78,3.4zM444.22,243.5h3.56l-1.78,3.4zM444.22,242.03h3.56l-1.78,3.4zM444.22,240.57h3.56l-1.78,3.4zM444.22,239.1h3.56l-1.78,3.4zM444.22,237.63h3.56l-1.78,3.4zM444.22,236.17h3.56l-1.78,3.4zM444.22,234.7h3.56l-1.78,3.4zM444.22,233.23h3.56l-1.78,3.4zM444.22,231.77h3.56l-1.78,3.4zM455.72,300.7h3.56l-1.78,3.4zM455.72,299.23h3.56l-1.78,3.4zM455.72,297.77h3.56l-1.78,3.4zM455.72,296.3h3.56l-1.78,3.4zM455.72,294.83h3.56l-1.78,3.4zM455.72,293.37h3.56l-1.78,3.4zM455.72,291.9h3.56l-1.78,3.4zM455.72,290.43h3.56l-1.78,3.4zM455.72,288.97h3.56l-1.78,3.4zM455.72,287.5h3.56l-1.78,3.4zM455.72,286.03h3.56l-1.78,3.4zM455.72,284.57h3.56l-1.78,3.4zM455.72,283.1h3.56l-1.78,3.4zM455.72,281.63h3.56l-1.78,3.4zM455.72,280.17h3.56l-1.78,3.4zM455.72,278.7h3.56l-1.78,3.4zM455.72,277.23h3.56l-1.78,3.4zM455.72,275.77h3.56l-1.78,3.4zM455.72,274.3h3.56l-1.78,3.4zM455.72,272.83h3.56l-1.78,3.4zM455.72,271.37h3.56l-1.78,3.4zM455.72,269.9h3.56l-1.78,3.4zM455.72,268.43h3.56l-1.78,3.4zM455.72,266.97h3.56l-1.78,3.4zM455.72,265.5h3.56l-1.78,3.4zM455.72,264.03h3.56l-1.78,3.4zM455.72,262.57h3.56l-1.78,3.4zM455.72,261.1h3.56l-1.78,3.4zM455.72,259.63h3.56l-1.78,3.4zM455.72,258.17h3.56l-1.78,3.4zM455.72,256.7h3.56l-1.78,3.4zM455.72,255.23h3.56l-1.78,3.4zM455.72,253.77h3.56l-1.78,3.4zM455.72,252.3h3.56l-1.78,3.4zM455.72,250.83h3.56l-1.78,3.4zM455.72,249.37h3.56l-1.78,3.4zM455.72,247.9h3.56l-1.78,3.4zM455.72,246.43h3.56l-1.78,3.4zM455.72,244.97h3.56l-1.78,3.4zM455.72,243.5h3.56l-1.78,3.4zM455.72,242.03h3.56l-1.78,3.4zM455.72,240.57h3.56l-1.78,3.4zM455.72,239.1h3.56l-1.78,3.4zM455.72,237.63h3.56l-1.78,3.4zM455.72,236.17h3.56l-1.78,3.4zM455.72,234.7h3.56l-1.78,3.4zM455.72,233.23h3.56l-1.78,3.4zM455.72,231.77h3.56l-1.78,3.4zM455.72,230.3h3.56l-1.78,3.4zM467.22,297.77h3.56l-1.78,3.4zM467.22,296.3h3.56l-1.78,3.4zM467.22,294.83h3.56l-1.78,3.4zM467.22,293.37h3.56l-1.78,3.4zM467.22,291.9h3.56l-1.78,3.4zM467.22,290.43h3.56l-1.78,3.4zM467.22,288.97h3.56l-1.78,3.4zM467.22,287.5h3.56l-1.78,3.4zM467.22,286.03h3.56l-1.78,3.4zM467.22,284.57h3.56l-1.78,3.4zM467.22,283.1h3.56l-1.78,3.4zM467.22,281.63h3.56l-1.78,3.4zM467.22,280.17h3.56l-1.78,3.4zM467.22,278.7h3.56l-1.78,3.4zM467.22,277.23h3.56l-1.78,3.4zM467.22,275.77h3.56l-1.78,3.4zM467.22,274.3h3.56l-1.78,3.4zM467.22,272.83h3.56l-1.78,3.4zM467.22,271.37h3.56l-1.78,3.4zM467.22,269.9h3.56l-1.78,3.4zM467.22,268.43h3.56l-1.78,3.4zM467.22,266.97h3.56l-1.78,3.4zM467.22,265.5h3.56l-1.78,3.4zM467.22,264.03h3.56l-1.78,3.4zM467.22,262.57h3.56l-1.78,3.4zM467.22,261.1h3.56l-1.78,3.4zM467.22,259.63h3.56l-1.78,3.4zM467.22,258.17h3.56l-1.78,3.4zM467.22,256.7h3.56l-1.78,3.4zM467.22,255.23h3.56l-1.78,3.4zM467.22,253.77h3.56l-1.78,3.4zM467.22,252.3h3.56l-1.78,3.4zM467.22,250.83h3.56l-1.78,3.4zM467.22,249.37h3.56l-1.78,3.4zM467.22,247.9h3.56l-1.78,3.4zM467.22,246.43h3.56l-1.78,3.4zM467.22,244.97h3.56l-1.78,3.4zM467.22,243.5h3.56l-1.78,3.4zM467.22,242.03h3.56l-1.78,3.4zM467.22,240.57h3.56l-1.78,3.4zM467.22,239.1h3.56l-1.78,3.4zM467.22,237.63h3.56l-1.78,3.4zM467.22,236.17h3.56l-1.78,3.4zM467.22,234.7h3.56l-1.78,3.4zM467.22,233.23h3.56l-1.78,3.4zM467.22,231.77h3.56l-1.78,3.4zM467.22,230.3h3.56l-1.78,3.4zM467.22,228.83h3.56l-1.78,3.4zM467.22,227.37h3.56l-1.78,3.4zM478.72,293.37h3.56l-1.78,3.4zM478.72,291.9h3.56l-1.78,3.4zM478.72,290.43h3.56l-1.78,3.4zM478.72,288.97h3.56l-1.78,3.4zM478.72,287.5h3.56l-1.78,3.4zM478.72,286.03h3.56l-1.78,3.4zM478.72,284.57h3.56l-1.78,3.4zM478.72,283.1h3.56l-1.78,3.4zM478.72,281.63h3.56l-1.78,3.4zM478.72,280.17h3.56l-1.78,3.4zM478.72,278.7h3.56l-1.78,3.4zM478.72,277.23h3.56l-1.78,3.4zM478.72,275.77h3.56l-1.78,3.4zM478.72,274.3h3.56l-1.78,3.4zM478.72,272.83h3.56l-1.78,3.4zM478.72,271.37h3.56l-1.78,3.4zM478.72,269.9h3.56l-1.78,3.4zM478.72,268.43h3.56l-1.78,3.4zM478.72,266.97h3.56l-1.78,3.4zM478.72,265.5h3.56l-1.78,3.4zM478.72,264.03h3.56l-1.78,3.4zM478.72,262.57h3.56l-1.78,3.4zM478.72,261.1h3.56l-1.78,3.4zM478.72,259.63h3.56l-1.78,3.4zM478.72,258.17h3.56l-1.78,3.4zM478.72,256.7h3.56l-1.78,3.4zM478.72,255.23h3.56l-1.78,3.4zM478.72,253.77h3.56l-1.78,3.4zM478.72,252.3h3.56l-1.78,3.4zM478.72,250.83h3.56l-1.78,3.4zM478.72,249.37h3.56l-1.78,3.4zM478.72,247.9h3.56l-1.78,3.4zM478.72,246.43h3.56l-1.78,3.4zM478.72,244.97h3.56l-1.78,3.4zM478.72,243.5h3.56l-1.78,3.4zM478.72,242.03h3.56l-1.78,3.4zM478.72,240.57h3.56l-1.78,3.4zM478.72,239.1h3.56l-1.78,3.4zM478.72,237.63h3.56l-1.78,3.4zM478.72,236.17h3.56l-1.78,3.4zM478.72,234.7h3.56l-1.78,3.4zM478.72,233.23h3.56l-1.78,3.4zM478.72,231.77h3.56l-1.78,3.4zM478.72,230.3h3.56l-1.78,3.4zM478.72,228.83h3.56l-1.78,3.4zM478.72,227.37h3.56l-1.78,3.4zM478.72,225.9h3.56l-1.78,3.4zM478.72,224.43h3.56l-1.78,3.4zM478.72,222.97h3.56l-1.78,3.4zM490.22,287.5h3.56l-1.78,3.4zM490.22,286.03h3.56l-1.78,3.4zM490.22,284.57h3.56l-1.78,3.4zM490.22,283.1h3.56l-1.78,3.4zM490.22,281.63h3.56l-1.78,3.4zM490.22,280.17h3.56l-1.78,3.4zM490.22,278.7h3.56l-1.78,3.4zM490.22,277.23h3.56l-1.78,3.4zM490.22,275.77h3.56l-1.78,3.4zM490.22,274.3h3.56l-1.78,3.4zM490.22,272.83h3.56l-1.78,3.4zM490.22,271.37h3.56l-1.78,3.4zM490.22,269.9h3.56l-1.78,3.4zM490.22,268.43h3.56l-1.78,3.4zM490.22,266.97h3.56l-1.78,3.4zM490.22,265.5h3.56l-1.78,3.4zM490.22,264.03h3.56l-1.78,3.4zM490.22,262.57h3.56l-1.78,3.4zM490.22,261.1h3.56l-1.78,3.4zM490.22,259.63h3.56l-1.78,3.4zM490.22,258.17h3.56l-1.78,3.4zM490.22,256.7h3.56l-1.78,3.4zM490.22,255.23h3.56l-1.78,3.4zM490.22,253.77h3.56l-1.78,3.4zM490.22,252.3h3.56l-1.78,3.4zM490.22,250.83h3.56l-1.78,3.4zM490.22,249.37h3.56l-1.78,3.4zM490.22,247.9h3.56l-1.78,3.4zM490.22,246.43h3.56l-1.78,3.4zM490.22,244.97h3.56l-1.78,3.4zM490.22,243.5h3.56l-1.78,3.4zM490.22,242.03h3.56l-1.78,3.4zM490.22,240.57h3.56l-1.78,3.4zM490.22,239.1h3.56l-1.78,3.4zM490.22,237.63h3.56l-1.78,3.4zM490.22,236.17h3.56l-1.78,3.4zM490.22,234.7h3.56l-1.78,3.4zM490.22,233.23h3.56l-1.78,3.4zM490.22,231.77h3.56l-1.78,3.4zM490.22,230.3h3.56l-1.78,3.4zM490.22,228.83h3.56l-1.78,3.4zM490.22,227.37h3.56l-1.78,3.4zM490.22,225.9h3.56l-1.78,3.4zM490.22,224.43h3.56l-1.78,3.4zM490.22,222.97h3.56l-1.78,3.4zM490.22,221.5h3.56l-1.78,3.4zM490.22,220.03h3.56l-1.78,3.4zM490.22,218.57h3.56l-1.78,3.4zM490.22,217.1h3.56l-1.78,3.4zM501.72,281.63h3.56l-1.78,3.4zM501.72,280.17h3.56l-1.78,3.4zM501.72,278.7h3.56l-1.78,3.4zM501.72,277.23h3.56l-1.78,3.4zM501.72,275.77h3.56l-1.78,3.4zM501.72,274.3h3.56l-1.78,3.4zM501.72,272.83h3.56l-1.78,3.4zM501.72,271.37h3.56l-1.78,3.4zM501.72,269.9h3.56l-1.78,3.4zM501.72,268.43h3.56l-1.78,3.4zM501.72,266.97h3.56l-1.78,3.4zM501.72,265.5h3.56l-1.78,3.4zM501.72,264.03h3.56l-1.78,3.4zM501.72,262.57h3.56l-1.78,3.4zM501.72,261.1h3.56l-1.78,3.4zM501.72,259.63h3.56l-1.78,3.4zM501.72,258.17h3.56l-1.78,3.4zM501.72,256.7h3.56l-1.78,3.4zM501.72,255.23h3.56l-1.78,3.4zM501.72,253.77h3.56l-1.78,3.4zM501.72,252.3h3.56l-1.78,3.4zM501.72,250.83h3.56l-1.78,3.4zM501.72,249.37h3.56l-1.78,3.4zM501.72,247.9h3.56l-1.78,3.4zM501.72,246.43h3.56l-1.78,3.4zM501.72,244.97h3.56l-1.78,3.4zM501.72,243.5h3.56l-1.78,3.4zM501.72,242.03h3.56l-1.78,3.4zM501.72,240.57h3.56l-1.78,3.4zM501.72,239.1h3.56l-1.78,3.4zM501.72,237.63h3.56l-1.78,3.4zM501.72,236.17h3.56l-1.78,3.4zM501.72,234.7h3.56l-1.78,3.4zM501.72,233.23h3.56l-1.78,3.4zM501.72,231.77h3.56l-1.78,3.4zM501.72,230.3h3.56l-1.78,3.4zM501.72,228.83h3.56l-1.78,3.4zM501.72,227.37h3.56l-1.78,3.4zM501.72,225.9h3.56l-1.78,3.4zM501.72,224.43h3.56l-1.78,3.4zM501.72,222.97h3.56l-1.78,3.4zM501.72,221.5h3.56l-1.78,3.4zM501.72,220.03h3.56l-1.78,3.4zM501.72,218.57h3.56l-1.78,3.4zM501.72,217.1h3.56l-1.78,3.4zM501.72,215.63h3.56l-1.78,3.4zM501.72,214.17h3.56l-1.78,3.4zM501.72,212.7h3.56l-1.78,3.4zM501.72,211.23h3.56l-1.78,3.4zM513.22,274.3h3.56l-1.78,3.4zM513.22,272.83h3.56l-1.78,3.4zM513.22,271.37h3.56l-1.78,3.4zM513.22,269.9h3.56l-1.78,3.4zM513.22,268.43h3.56l-1.78,3.4zM513.22,266.97h3.56l-1.78,3.4zM513.22,265.5h3.56l-1.78,3.4zM513.22,264.03h3.56l-1.78,3.4zM513.22,262.57h3.56l-1.78,3.4zM513.22,261.1h3.56l-1.78,3.4zM513.22,259.63h3.56l-1.78,3.4zM513.22,258.17h3.56l-1.78,3.4zM513.22,256.7h3.56l-1.78,3.4zM513.22,255.23h3.56l-1.78,3.4zM513.22,253.77h3.56l-1.78,3.4zM513.22,252.3h3.56l-1.78,3.4zM513.22,250.83h3.56l-1.78,3.4zM513.22,249.37h3.56l-1.78,3.4zM513.22,247.9h3.56l-1.78,3.4zM513.22,246.43h3.56l-1.78,3.4zM513.22,244.97h3.56l-1.78,3.4zM513.22,243.5h3.56l-1.78,3.4zM513.22,242.03h3.56l-1.78,3.4zM513.22,240.57h3.56l-1.78,3.4zM513.22,239.1h3.56l-1.78,3.4zM513.22,237.63h3.56l-1.78,3.4zM513.22,236.17h3.56l-1.78,3.4zM513.22,234.7h3.56l-1.78,3.4zM513.22,233.23h3.56l-1.78,3.4zM513.22,231.77h3.56l-1.78,3.4zM513.22,230.3h3.56l-1.78,3.4zM513.22,228.83h3.56l-1.78,3.4zM513.22,227.37h3.56l-1.78,3.4zM513.22,225.9h3.56l-1.78,3.4zM513.22,224.43h3.56l-1.78,3.4zM513.22,222.97h3.56l-1.78,3.4zM513.22,221.5h3.56l-1.78,3.4zM513.22,220.03h3.56l-1.78,3.4zM513.22,218.57h3.56l-1.78,3.4zM513.22,217.1h3.56l-1.78,3.4zM513.22,215.63h3.56l-1.78,3.4zM513.22,214.17h3.56l-1.78,3.4zM513.22,212.7h3.56l-1.78,3.4zM513.22,211.23h3.56l-1.78,3.4zM513.22,209.77h3.56l-1.78,3.4zM513.22,208.3h3.56l-1.78,3.4zM513.22,206.83h3.56l-1.78,3.4zM513.22,205.37h3.56l-1.78,3.4zM513.22,203.9h3.56l-1.78,3.4zM524.72,266.97h3.56l-1.78,3.4zM524.72,265.5h3.56l-1.78,3.4zM524.72,264.03h3.56l-1.78,3.4zM524.72,262.57h3.56l-1.78,3.4zM524.72,261.1h3.56l-1.78,3.4zM524.72,259.63h3.56l-1.78,3.4zM524.72,258.17h3.56l-1.78,3.4zM524.72,256.7h3.56l-1.78,3.4zM524.72,255.23h3.56l-1.78,3.4zM524.72,253.77h3.56l-1.78,3.4zM524.72,252.3h3.56l-1.78,3.4zM524.72,250.83h3.56l-1.78,3.4zM524.72,249.37h3.56l-1.78,3.4zM524.72,247.9h3.56l-1.78,3.4zM524.72,246.43h3.56l-1.78,3.4zM524.72,244.97h3.56l-1.78,3.4zM524.72,243.5h3.56l-1.78,3.4zM524.72,242.03h3.56l-1.78,3.4zM524.72,240.57h3.56l-1.78,3.4zM524.72,239.1h3.56l-1.78,3.4zM524.72,237.63h3.56l-1.78,3.4zM524.72,236.17h3.56l-1.78,3.4zM524.72,234.7h3.56l-1.78,3.4zM524.72,233.23h3.56l-1.78,3.4zM524.72,231.77h3.56l-1.78,3.4zM524.72,230.3h3.56l-1.78,3.4zM524.72,228.83h3.56l-1.78,3.4zM524.72,227.37h3.56l-1.78,3.4zM524.72,225.9h3.56l-1.78,3.4zM524.72,224.43h3.56l-1.78,3.4zM524.72,222.97h3.56l-1.78,3.4zM524.72,221.5h3.56l-1.78,3.4zM524.72,220.03h3.56l-1.78,3.4zM524.72,218.57h3.56l-1.78,3.4zM524.72,217.1h3.56l-1.78,3.4zM524.72,215.63h3.56l-1.78,3.4zM524.72,214.17h3.56l-1.78,3.4zM524.72,212.7h3.56l-1.78,3.4zM524.72,211.23h3.56l-1.78,3.4zM524.72,209.77h3.56l-1.78,3.4zM524.72,208.3h3.56l-1.78,3.4zM524.72,206.83h3.56l-1.78,3.4zM524.72,205.37h3.56l-1.78,3.4zM524.72,203.9h3.56l-1.78,3.4zM524.72,202.43h3.56l-1.78,3.4zM524.72,200.97h3.56l-1.78,3.4zM524.72,199.5h3.56l-1.78,3.4zM524.72,198.03h3.56l-1.78,3.4zM524.72,196.57h3.56l-1.78,3.4zM536.22,256.7h3.56l-1.78,3.4zM536.22,255.23h3.56l-1.78,3.4zM536.22,253.77h3.56l-1.78,3.4zM536.22,252.3h3.56l-1.78,3.4zM536.22,250.83h3.56l-1.78,3.4zM536.22,249.37h3.56l-1.78,3.4zM536.22,247.9h3.56l-1.78,3.4zM536.22,246.43h3.56l-1.78,3.4zM536.22,244.97h3.56l-1.78,3.4zM536.22,243.5h3.56l-1.78,3.4zM536.22,242.03h3.56l-1.78,3.4zM536.22,240.57h3.56l-1.78,3.4zM536.22,239.1h3.56l-1.78,3.4zM536.22,237.63h3.56l-1.78,3.4zM536.22,236.17h3.56l-1.78,3.4zM536.22,234.7h3.56l-1.78,3.4zM536.22,233.23h3.56l-1.78,3.4zM536.22,231.77h3.56l-1.78,3.4zM536.22,230.3h3.56l-1.78,3.4zM536.22,228.83h3.56l-1.78,3.4zM536.22,227.37h3.56l-1.78,3.4zM536.22,225.9h3.56l-1.78,3.4zM536.22,224.43h3.56l-1.78,3.4zM536.22,222.97h3.56l-1.78,3.4zM536.22,221.5h3.56l-1.78,3.4zM536.22,220.03h3.56l-1.78,3.4zM536.22,218.57h3.56l-1.78,3.4zM536.22,217.1h3.56l-1.78,3.4zM536.22,215.63h3.56l-1.78,3.4zM536.22,214.17h3.56l-1.78,3.4zM536.22,212.7h3.56l-1.78,3.4zM536.22,211.23h3.56l-1.78,3.4zM536.22,209.77h3.56l-1.78,3.4zM536.22,208.3h3.56l-1.78,3.4zM536.22,206.83h3.56l-1.78,3.4zM536.22,205.37h3.56l-1.78,3.4zM536.22,203.9h3.56l-1.78,3.4zM536.22,202.43h3.56l-1.78,3.4zM536.22,200.97h3.56l-1.78,3.4zM536.22,199.5h3.56l-1.78,3.4zM536.22,198.03h3.56l-1.78,3.4zM536.22,196.57h3.56l-1.78,3.4zM536.22,195.1h3.56l-1.78,3.4zM536.22,193.63h3.56l-1.78,3.4zM536.22,192.17h3.56l-1.78,3.4zM536.22,190.7h3.56l-1.78,3.4zM536.22,189.23h3.56l-1.78,3.4zM536.22,187.77h3.56l-1.78,3.4zM536.22,186.3h3.56l-1.78,3.4zM318,186.3h3v72h-3zM329.5,196.57h3v72h-3zM341,203.9h3v72h-3zM352.5,211.23h3v72h-3zM364,217.1h3v72h-3zM375.5,222.97h3v72h-3zM387,227.37h3v72h-3zM398.5,230.3h3v72h-3zM410,231.77h3v72h-3zM421.5,233.23h3v72h-3zM433,233.23h3v72h-3zM444.5,231.77h3v72h-3zM456,230.3h3v72h-3zM467.5,227.37h3v72h-3zM479,222.97h3v72h-3zM490.5,217.1h3v72h-3zM502,211.23h3v72h-3zM513.5,203.9h3v72h-3zM525,196.57h3v72h-3zM536.5,186.3h3v72h-3zM525.1,179.25h3.6l-1.8,3z"/>
<path class="lh" d="M313,173.8H544M313,305.8H544M313.5,305.8h2.9M543.5,305.8h-2.9M313.5,291.13h2.9M543.5,291.13h-2.9M313.5,276.47h2.9M543.5,276.47h-2.9M313.5,261.8h2.9M543.5,261.8h-2.9M313.5,247.13h2.9M543.5,247.13h-2.9M313.5,232.47h2.9M543.5,232.47h-2.9M313.5,217.8h2.9M543.5,217.8h-2.9M313.5,203.13h2.9M543.5,203.13h-2.9M313.5,188.47h2.9M543.5,188.47h-2.9M313.5,173.8h2.9M543.5,173.8h-2.9"/>
<path class="lv" d="M313.5,173.8V305.8M543.5,173.8V305.8M313.75,305.8v-2.5M313.75,173.8v2.5M336.75,305.8v-2.5M336.75,173.8v2.5M359.75,305.8v-2.5M359.75,173.8v2.5M382.75,305.8v-2.5M382.75,173.8v2.5M405.75,305.8v-2.5M405.75,173.8v2.5M428.75,305.8v-2.5M428.75,173.8v2.5M451.75,305.8v-2.5M451.75,173.8v2.5M474.75,305.8v-2.5M474.75,173.8v2.5M497.75,305.8v-2.5M497.75,173.8v2.5M520.75,305.8v-2.5M520.75,173.8v2.5M543.75,305.8v-2.5M543.75,173.8v2.5"/>
<text transform="translate(314.3,315.3) rotate(0.1)" text-anchor="middle">-10</text>
<text transform="translate(337.3,315.3) rotate(0.1)" text-anchor="middle">-8</text>
<text transform="translate(360.3,315.3) rotate(0.1)" text-anchor="middle">-6</text>
<text transform="translate(383.3,315.3) rotate(0.1)" text-anchor="middle">-4</text>
<text transform="translate(406.3,315.3) rotate(0.1)" text-anchor="middle">-2</text>
<text transform="translate(429.3,315.3) rotate(0.1)" text-anchor="middle">0</text>
<text transform="translate(452.3,315.3) rotate(0.1)" text-anchor="middle">2</text>
<text transform="translate(475.3,315.3) rotate(0.1)" text-anchor="middle">4</text>
<text transform="translate(498.3,315.3) rotate(0.1)" text-anchor="middle">6</text>
<text transform="translate(521.3,315.3) rotate(0.1)" text-anchor="middle">8</text>
<text transform="translate(544.3,315.3) rotate(0.1)" text-anchor="middle">10</text>
<text transform="translate(309.9,308.3) rotate(0.1)" text-anchor="end">0</text>
<text transform="translate(309.9,293.63) rotate(0.1)" text-anchor="end">10</text>
<text transform="translate(309.9,278.97) rotate(0.1)" text-anchor="end">20</text>
<text transform="translate(309.9,264.3) rotate(0.1)" text-anchor="end">30</text>
<text transform="translate(309.9,249.63) rotate(0.1)" text-anchor="end">40</text>
<text transform="translate(309.9,234.97) rotate(0.1)" text-anchor="end">50</text>
<text transform="translate(309.9,220.3) rotate(0.1)" text-anchor="end">60</text>
<text transform="translate(309.9,205.63) rotate(0.1)" text-anchor="end">70</text>
<text transform="translate(309.9,190.97) rotate(0.1)" text-anchor="end">80</text>
<text transform="translate(309.9,176.3) rotate(0.1)" text-anchor="end">90</text>
<text transform="translate(429.5,325.9) rotate(0.1)" text-anchor="middle">y-coordinate (l.u)</text>
<text transform="translate(294.2,239.5) rotate(-89.9)" text-anchor="middle">x-coordinate (l.u)</text>
</g>
</svg></body></html>
